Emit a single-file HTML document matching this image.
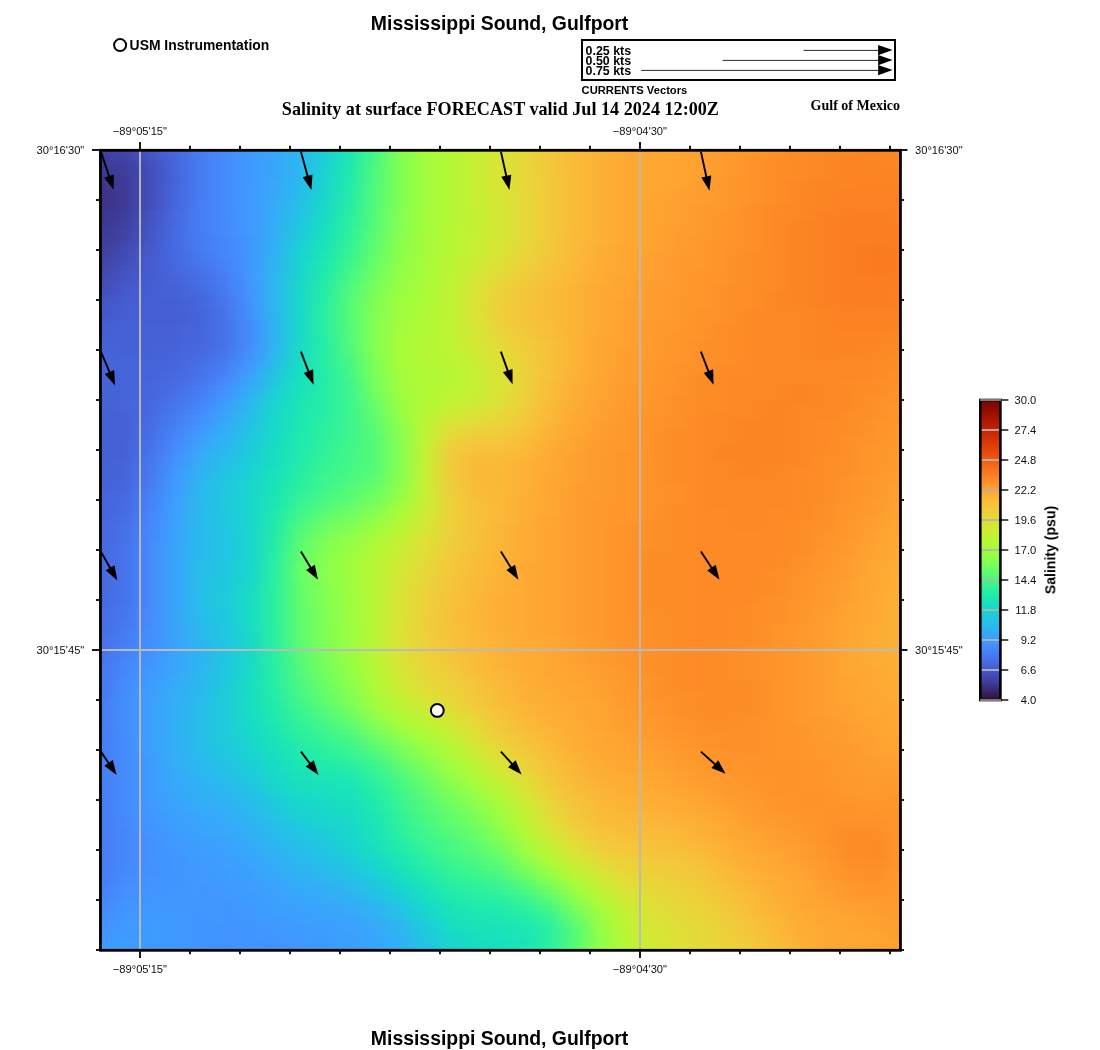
<!DOCTYPE html>
<html><head><meta charset="utf-8"><title>Mississippi Sound, Gulfport</title>
<style>
html,body{margin:0;padding:0;background:#fff;}
body{width:1100px;height:1050px;overflow:hidden;font-family:"Liberation Sans",sans-serif;}
svg{display:block;}
text{will-change:opacity;}
.sans{font-family:"Liberation Sans",sans-serif;}
.serif{font-family:"Liberation Serif",serif;}
</style></head><body>
<svg width="1100" height="1050" viewBox="0 0 1100 1050">
<defs>
<clipPath id="mapclip"><rect x="100" y="150" width="800" height="800"/></clipPath>
<linearGradient id="cb" x1="0" y1="0" x2="0" y2="1"><stop offset="0" stop-color="#7a0403"/><stop offset="0.0192308" stop-color="#880802"/><stop offset="0.0384615" stop-color="#980e01"/><stop offset="0.0576923" stop-color="#a71401"/><stop offset="0.0769231" stop-color="#b41b01"/><stop offset="0.0961538" stop-color="#c12302"/><stop offset="0.115385" stop-color="#cc2b04"/><stop offset="0.134615" stop-color="#d63506"/><stop offset="0.153846" stop-color="#df3f08"/><stop offset="0.173077" stop-color="#e7490c"/><stop offset="0.192308" stop-color="#ed5510"/><stop offset="0.211538" stop-color="#f36315"/><stop offset="0.230769" stop-color="#f8721c"/><stop offset="0.25" stop-color="#fb7e21"/><stop offset="0.269231" stop-color="#fd8d27"/><stop offset="0.288462" stop-color="#fe9b2d"/><stop offset="0.307692" stop-color="#fea933"/><stop offset="0.326923" stop-color="#fbb637"/><stop offset="0.346154" stop-color="#f7c13a"/><stop offset="0.365385" stop-color="#f1cb3a"/><stop offset="0.384615" stop-color="#e9d539"/><stop offset="0.403846" stop-color="#dfdf37"/><stop offset="0.423077" stop-color="#d4e735"/><stop offset="0.442308" stop-color="#c8ef34"/><stop offset="0.461538" stop-color="#bcf534"/><stop offset="0.480769" stop-color="#affa37"/><stop offset="0.5" stop-color="#a4fc3c"/><stop offset="0.519231" stop-color="#96fe44"/><stop offset="0.538462" stop-color="#84ff51"/><stop offset="0.557692" stop-color="#71fe5f"/><stop offset="0.576923" stop-color="#5dfc6f"/><stop offset="0.596154" stop-color="#4af880"/><stop offset="0.615385" stop-color="#38f491"/><stop offset="0.634615" stop-color="#2aefa1"/><stop offset="0.653846" stop-color="#1fe9af"/><stop offset="0.673077" stop-color="#19e2bb"/><stop offset="0.692308" stop-color="#18d9c8"/><stop offset="0.711538" stop-color="#1bd0d5"/><stop offset="0.730769" stop-color="#22c5e2"/><stop offset="0.75" stop-color="#28bceb"/><stop offset="0.769231" stop-color="#31aff5"/><stop offset="0.788462" stop-color="#3aa3fc"/><stop offset="0.807692" stop-color="#4196ff"/><stop offset="0.826923" stop-color="#458afc"/><stop offset="0.846154" stop-color="#467df4"/><stop offset="0.865385" stop-color="#4771e9"/><stop offset="0.884615" stop-color="#4664da"/><stop offset="0.903846" stop-color="#4456c7"/><stop offset="0.923077" stop-color="#4249b1"/><stop offset="0.942308" stop-color="#3f3b97"/><stop offset="0.961538" stop-color="#3a2d79"/><stop offset="0.980769" stop-color="#351e58"/><stop offset="1" stop-color="#30123b"/></linearGradient>
<linearGradient id="g0"><stop offset="0" stop-color="#4040a2"/><stop offset="0.03125" stop-color="#4249b1"/><stop offset="0.0625" stop-color="#4456c7"/><stop offset="0.09375" stop-color="#4669e0"/><stop offset="0.125" stop-color="#467df4"/><stop offset="0.15625" stop-color="#458cfd"/><stop offset="0.1875" stop-color="#3e9bfe"/><stop offset="0.21875" stop-color="#37a8fa"/><stop offset="0.25" stop-color="#2cb7f0"/><stop offset="0.28125" stop-color="#1bd0d5"/><stop offset="0.3125" stop-color="#1de7b2"/><stop offset="0.34375" stop-color="#4af880"/><stop offset="0.375" stop-color="#80ff53"/><stop offset="0.40625" stop-color="#a1fd3d"/><stop offset="0.4375" stop-color="#b4f836"/><stop offset="0.46875" stop-color="#c6f034"/><stop offset="0.5" stop-color="#d7e535"/><stop offset="0.53125" stop-color="#e7d739"/><stop offset="0.5625" stop-color="#f4c73a"/><stop offset="0.59375" stop-color="#faba39"/><stop offset="0.625" stop-color="#fcb136"/><stop offset="0.65625" stop-color="#fea933"/><stop offset="0.6875" stop-color="#fea732"/><stop offset="0.71875" stop-color="#fea431"/><stop offset="0.75" stop-color="#fea130"/><stop offset="0.78125" stop-color="#fe9b2d"/><stop offset="0.8125" stop-color="#fe962b"/><stop offset="0.84375" stop-color="#fe9029"/><stop offset="0.875" stop-color="#fd8a26"/><stop offset="0.90625" stop-color="#fc8725"/><stop offset="0.9375" stop-color="#fc8725"/><stop offset="0.96875" stop-color="#fc8423"/><stop offset="1" stop-color="#fc8725"/></linearGradient>
<linearGradient id="g1"><stop offset="0" stop-color="#4040a2"/><stop offset="0.03125" stop-color="#4146ac"/><stop offset="0.0625" stop-color="#4456c7"/><stop offset="0.09375" stop-color="#4669e0"/><stop offset="0.125" stop-color="#467df4"/><stop offset="0.15625" stop-color="#458cfd"/><stop offset="0.1875" stop-color="#3e9bfe"/><stop offset="0.21875" stop-color="#37a8fa"/><stop offset="0.25" stop-color="#2cb7f0"/><stop offset="0.28125" stop-color="#1bd0d5"/><stop offset="0.3125" stop-color="#1de7b2"/><stop offset="0.34375" stop-color="#4af880"/><stop offset="0.375" stop-color="#80ff53"/><stop offset="0.40625" stop-color="#a1fd3d"/><stop offset="0.4375" stop-color="#b4f836"/><stop offset="0.46875" stop-color="#c6f034"/><stop offset="0.5" stop-color="#d7e535"/><stop offset="0.53125" stop-color="#e7d739"/><stop offset="0.5625" stop-color="#f4c73a"/><stop offset="0.59375" stop-color="#faba39"/><stop offset="0.625" stop-color="#fcb136"/><stop offset="0.65625" stop-color="#fea933"/><stop offset="0.6875" stop-color="#fea732"/><stop offset="0.71875" stop-color="#fea431"/><stop offset="0.75" stop-color="#fea130"/><stop offset="0.78125" stop-color="#fe9b2d"/><stop offset="0.8125" stop-color="#fe962b"/><stop offset="0.84375" stop-color="#fe9029"/><stop offset="0.875" stop-color="#fd8a26"/><stop offset="0.90625" stop-color="#fc8725"/><stop offset="0.9375" stop-color="#fc8725"/><stop offset="0.96875" stop-color="#fc8423"/><stop offset="1" stop-color="#fc8725"/></linearGradient>
<linearGradient id="g2"><stop offset="0" stop-color="#3f3e9c"/><stop offset="0.03125" stop-color="#4143a7"/><stop offset="0.0625" stop-color="#4454c3"/><stop offset="0.09375" stop-color="#4666dd"/><stop offset="0.125" stop-color="#477bf2"/><stop offset="0.15625" stop-color="#458cfd"/><stop offset="0.1875" stop-color="#3e9bfe"/><stop offset="0.21875" stop-color="#38a5fb"/><stop offset="0.25" stop-color="#2cb7f0"/><stop offset="0.28125" stop-color="#1bd0d5"/><stop offset="0.3125" stop-color="#1de7b2"/><stop offset="0.34375" stop-color="#4af880"/><stop offset="0.375" stop-color="#80ff53"/><stop offset="0.40625" stop-color="#a1fd3d"/><stop offset="0.4375" stop-color="#b4f836"/><stop offset="0.46875" stop-color="#c6f034"/><stop offset="0.5" stop-color="#d9e436"/><stop offset="0.53125" stop-color="#e7d739"/><stop offset="0.5625" stop-color="#f4c73a"/><stop offset="0.59375" stop-color="#faba39"/><stop offset="0.625" stop-color="#fcb136"/><stop offset="0.65625" stop-color="#fea933"/><stop offset="0.6875" stop-color="#fea732"/><stop offset="0.71875" stop-color="#fea431"/><stop offset="0.75" stop-color="#fea130"/><stop offset="0.78125" stop-color="#fe9b2d"/><stop offset="0.8125" stop-color="#fe932a"/><stop offset="0.84375" stop-color="#fe9029"/><stop offset="0.875" stop-color="#fd8a26"/><stop offset="0.90625" stop-color="#fc8725"/><stop offset="0.9375" stop-color="#fc8423"/><stop offset="0.96875" stop-color="#fc8423"/><stop offset="1" stop-color="#fc8725"/></linearGradient>
<linearGradient id="g3"><stop offset="0" stop-color="#3f3b97"/><stop offset="0.03125" stop-color="#4040a2"/><stop offset="0.0625" stop-color="#4451bf"/><stop offset="0.09375" stop-color="#4666dd"/><stop offset="0.125" stop-color="#477bf2"/><stop offset="0.15625" stop-color="#458cfd"/><stop offset="0.1875" stop-color="#4099ff"/><stop offset="0.21875" stop-color="#38a5fb"/><stop offset="0.25" stop-color="#2cb7f0"/><stop offset="0.28125" stop-color="#1bd0d5"/><stop offset="0.3125" stop-color="#1fe9af"/><stop offset="0.34375" stop-color="#4af880"/><stop offset="0.375" stop-color="#80ff53"/><stop offset="0.40625" stop-color="#a1fd3d"/><stop offset="0.4375" stop-color="#b4f836"/><stop offset="0.46875" stop-color="#c6f034"/><stop offset="0.5" stop-color="#d9e436"/><stop offset="0.53125" stop-color="#e7d739"/><stop offset="0.5625" stop-color="#f4c73a"/><stop offset="0.59375" stop-color="#faba39"/><stop offset="0.625" stop-color="#fcb136"/><stop offset="0.65625" stop-color="#fea933"/><stop offset="0.6875" stop-color="#fea732"/><stop offset="0.71875" stop-color="#fea431"/><stop offset="0.75" stop-color="#fea130"/><stop offset="0.78125" stop-color="#fe9b2d"/><stop offset="0.8125" stop-color="#fe932a"/><stop offset="0.84375" stop-color="#fd8d27"/><stop offset="0.875" stop-color="#fd8a26"/><stop offset="0.90625" stop-color="#fc8725"/><stop offset="0.9375" stop-color="#fc8423"/><stop offset="0.96875" stop-color="#fc8423"/><stop offset="1" stop-color="#fc8725"/></linearGradient>
<linearGradient id="g4"><stop offset="0" stop-color="#3e3891"/><stop offset="0.03125" stop-color="#3f3e9c"/><stop offset="0.0625" stop-color="#434eba"/><stop offset="0.09375" stop-color="#4666dd"/><stop offset="0.125" stop-color="#477bf2"/><stop offset="0.15625" stop-color="#458cfd"/><stop offset="0.1875" stop-color="#4099ff"/><stop offset="0.21875" stop-color="#38a5fb"/><stop offset="0.25" stop-color="#2cb7f0"/><stop offset="0.28125" stop-color="#1ad2d2"/><stop offset="0.3125" stop-color="#1fe9af"/><stop offset="0.34375" stop-color="#4ef97d"/><stop offset="0.375" stop-color="#80ff53"/><stop offset="0.40625" stop-color="#a1fd3d"/><stop offset="0.4375" stop-color="#b4f836"/><stop offset="0.46875" stop-color="#c6f034"/><stop offset="0.5" stop-color="#d9e436"/><stop offset="0.53125" stop-color="#e7d739"/><stop offset="0.5625" stop-color="#f4c73a"/><stop offset="0.59375" stop-color="#f9bc39"/><stop offset="0.625" stop-color="#fcb136"/><stop offset="0.65625" stop-color="#fea933"/><stop offset="0.6875" stop-color="#fea732"/><stop offset="0.71875" stop-color="#fea431"/><stop offset="0.75" stop-color="#fea130"/><stop offset="0.78125" stop-color="#fe9b2d"/><stop offset="0.8125" stop-color="#fe932a"/><stop offset="0.84375" stop-color="#fd8d27"/><stop offset="0.875" stop-color="#fd8a26"/><stop offset="0.90625" stop-color="#fc8725"/><stop offset="0.9375" stop-color="#fc8423"/><stop offset="0.96875" stop-color="#fc8423"/><stop offset="1" stop-color="#fc8725"/></linearGradient>
<linearGradient id="g5"><stop offset="0" stop-color="#3e3891"/><stop offset="0.03125" stop-color="#3f3e9c"/><stop offset="0.0625" stop-color="#434eba"/><stop offset="0.09375" stop-color="#4664da"/><stop offset="0.125" stop-color="#477bf2"/><stop offset="0.15625" stop-color="#458cfd"/><stop offset="0.1875" stop-color="#4099ff"/><stop offset="0.21875" stop-color="#38a5fb"/><stop offset="0.25" stop-color="#2cb7f0"/><stop offset="0.28125" stop-color="#1ad2d2"/><stop offset="0.3125" stop-color="#20eaac"/><stop offset="0.34375" stop-color="#4ef97d"/><stop offset="0.375" stop-color="#80ff53"/><stop offset="0.40625" stop-color="#a1fd3d"/><stop offset="0.4375" stop-color="#b4f836"/><stop offset="0.46875" stop-color="#c6f034"/><stop offset="0.5" stop-color="#d9e436"/><stop offset="0.53125" stop-color="#e7d739"/><stop offset="0.5625" stop-color="#f2c93a"/><stop offset="0.59375" stop-color="#f9bc39"/><stop offset="0.625" stop-color="#fcb136"/><stop offset="0.65625" stop-color="#fea933"/><stop offset="0.6875" stop-color="#fea732"/><stop offset="0.71875" stop-color="#fea431"/><stop offset="0.75" stop-color="#fea130"/><stop offset="0.78125" stop-color="#fe9b2d"/><stop offset="0.8125" stop-color="#fe932a"/><stop offset="0.84375" stop-color="#fd8d27"/><stop offset="0.875" stop-color="#fd8a26"/><stop offset="0.90625" stop-color="#fc8725"/><stop offset="0.9375" stop-color="#fc8423"/><stop offset="0.96875" stop-color="#fc8423"/><stop offset="1" stop-color="#fc8423"/></linearGradient>
<linearGradient id="g6"><stop offset="0" stop-color="#3d358b"/><stop offset="0.03125" stop-color="#3f3b97"/><stop offset="0.0625" stop-color="#434eba"/><stop offset="0.09375" stop-color="#4664da"/><stop offset="0.125" stop-color="#477bf2"/><stop offset="0.15625" stop-color="#458cfd"/><stop offset="0.1875" stop-color="#4099ff"/><stop offset="0.21875" stop-color="#38a5fb"/><stop offset="0.25" stop-color="#2ab9ee"/><stop offset="0.28125" stop-color="#1ad4d0"/><stop offset="0.3125" stop-color="#20eaac"/><stop offset="0.34375" stop-color="#4ef97d"/><stop offset="0.375" stop-color="#80ff53"/><stop offset="0.40625" stop-color="#a1fd3d"/><stop offset="0.4375" stop-color="#b4f836"/><stop offset="0.46875" stop-color="#c6f034"/><stop offset="0.5" stop-color="#d9e436"/><stop offset="0.53125" stop-color="#e7d739"/><stop offset="0.5625" stop-color="#f2c93a"/><stop offset="0.59375" stop-color="#f9bc39"/><stop offset="0.625" stop-color="#fcb136"/><stop offset="0.65625" stop-color="#fea933"/><stop offset="0.6875" stop-color="#fea732"/><stop offset="0.71875" stop-color="#fea431"/><stop offset="0.75" stop-color="#fea130"/><stop offset="0.78125" stop-color="#fe992c"/><stop offset="0.8125" stop-color="#fe932a"/><stop offset="0.84375" stop-color="#fd8d27"/><stop offset="0.875" stop-color="#fd8a26"/><stop offset="0.90625" stop-color="#fc8725"/><stop offset="0.9375" stop-color="#fc8423"/><stop offset="0.96875" stop-color="#fc8423"/><stop offset="1" stop-color="#fc8423"/></linearGradient>
<linearGradient id="g7"><stop offset="0" stop-color="#3d358b"/><stop offset="0.03125" stop-color="#3f3b97"/><stop offset="0.0625" stop-color="#434eba"/><stop offset="0.09375" stop-color="#4664da"/><stop offset="0.125" stop-color="#477bf2"/><stop offset="0.15625" stop-color="#458cfd"/><stop offset="0.1875" stop-color="#4099ff"/><stop offset="0.21875" stop-color="#37a8fa"/><stop offset="0.25" stop-color="#2ab9ee"/><stop offset="0.28125" stop-color="#1ad4d0"/><stop offset="0.3125" stop-color="#22ebaa"/><stop offset="0.34375" stop-color="#4ef97d"/><stop offset="0.375" stop-color="#80ff53"/><stop offset="0.40625" stop-color="#a1fd3d"/><stop offset="0.4375" stop-color="#b4f836"/><stop offset="0.46875" stop-color="#c6f034"/><stop offset="0.5" stop-color="#d7e535"/><stop offset="0.53125" stop-color="#e7d739"/><stop offset="0.5625" stop-color="#f2c93a"/><stop offset="0.59375" stop-color="#f9bc39"/><stop offset="0.625" stop-color="#fcb136"/><stop offset="0.65625" stop-color="#fea933"/><stop offset="0.6875" stop-color="#fea732"/><stop offset="0.71875" stop-color="#fea431"/><stop offset="0.75" stop-color="#fe9e2f"/><stop offset="0.78125" stop-color="#fe992c"/><stop offset="0.8125" stop-color="#fe932a"/><stop offset="0.84375" stop-color="#fd8d27"/><stop offset="0.875" stop-color="#fc8725"/><stop offset="0.90625" stop-color="#fc8423"/><stop offset="0.9375" stop-color="#fc8423"/><stop offset="0.96875" stop-color="#fc8423"/><stop offset="1" stop-color="#fc8423"/></linearGradient>
<linearGradient id="g8"><stop offset="0" stop-color="#3d358b"/><stop offset="0.03125" stop-color="#3f3b97"/><stop offset="0.0625" stop-color="#434eba"/><stop offset="0.09375" stop-color="#4666dd"/><stop offset="0.125" stop-color="#477bf2"/><stop offset="0.15625" stop-color="#458cfd"/><stop offset="0.1875" stop-color="#4099ff"/><stop offset="0.21875" stop-color="#37a8fa"/><stop offset="0.25" stop-color="#28bceb"/><stop offset="0.28125" stop-color="#19d5cd"/><stop offset="0.3125" stop-color="#22ebaa"/><stop offset="0.34375" stop-color="#52fa7a"/><stop offset="0.375" stop-color="#80ff53"/><stop offset="0.40625" stop-color="#a1fd3d"/><stop offset="0.4375" stop-color="#b4f836"/><stop offset="0.46875" stop-color="#c6f034"/><stop offset="0.5" stop-color="#d7e535"/><stop offset="0.53125" stop-color="#e7d739"/><stop offset="0.5625" stop-color="#f2c93a"/><stop offset="0.59375" stop-color="#f9bc39"/><stop offset="0.625" stop-color="#fcb136"/><stop offset="0.65625" stop-color="#fea933"/><stop offset="0.6875" stop-color="#fea732"/><stop offset="0.71875" stop-color="#fea431"/><stop offset="0.75" stop-color="#fe9e2f"/><stop offset="0.78125" stop-color="#fe992c"/><stop offset="0.8125" stop-color="#fe932a"/><stop offset="0.84375" stop-color="#fd8d27"/><stop offset="0.875" stop-color="#fc8725"/><stop offset="0.90625" stop-color="#fc8423"/><stop offset="0.9375" stop-color="#fc8423"/><stop offset="0.96875" stop-color="#fb8122"/><stop offset="1" stop-color="#fc8423"/></linearGradient>
<linearGradient id="g9"><stop offset="0" stop-color="#3c3286"/><stop offset="0.03125" stop-color="#3f3b97"/><stop offset="0.0625" stop-color="#434eba"/><stop offset="0.09375" stop-color="#4666dd"/><stop offset="0.125" stop-color="#477bf2"/><stop offset="0.15625" stop-color="#458cfd"/><stop offset="0.1875" stop-color="#4099ff"/><stop offset="0.21875" stop-color="#37a8fa"/><stop offset="0.25" stop-color="#28bceb"/><stop offset="0.28125" stop-color="#19d5cd"/><stop offset="0.3125" stop-color="#25eca7"/><stop offset="0.34375" stop-color="#52fa7a"/><stop offset="0.375" stop-color="#80ff53"/><stop offset="0.40625" stop-color="#a1fd3d"/><stop offset="0.4375" stop-color="#b4f836"/><stop offset="0.46875" stop-color="#c6f034"/><stop offset="0.5" stop-color="#d7e535"/><stop offset="0.53125" stop-color="#e7d739"/><stop offset="0.5625" stop-color="#f2c93a"/><stop offset="0.59375" stop-color="#f9bc39"/><stop offset="0.625" stop-color="#fcb136"/><stop offset="0.65625" stop-color="#fea933"/><stop offset="0.6875" stop-color="#fea732"/><stop offset="0.71875" stop-color="#fea130"/><stop offset="0.75" stop-color="#fe9e2f"/><stop offset="0.78125" stop-color="#fe992c"/><stop offset="0.8125" stop-color="#fe932a"/><stop offset="0.84375" stop-color="#fd8d27"/><stop offset="0.875" stop-color="#fc8725"/><stop offset="0.90625" stop-color="#fc8423"/><stop offset="0.9375" stop-color="#fb8122"/><stop offset="0.96875" stop-color="#fb8122"/><stop offset="1" stop-color="#fc8423"/></linearGradient>
<linearGradient id="g10"><stop offset="0" stop-color="#3c3286"/><stop offset="0.03125" stop-color="#3f3b97"/><stop offset="0.0625" stop-color="#434eba"/><stop offset="0.09375" stop-color="#4666dd"/><stop offset="0.125" stop-color="#477bf2"/><stop offset="0.15625" stop-color="#458cfd"/><stop offset="0.1875" stop-color="#4099ff"/><stop offset="0.21875" stop-color="#37a8fa"/><stop offset="0.25" stop-color="#27bee9"/><stop offset="0.28125" stop-color="#18d7ca"/><stop offset="0.3125" stop-color="#25eca7"/><stop offset="0.34375" stop-color="#52fa7a"/><stop offset="0.375" stop-color="#80ff53"/><stop offset="0.40625" stop-color="#a1fd3d"/><stop offset="0.4375" stop-color="#b4f836"/><stop offset="0.46875" stop-color="#c6f034"/><stop offset="0.5" stop-color="#d7e535"/><stop offset="0.53125" stop-color="#e5d938"/><stop offset="0.5625" stop-color="#f2c93a"/><stop offset="0.59375" stop-color="#f9bc39"/><stop offset="0.625" stop-color="#fcb136"/><stop offset="0.65625" stop-color="#fea933"/><stop offset="0.6875" stop-color="#fea732"/><stop offset="0.71875" stop-color="#fea130"/><stop offset="0.75" stop-color="#fe9e2f"/><stop offset="0.78125" stop-color="#fe992c"/><stop offset="0.8125" stop-color="#fe932a"/><stop offset="0.84375" stop-color="#fd8d27"/><stop offset="0.875" stop-color="#fc8725"/><stop offset="0.90625" stop-color="#fc8423"/><stop offset="0.9375" stop-color="#fb8122"/><stop offset="0.96875" stop-color="#fb8122"/><stop offset="1" stop-color="#fb8122"/></linearGradient>
<linearGradient id="g11"><stop offset="0" stop-color="#3c3286"/><stop offset="0.03125" stop-color="#3f3b97"/><stop offset="0.0625" stop-color="#434eba"/><stop offset="0.09375" stop-color="#4666dd"/><stop offset="0.125" stop-color="#467df4"/><stop offset="0.15625" stop-color="#458cfd"/><stop offset="0.1875" stop-color="#4099ff"/><stop offset="0.21875" stop-color="#35abf8"/><stop offset="0.25" stop-color="#25c0e7"/><stop offset="0.28125" stop-color="#18d9c8"/><stop offset="0.3125" stop-color="#25eca7"/><stop offset="0.34375" stop-color="#52fa7a"/><stop offset="0.375" stop-color="#80ff53"/><stop offset="0.40625" stop-color="#a1fd3d"/><stop offset="0.4375" stop-color="#b4f836"/><stop offset="0.46875" stop-color="#c6f034"/><stop offset="0.5" stop-color="#d4e735"/><stop offset="0.53125" stop-color="#e5d938"/><stop offset="0.5625" stop-color="#f2c93a"/><stop offset="0.59375" stop-color="#f9bc39"/><stop offset="0.625" stop-color="#fcb136"/><stop offset="0.65625" stop-color="#fea933"/><stop offset="0.6875" stop-color="#fea431"/><stop offset="0.71875" stop-color="#fea130"/><stop offset="0.75" stop-color="#fe9e2f"/><stop offset="0.78125" stop-color="#fe992c"/><stop offset="0.8125" stop-color="#fe932a"/><stop offset="0.84375" stop-color="#fd8d27"/><stop offset="0.875" stop-color="#fc8725"/><stop offset="0.90625" stop-color="#fc8423"/><stop offset="0.9375" stop-color="#fb8122"/><stop offset="0.96875" stop-color="#fb8122"/><stop offset="1" stop-color="#fb8122"/></linearGradient>
<linearGradient id="g12"><stop offset="0" stop-color="#3c3286"/><stop offset="0.03125" stop-color="#3f3b97"/><stop offset="0.0625" stop-color="#434eba"/><stop offset="0.09375" stop-color="#4666dd"/><stop offset="0.125" stop-color="#467df4"/><stop offset="0.15625" stop-color="#458cfd"/><stop offset="0.1875" stop-color="#4099ff"/><stop offset="0.21875" stop-color="#35abf8"/><stop offset="0.25" stop-color="#25c0e7"/><stop offset="0.28125" stop-color="#18d9c8"/><stop offset="0.3125" stop-color="#27eea4"/><stop offset="0.34375" stop-color="#52fa7a"/><stop offset="0.375" stop-color="#80ff53"/><stop offset="0.40625" stop-color="#a1fd3d"/><stop offset="0.4375" stop-color="#b4f836"/><stop offset="0.46875" stop-color="#c6f034"/><stop offset="0.5" stop-color="#d4e735"/><stop offset="0.53125" stop-color="#e5d938"/><stop offset="0.5625" stop-color="#f2c93a"/><stop offset="0.59375" stop-color="#f9bc39"/><stop offset="0.625" stop-color="#fcb136"/><stop offset="0.65625" stop-color="#fea933"/><stop offset="0.6875" stop-color="#fea431"/><stop offset="0.71875" stop-color="#fea130"/><stop offset="0.75" stop-color="#fe9b2d"/><stop offset="0.78125" stop-color="#fe992c"/><stop offset="0.8125" stop-color="#fe9029"/><stop offset="0.84375" stop-color="#fd8a26"/><stop offset="0.875" stop-color="#fc8725"/><stop offset="0.90625" stop-color="#fc8423"/><stop offset="0.9375" stop-color="#fb8122"/><stop offset="0.96875" stop-color="#fb8122"/><stop offset="1" stop-color="#fb8122"/></linearGradient>
<linearGradient id="g13"><stop offset="0" stop-color="#3d358b"/><stop offset="0.03125" stop-color="#3f3e9c"/><stop offset="0.0625" stop-color="#4451bf"/><stop offset="0.09375" stop-color="#4669e0"/><stop offset="0.125" stop-color="#467df4"/><stop offset="0.15625" stop-color="#458afc"/><stop offset="0.1875" stop-color="#4099ff"/><stop offset="0.21875" stop-color="#35abf8"/><stop offset="0.25" stop-color="#23c3e4"/><stop offset="0.28125" stop-color="#18dbc5"/><stop offset="0.3125" stop-color="#27eea4"/><stop offset="0.34375" stop-color="#55fa76"/><stop offset="0.375" stop-color="#84ff51"/><stop offset="0.40625" stop-color="#a1fd3d"/><stop offset="0.4375" stop-color="#b4f836"/><stop offset="0.46875" stop-color="#c3f134"/><stop offset="0.5" stop-color="#d4e735"/><stop offset="0.53125" stop-color="#e5d938"/><stop offset="0.5625" stop-color="#f2c93a"/><stop offset="0.59375" stop-color="#f9bc39"/><stop offset="0.625" stop-color="#fcb136"/><stop offset="0.65625" stop-color="#fea933"/><stop offset="0.6875" stop-color="#fea431"/><stop offset="0.71875" stop-color="#fea130"/><stop offset="0.75" stop-color="#fe9b2d"/><stop offset="0.78125" stop-color="#fe962b"/><stop offset="0.8125" stop-color="#fe9029"/><stop offset="0.84375" stop-color="#fd8a26"/><stop offset="0.875" stop-color="#fc8725"/><stop offset="0.90625" stop-color="#fb8122"/><stop offset="0.9375" stop-color="#fb8122"/><stop offset="0.96875" stop-color="#fb7e21"/><stop offset="1" stop-color="#fb8122"/></linearGradient>
<linearGradient id="g14"><stop offset="0" stop-color="#3d358b"/><stop offset="0.03125" stop-color="#3f3e9c"/><stop offset="0.0625" stop-color="#4451bf"/><stop offset="0.09375" stop-color="#4669e0"/><stop offset="0.125" stop-color="#467df4"/><stop offset="0.15625" stop-color="#458afc"/><stop offset="0.1875" stop-color="#4099ff"/><stop offset="0.21875" stop-color="#33adf7"/><stop offset="0.25" stop-color="#22c5e2"/><stop offset="0.28125" stop-color="#18ddc2"/><stop offset="0.3125" stop-color="#2aefa1"/><stop offset="0.34375" stop-color="#55fa76"/><stop offset="0.375" stop-color="#84ff51"/><stop offset="0.40625" stop-color="#a1fd3d"/><stop offset="0.4375" stop-color="#b4f836"/><stop offset="0.46875" stop-color="#c3f134"/><stop offset="0.5" stop-color="#d4e735"/><stop offset="0.53125" stop-color="#e5d938"/><stop offset="0.5625" stop-color="#f2c93a"/><stop offset="0.59375" stop-color="#f9bc39"/><stop offset="0.625" stop-color="#fcb136"/><stop offset="0.65625" stop-color="#fea933"/><stop offset="0.6875" stop-color="#fea431"/><stop offset="0.71875" stop-color="#fea130"/><stop offset="0.75" stop-color="#fe9b2d"/><stop offset="0.78125" stop-color="#fe962b"/><stop offset="0.8125" stop-color="#fe9029"/><stop offset="0.84375" stop-color="#fd8a26"/><stop offset="0.875" stop-color="#fc8725"/><stop offset="0.90625" stop-color="#fb8122"/><stop offset="0.9375" stop-color="#fb7e21"/><stop offset="0.96875" stop-color="#fb7e21"/><stop offset="1" stop-color="#fb8122"/></linearGradient>
<linearGradient id="g15"><stop offset="0" stop-color="#3d358b"/><stop offset="0.03125" stop-color="#4040a2"/><stop offset="0.0625" stop-color="#4454c3"/><stop offset="0.09375" stop-color="#4669e0"/><stop offset="0.125" stop-color="#467df4"/><stop offset="0.15625" stop-color="#458afc"/><stop offset="0.1875" stop-color="#4099ff"/><stop offset="0.21875" stop-color="#33adf7"/><stop offset="0.25" stop-color="#20c7df"/><stop offset="0.28125" stop-color="#18dec0"/><stop offset="0.3125" stop-color="#2aefa1"/><stop offset="0.34375" stop-color="#55fa76"/><stop offset="0.375" stop-color="#84ff51"/><stop offset="0.40625" stop-color="#a1fd3d"/><stop offset="0.4375" stop-color="#b7f735"/><stop offset="0.46875" stop-color="#c3f134"/><stop offset="0.5" stop-color="#d4e735"/><stop offset="0.53125" stop-color="#e5d938"/><stop offset="0.5625" stop-color="#f2c93a"/><stop offset="0.59375" stop-color="#f9bc39"/><stop offset="0.625" stop-color="#fcb136"/><stop offset="0.65625" stop-color="#fea933"/><stop offset="0.6875" stop-color="#fea431"/><stop offset="0.71875" stop-color="#fea130"/><stop offset="0.75" stop-color="#fe9b2d"/><stop offset="0.78125" stop-color="#fe962b"/><stop offset="0.8125" stop-color="#fe9029"/><stop offset="0.84375" stop-color="#fd8a26"/><stop offset="0.875" stop-color="#fc8423"/><stop offset="0.90625" stop-color="#fb8122"/><stop offset="0.9375" stop-color="#fb7e21"/><stop offset="0.96875" stop-color="#fb7e21"/><stop offset="1" stop-color="#fb8122"/></linearGradient>
<linearGradient id="g16"><stop offset="0" stop-color="#3e3891"/><stop offset="0.03125" stop-color="#4040a2"/><stop offset="0.0625" stop-color="#4454c3"/><stop offset="0.09375" stop-color="#4669e0"/><stop offset="0.125" stop-color="#467df4"/><stop offset="0.15625" stop-color="#458afc"/><stop offset="0.1875" stop-color="#4099ff"/><stop offset="0.21875" stop-color="#33adf7"/><stop offset="0.25" stop-color="#1fc9dd"/><stop offset="0.28125" stop-color="#18e0bd"/><stop offset="0.3125" stop-color="#2cf09e"/><stop offset="0.34375" stop-color="#55fa76"/><stop offset="0.375" stop-color="#84ff51"/><stop offset="0.40625" stop-color="#a1fd3d"/><stop offset="0.4375" stop-color="#b7f735"/><stop offset="0.46875" stop-color="#c3f134"/><stop offset="0.5" stop-color="#d4e735"/><stop offset="0.53125" stop-color="#e5d938"/><stop offset="0.5625" stop-color="#f2c93a"/><stop offset="0.59375" stop-color="#f9bc39"/><stop offset="0.625" stop-color="#fcb136"/><stop offset="0.65625" stop-color="#fea933"/><stop offset="0.6875" stop-color="#fea431"/><stop offset="0.71875" stop-color="#fe9e2f"/><stop offset="0.75" stop-color="#fe9b2d"/><stop offset="0.78125" stop-color="#fe962b"/><stop offset="0.8125" stop-color="#fe9029"/><stop offset="0.84375" stop-color="#fd8a26"/><stop offset="0.875" stop-color="#fc8423"/><stop offset="0.90625" stop-color="#fb8122"/><stop offset="0.9375" stop-color="#fb7e21"/><stop offset="0.96875" stop-color="#fb7e21"/><stop offset="1" stop-color="#fb7e21"/></linearGradient>
<linearGradient id="g17"><stop offset="0" stop-color="#3e3891"/><stop offset="0.03125" stop-color="#4143a7"/><stop offset="0.0625" stop-color="#4456c7"/><stop offset="0.09375" stop-color="#466be3"/><stop offset="0.125" stop-color="#467df4"/><stop offset="0.15625" stop-color="#458afc"/><stop offset="0.1875" stop-color="#4099ff"/><stop offset="0.21875" stop-color="#31aff5"/><stop offset="0.25" stop-color="#1fc9dd"/><stop offset="0.28125" stop-color="#18e0bd"/><stop offset="0.3125" stop-color="#2ff19b"/><stop offset="0.34375" stop-color="#59fb73"/><stop offset="0.375" stop-color="#84ff51"/><stop offset="0.40625" stop-color="#a4fc3c"/><stop offset="0.4375" stop-color="#b7f735"/><stop offset="0.46875" stop-color="#c6f034"/><stop offset="0.5" stop-color="#d4e735"/><stop offset="0.53125" stop-color="#e5d938"/><stop offset="0.5625" stop-color="#f2c93a"/><stop offset="0.59375" stop-color="#faba39"/><stop offset="0.625" stop-color="#fcb136"/><stop offset="0.65625" stop-color="#fea933"/><stop offset="0.6875" stop-color="#fea431"/><stop offset="0.71875" stop-color="#fe9e2f"/><stop offset="0.75" stop-color="#fe9b2d"/><stop offset="0.78125" stop-color="#fe962b"/><stop offset="0.8125" stop-color="#fe9029"/><stop offset="0.84375" stop-color="#fd8a26"/><stop offset="0.875" stop-color="#fc8423"/><stop offset="0.90625" stop-color="#fb8122"/><stop offset="0.9375" stop-color="#fb7e21"/><stop offset="0.96875" stop-color="#fb7e21"/><stop offset="1" stop-color="#fb7e21"/></linearGradient>
<linearGradient id="g18"><stop offset="0" stop-color="#3f3b97"/><stop offset="0.03125" stop-color="#4143a7"/><stop offset="0.0625" stop-color="#4456c7"/><stop offset="0.09375" stop-color="#466be3"/><stop offset="0.125" stop-color="#477bf2"/><stop offset="0.15625" stop-color="#4687fb"/><stop offset="0.1875" stop-color="#4196ff"/><stop offset="0.21875" stop-color="#31aff5"/><stop offset="0.25" stop-color="#1ecbda"/><stop offset="0.28125" stop-color="#19e2bb"/><stop offset="0.3125" stop-color="#2ff19b"/><stop offset="0.34375" stop-color="#59fb73"/><stop offset="0.375" stop-color="#88ff4e"/><stop offset="0.40625" stop-color="#a4fc3c"/><stop offset="0.4375" stop-color="#b7f735"/><stop offset="0.46875" stop-color="#c6f034"/><stop offset="0.5" stop-color="#d4e735"/><stop offset="0.53125" stop-color="#e5d938"/><stop offset="0.5625" stop-color="#f2c93a"/><stop offset="0.59375" stop-color="#faba39"/><stop offset="0.625" stop-color="#fcb136"/><stop offset="0.65625" stop-color="#fea933"/><stop offset="0.6875" stop-color="#fea431"/><stop offset="0.71875" stop-color="#fe9e2f"/><stop offset="0.75" stop-color="#fe992c"/><stop offset="0.78125" stop-color="#fe962b"/><stop offset="0.8125" stop-color="#fe9029"/><stop offset="0.84375" stop-color="#fd8a26"/><stop offset="0.875" stop-color="#fc8423"/><stop offset="0.90625" stop-color="#fb8122"/><stop offset="0.9375" stop-color="#fb7e21"/><stop offset="0.96875" stop-color="#fb7e21"/><stop offset="1" stop-color="#fb7e21"/></linearGradient>
<linearGradient id="g19"><stop offset="0" stop-color="#3f3b97"/><stop offset="0.03125" stop-color="#4146ac"/><stop offset="0.0625" stop-color="#4456c7"/><stop offset="0.09375" stop-color="#466be3"/><stop offset="0.125" stop-color="#477bf2"/><stop offset="0.15625" stop-color="#4687fb"/><stop offset="0.1875" stop-color="#4196ff"/><stop offset="0.21875" stop-color="#2fb2f4"/><stop offset="0.25" stop-color="#1ccdd8"/><stop offset="0.28125" stop-color="#19e3b9"/><stop offset="0.3125" stop-color="#32f298"/><stop offset="0.34375" stop-color="#5dfc6f"/><stop offset="0.375" stop-color="#88ff4e"/><stop offset="0.40625" stop-color="#a4fc3c"/><stop offset="0.4375" stop-color="#b7f735"/><stop offset="0.46875" stop-color="#c6f034"/><stop offset="0.5" stop-color="#d7e535"/><stop offset="0.53125" stop-color="#e7d739"/><stop offset="0.5625" stop-color="#f2c93a"/><stop offset="0.59375" stop-color="#faba39"/><stop offset="0.625" stop-color="#fcb136"/><stop offset="0.65625" stop-color="#fea933"/><stop offset="0.6875" stop-color="#fea431"/><stop offset="0.71875" stop-color="#fe9e2f"/><stop offset="0.75" stop-color="#fe992c"/><stop offset="0.78125" stop-color="#fe932a"/><stop offset="0.8125" stop-color="#fe9029"/><stop offset="0.84375" stop-color="#fd8a26"/><stop offset="0.875" stop-color="#fc8423"/><stop offset="0.90625" stop-color="#fb8122"/><stop offset="0.9375" stop-color="#fb7e21"/><stop offset="0.96875" stop-color="#fb7e21"/><stop offset="1" stop-color="#fb7e21"/></linearGradient>
<linearGradient id="g20"><stop offset="0" stop-color="#3f3e9c"/><stop offset="0.03125" stop-color="#4249b1"/><stop offset="0.0625" stop-color="#4559cb"/><stop offset="0.09375" stop-color="#466be3"/><stop offset="0.125" stop-color="#477bf2"/><stop offset="0.15625" stop-color="#4687fb"/><stop offset="0.1875" stop-color="#4196ff"/><stop offset="0.21875" stop-color="#2fb2f4"/><stop offset="0.25" stop-color="#1bd0d5"/><stop offset="0.28125" stop-color="#1ae4b6"/><stop offset="0.3125" stop-color="#35f394"/><stop offset="0.34375" stop-color="#5dfc6f"/><stop offset="0.375" stop-color="#88ff4e"/><stop offset="0.40625" stop-color="#a4fc3c"/><stop offset="0.4375" stop-color="#b7f735"/><stop offset="0.46875" stop-color="#c8ef34"/><stop offset="0.5" stop-color="#d7e535"/><stop offset="0.53125" stop-color="#e7d739"/><stop offset="0.5625" stop-color="#f4c73a"/><stop offset="0.59375" stop-color="#faba39"/><stop offset="0.625" stop-color="#fdae35"/><stop offset="0.65625" stop-color="#fea732"/><stop offset="0.6875" stop-color="#fea431"/><stop offset="0.71875" stop-color="#fe9e2f"/><stop offset="0.75" stop-color="#fe992c"/><stop offset="0.78125" stop-color="#fe932a"/><stop offset="0.8125" stop-color="#fe9029"/><stop offset="0.84375" stop-color="#fd8a26"/><stop offset="0.875" stop-color="#fc8423"/><stop offset="0.90625" stop-color="#fb8122"/><stop offset="0.9375" stop-color="#fb7e21"/><stop offset="0.96875" stop-color="#fa7b1f"/><stop offset="1" stop-color="#fb7e21"/></linearGradient>
<linearGradient id="g21"><stop offset="0" stop-color="#3f3e9c"/><stop offset="0.03125" stop-color="#424bb5"/><stop offset="0.0625" stop-color="#4559cb"/><stop offset="0.09375" stop-color="#4669e0"/><stop offset="0.125" stop-color="#4778f0"/><stop offset="0.15625" stop-color="#4685fa"/><stop offset="0.1875" stop-color="#4196ff"/><stop offset="0.21875" stop-color="#2fb2f4"/><stop offset="0.25" stop-color="#1ad2d2"/><stop offset="0.28125" stop-color="#1ce6b4"/><stop offset="0.3125" stop-color="#35f394"/><stop offset="0.34375" stop-color="#61fc6c"/><stop offset="0.375" stop-color="#8bff4b"/><stop offset="0.40625" stop-color="#a4fc3c"/><stop offset="0.4375" stop-color="#b7f735"/><stop offset="0.46875" stop-color="#c8ef34"/><stop offset="0.5" stop-color="#d9e436"/><stop offset="0.53125" stop-color="#e9d539"/><stop offset="0.5625" stop-color="#f4c73a"/><stop offset="0.59375" stop-color="#faba39"/><stop offset="0.625" stop-color="#fdae35"/><stop offset="0.65625" stop-color="#fea732"/><stop offset="0.6875" stop-color="#fea130"/><stop offset="0.71875" stop-color="#fe9e2f"/><stop offset="0.75" stop-color="#fe992c"/><stop offset="0.78125" stop-color="#fe932a"/><stop offset="0.8125" stop-color="#fd8d27"/><stop offset="0.84375" stop-color="#fd8a26"/><stop offset="0.875" stop-color="#fc8423"/><stop offset="0.90625" stop-color="#fb8122"/><stop offset="0.9375" stop-color="#fb7e21"/><stop offset="0.96875" stop-color="#fa7b1f"/><stop offset="1" stop-color="#fb7e21"/></linearGradient>
<linearGradient id="g22"><stop offset="0" stop-color="#4040a2"/><stop offset="0.03125" stop-color="#424bb5"/><stop offset="0.0625" stop-color="#455ccf"/><stop offset="0.09375" stop-color="#4669e0"/><stop offset="0.125" stop-color="#4778f0"/><stop offset="0.15625" stop-color="#4685fa"/><stop offset="0.1875" stop-color="#4196ff"/><stop offset="0.21875" stop-color="#2eb4f2"/><stop offset="0.25" stop-color="#1ad2d2"/><stop offset="0.28125" stop-color="#1de7b2"/><stop offset="0.3125" stop-color="#38f491"/><stop offset="0.34375" stop-color="#65fd69"/><stop offset="0.375" stop-color="#8bff4b"/><stop offset="0.40625" stop-color="#a4fc3c"/><stop offset="0.4375" stop-color="#b9f635"/><stop offset="0.46875" stop-color="#cbed34"/><stop offset="0.5" stop-color="#dbe236"/><stop offset="0.53125" stop-color="#ebd339"/><stop offset="0.5625" stop-color="#f5c53a"/><stop offset="0.59375" stop-color="#fbb838"/><stop offset="0.625" stop-color="#fdae35"/><stop offset="0.65625" stop-color="#fea732"/><stop offset="0.6875" stop-color="#fea130"/><stop offset="0.71875" stop-color="#fe9b2d"/><stop offset="0.75" stop-color="#fe992c"/><stop offset="0.78125" stop-color="#fe932a"/><stop offset="0.8125" stop-color="#fd8d27"/><stop offset="0.84375" stop-color="#fd8a26"/><stop offset="0.875" stop-color="#fc8423"/><stop offset="0.90625" stop-color="#fb8122"/><stop offset="0.9375" stop-color="#fb7e21"/><stop offset="0.96875" stop-color="#fa7b1f"/><stop offset="1" stop-color="#fb7e21"/></linearGradient>
<linearGradient id="g23"><stop offset="0" stop-color="#4143a7"/><stop offset="0.03125" stop-color="#434eba"/><stop offset="0.0625" stop-color="#455ccf"/><stop offset="0.09375" stop-color="#4669e0"/><stop offset="0.125" stop-color="#4776ee"/><stop offset="0.15625" stop-color="#4682f8"/><stop offset="0.1875" stop-color="#4196ff"/><stop offset="0.21875" stop-color="#2eb4f2"/><stop offset="0.25" stop-color="#1ad4d0"/><stop offset="0.28125" stop-color="#1fe9af"/><stop offset="0.3125" stop-color="#3cf58e"/><stop offset="0.34375" stop-color="#69fd66"/><stop offset="0.375" stop-color="#8fff49"/><stop offset="0.40625" stop-color="#a7fc3a"/><stop offset="0.4375" stop-color="#b9f635"/><stop offset="0.46875" stop-color="#cdec34"/><stop offset="0.5" stop-color="#dde037"/><stop offset="0.53125" stop-color="#ecd13a"/><stop offset="0.5625" stop-color="#f5c53a"/><stop offset="0.59375" stop-color="#fbb838"/><stop offset="0.625" stop-color="#fdae35"/><stop offset="0.65625" stop-color="#fea732"/><stop offset="0.6875" stop-color="#fea130"/><stop offset="0.71875" stop-color="#fe9b2d"/><stop offset="0.75" stop-color="#fe992c"/><stop offset="0.78125" stop-color="#fe932a"/><stop offset="0.8125" stop-color="#fd8d27"/><stop offset="0.84375" stop-color="#fd8a26"/><stop offset="0.875" stop-color="#fc8423"/><stop offset="0.90625" stop-color="#fb8122"/><stop offset="0.9375" stop-color="#fb7e21"/><stop offset="0.96875" stop-color="#fa7b1f"/><stop offset="1" stop-color="#fb7e21"/></linearGradient>
<linearGradient id="g24"><stop offset="0" stop-color="#4143a7"/><stop offset="0.03125" stop-color="#4451bf"/><stop offset="0.0625" stop-color="#455ccf"/><stop offset="0.09375" stop-color="#4666dd"/><stop offset="0.125" stop-color="#4773eb"/><stop offset="0.15625" stop-color="#4682f8"/><stop offset="0.1875" stop-color="#4196ff"/><stop offset="0.21875" stop-color="#2eb4f2"/><stop offset="0.25" stop-color="#1ad4d0"/><stop offset="0.28125" stop-color="#1fe9af"/><stop offset="0.3125" stop-color="#3ff68a"/><stop offset="0.34375" stop-color="#69fd66"/><stop offset="0.375" stop-color="#8fff49"/><stop offset="0.40625" stop-color="#a7fc3a"/><stop offset="0.4375" stop-color="#b9f635"/><stop offset="0.46875" stop-color="#cdec34"/><stop offset="0.5" stop-color="#e1dd37"/><stop offset="0.53125" stop-color="#eecf3a"/><stop offset="0.5625" stop-color="#f6c33a"/><stop offset="0.59375" stop-color="#fbb838"/><stop offset="0.625" stop-color="#fdac34"/><stop offset="0.65625" stop-color="#fea732"/><stop offset="0.6875" stop-color="#fea130"/><stop offset="0.71875" stop-color="#fe9b2d"/><stop offset="0.75" stop-color="#fe992c"/><stop offset="0.78125" stop-color="#fe932a"/><stop offset="0.8125" stop-color="#fd8d27"/><stop offset="0.84375" stop-color="#fd8a26"/><stop offset="0.875" stop-color="#fc8423"/><stop offset="0.90625" stop-color="#fb8122"/><stop offset="0.9375" stop-color="#fb7e21"/><stop offset="0.96875" stop-color="#fa7b1f"/><stop offset="1" stop-color="#fb7e21"/></linearGradient>
<linearGradient id="g25"><stop offset="0" stop-color="#4146ac"/><stop offset="0.03125" stop-color="#4454c3"/><stop offset="0.0625" stop-color="#455ccf"/><stop offset="0.09375" stop-color="#4666dd"/><stop offset="0.125" stop-color="#4771e9"/><stop offset="0.15625" stop-color="#4680f6"/><stop offset="0.1875" stop-color="#4196ff"/><stop offset="0.21875" stop-color="#2cb7f0"/><stop offset="0.25" stop-color="#19d5cd"/><stop offset="0.28125" stop-color="#20eaac"/><stop offset="0.3125" stop-color="#43f787"/><stop offset="0.34375" stop-color="#6dfe62"/><stop offset="0.375" stop-color="#92ff47"/><stop offset="0.40625" stop-color="#a7fc3a"/><stop offset="0.4375" stop-color="#b9f635"/><stop offset="0.46875" stop-color="#d0ea34"/><stop offset="0.5" stop-color="#e3db38"/><stop offset="0.53125" stop-color="#efcd3a"/><stop offset="0.5625" stop-color="#f7c13a"/><stop offset="0.59375" stop-color="#fbb637"/><stop offset="0.625" stop-color="#fdac34"/><stop offset="0.65625" stop-color="#fea732"/><stop offset="0.6875" stop-color="#fea130"/><stop offset="0.71875" stop-color="#fe9b2d"/><stop offset="0.75" stop-color="#fe962b"/><stop offset="0.78125" stop-color="#fe932a"/><stop offset="0.8125" stop-color="#fd8d27"/><stop offset="0.84375" stop-color="#fd8a26"/><stop offset="0.875" stop-color="#fc8423"/><stop offset="0.90625" stop-color="#fb8122"/><stop offset="0.9375" stop-color="#fb7e21"/><stop offset="0.96875" stop-color="#fa7b1f"/><stop offset="1" stop-color="#fb7e21"/></linearGradient>
<linearGradient id="g26"><stop offset="0" stop-color="#4249b1"/><stop offset="0.03125" stop-color="#4454c3"/><stop offset="0.0625" stop-color="#455ccf"/><stop offset="0.09375" stop-color="#4664da"/><stop offset="0.125" stop-color="#476ee6"/><stop offset="0.15625" stop-color="#467df4"/><stop offset="0.1875" stop-color="#4196ff"/><stop offset="0.21875" stop-color="#2cb7f0"/><stop offset="0.25" stop-color="#19d5cd"/><stop offset="0.28125" stop-color="#22ebaa"/><stop offset="0.3125" stop-color="#46f884"/><stop offset="0.34375" stop-color="#71fe5f"/><stop offset="0.375" stop-color="#92ff47"/><stop offset="0.40625" stop-color="#a7fc3a"/><stop offset="0.4375" stop-color="#bcf534"/><stop offset="0.46875" stop-color="#d2e935"/><stop offset="0.5" stop-color="#e5d938"/><stop offset="0.53125" stop-color="#f1cb3a"/><stop offset="0.5625" stop-color="#f7c13a"/><stop offset="0.59375" stop-color="#fbb637"/><stop offset="0.625" stop-color="#fdac34"/><stop offset="0.65625" stop-color="#fea431"/><stop offset="0.6875" stop-color="#fea130"/><stop offset="0.71875" stop-color="#fe9b2d"/><stop offset="0.75" stop-color="#fe962b"/><stop offset="0.78125" stop-color="#fe932a"/><stop offset="0.8125" stop-color="#fd8d27"/><stop offset="0.84375" stop-color="#fd8a26"/><stop offset="0.875" stop-color="#fc8423"/><stop offset="0.90625" stop-color="#fb8122"/><stop offset="0.9375" stop-color="#fb7e21"/><stop offset="0.96875" stop-color="#fb7e21"/><stop offset="1" stop-color="#fb7e21"/></linearGradient>
<linearGradient id="g27"><stop offset="0" stop-color="#424bb5"/><stop offset="0.03125" stop-color="#4456c7"/><stop offset="0.0625" stop-color="#455ed3"/><stop offset="0.09375" stop-color="#4664da"/><stop offset="0.125" stop-color="#476ee6"/><stop offset="0.15625" stop-color="#467df4"/><stop offset="0.1875" stop-color="#4196ff"/><stop offset="0.21875" stop-color="#2cb7f0"/><stop offset="0.25" stop-color="#18d7ca"/><stop offset="0.28125" stop-color="#25eca7"/><stop offset="0.3125" stop-color="#4af880"/><stop offset="0.34375" stop-color="#75fe5c"/><stop offset="0.375" stop-color="#96fe44"/><stop offset="0.40625" stop-color="#a9fb39"/><stop offset="0.4375" stop-color="#bcf534"/><stop offset="0.46875" stop-color="#d4e735"/><stop offset="0.5" stop-color="#e9d539"/><stop offset="0.53125" stop-color="#f2c93a"/><stop offset="0.5625" stop-color="#f8be39"/><stop offset="0.59375" stop-color="#fbb637"/><stop offset="0.625" stop-color="#fdac34"/><stop offset="0.65625" stop-color="#fea431"/><stop offset="0.6875" stop-color="#fe9e2f"/><stop offset="0.71875" stop-color="#fe9b2d"/><stop offset="0.75" stop-color="#fe962b"/><stop offset="0.78125" stop-color="#fe932a"/><stop offset="0.8125" stop-color="#fd8d27"/><stop offset="0.84375" stop-color="#fd8a26"/><stop offset="0.875" stop-color="#fc8423"/><stop offset="0.90625" stop-color="#fb8122"/><stop offset="0.9375" stop-color="#fb7e21"/><stop offset="0.96875" stop-color="#fb7e21"/><stop offset="1" stop-color="#fb7e21"/></linearGradient>
<linearGradient id="g28"><stop offset="0" stop-color="#424bb5"/><stop offset="0.03125" stop-color="#4559cb"/><stop offset="0.0625" stop-color="#455ed3"/><stop offset="0.09375" stop-color="#4661d6"/><stop offset="0.125" stop-color="#466be3"/><stop offset="0.15625" stop-color="#477bf2"/><stop offset="0.1875" stop-color="#4294ff"/><stop offset="0.21875" stop-color="#2cb7f0"/><stop offset="0.25" stop-color="#18d7ca"/><stop offset="0.28125" stop-color="#25eca7"/><stop offset="0.3125" stop-color="#4ef97d"/><stop offset="0.34375" stop-color="#79fe59"/><stop offset="0.375" stop-color="#96fe44"/><stop offset="0.40625" stop-color="#a9fb39"/><stop offset="0.4375" stop-color="#bcf534"/><stop offset="0.46875" stop-color="#d7e535"/><stop offset="0.5" stop-color="#ebd339"/><stop offset="0.53125" stop-color="#f4c73a"/><stop offset="0.5625" stop-color="#f8be39"/><stop offset="0.59375" stop-color="#fcb336"/><stop offset="0.625" stop-color="#fea933"/><stop offset="0.65625" stop-color="#fea431"/><stop offset="0.6875" stop-color="#fe9e2f"/><stop offset="0.71875" stop-color="#fe9b2d"/><stop offset="0.75" stop-color="#fe962b"/><stop offset="0.78125" stop-color="#fe9029"/><stop offset="0.8125" stop-color="#fd8d27"/><stop offset="0.84375" stop-color="#fd8a26"/><stop offset="0.875" stop-color="#fc8423"/><stop offset="0.90625" stop-color="#fb8122"/><stop offset="0.9375" stop-color="#fb7e21"/><stop offset="0.96875" stop-color="#fb7e21"/><stop offset="1" stop-color="#fb7e21"/></linearGradient>
<linearGradient id="g29"><stop offset="0" stop-color="#434eba"/><stop offset="0.03125" stop-color="#4559cb"/><stop offset="0.0625" stop-color="#455ed3"/><stop offset="0.09375" stop-color="#4661d6"/><stop offset="0.125" stop-color="#4669e0"/><stop offset="0.15625" stop-color="#477bf2"/><stop offset="0.1875" stop-color="#4294ff"/><stop offset="0.21875" stop-color="#2cb7f0"/><stop offset="0.25" stop-color="#18d9c8"/><stop offset="0.28125" stop-color="#27eea4"/><stop offset="0.3125" stop-color="#4ef97d"/><stop offset="0.34375" stop-color="#79fe59"/><stop offset="0.375" stop-color="#99fe42"/><stop offset="0.40625" stop-color="#a9fb39"/><stop offset="0.4375" stop-color="#bcf534"/><stop offset="0.46875" stop-color="#d7e535"/><stop offset="0.5" stop-color="#ecd13a"/><stop offset="0.53125" stop-color="#f5c53a"/><stop offset="0.5625" stop-color="#f9bc39"/><stop offset="0.59375" stop-color="#fcb336"/><stop offset="0.625" stop-color="#fea933"/><stop offset="0.65625" stop-color="#fea431"/><stop offset="0.6875" stop-color="#fe9e2f"/><stop offset="0.71875" stop-color="#fe9b2d"/><stop offset="0.75" stop-color="#fe962b"/><stop offset="0.78125" stop-color="#fe9029"/><stop offset="0.8125" stop-color="#fd8d27"/><stop offset="0.84375" stop-color="#fc8725"/><stop offset="0.875" stop-color="#fc8423"/><stop offset="0.90625" stop-color="#fb8122"/><stop offset="0.9375" stop-color="#fb7e21"/><stop offset="0.96875" stop-color="#fb7e21"/><stop offset="1" stop-color="#fb8122"/></linearGradient>
<linearGradient id="g30"><stop offset="0" stop-color="#4451bf"/><stop offset="0.03125" stop-color="#455ccf"/><stop offset="0.0625" stop-color="#455ed3"/><stop offset="0.09375" stop-color="#4661d6"/><stop offset="0.125" stop-color="#4666dd"/><stop offset="0.15625" stop-color="#4778f0"/><stop offset="0.1875" stop-color="#4294ff"/><stop offset="0.21875" stop-color="#2cb7f0"/><stop offset="0.25" stop-color="#18d9c8"/><stop offset="0.28125" stop-color="#27eea4"/><stop offset="0.3125" stop-color="#52fa7a"/><stop offset="0.34375" stop-color="#7dff56"/><stop offset="0.375" stop-color="#9cfe40"/><stop offset="0.40625" stop-color="#acfb38"/><stop offset="0.4375" stop-color="#bef434"/><stop offset="0.46875" stop-color="#d9e436"/><stop offset="0.5" stop-color="#ecd13a"/><stop offset="0.53125" stop-color="#f5c53a"/><stop offset="0.5625" stop-color="#f9bc39"/><stop offset="0.59375" stop-color="#fcb336"/><stop offset="0.625" stop-color="#fea933"/><stop offset="0.65625" stop-color="#fea431"/><stop offset="0.6875" stop-color="#fe9e2f"/><stop offset="0.71875" stop-color="#fe992c"/><stop offset="0.75" stop-color="#fe962b"/><stop offset="0.78125" stop-color="#fe9029"/><stop offset="0.8125" stop-color="#fd8d27"/><stop offset="0.84375" stop-color="#fc8725"/><stop offset="0.875" stop-color="#fc8423"/><stop offset="0.90625" stop-color="#fb8122"/><stop offset="0.9375" stop-color="#fb7e21"/><stop offset="0.96875" stop-color="#fb7e21"/><stop offset="1" stop-color="#fb8122"/></linearGradient>
<linearGradient id="g31"><stop offset="0" stop-color="#4454c3"/><stop offset="0.03125" stop-color="#455ccf"/><stop offset="0.0625" stop-color="#455ed3"/><stop offset="0.09375" stop-color="#455ed3"/><stop offset="0.125" stop-color="#4666dd"/><stop offset="0.15625" stop-color="#4776ee"/><stop offset="0.1875" stop-color="#4391fe"/><stop offset="0.21875" stop-color="#2cb7f0"/><stop offset="0.25" stop-color="#18d9c8"/><stop offset="0.28125" stop-color="#27eea4"/><stop offset="0.3125" stop-color="#52fa7a"/><stop offset="0.34375" stop-color="#80ff53"/><stop offset="0.375" stop-color="#9cfe40"/><stop offset="0.40625" stop-color="#acfb38"/><stop offset="0.4375" stop-color="#bef434"/><stop offset="0.46875" stop-color="#d9e436"/><stop offset="0.5" stop-color="#eecf3a"/><stop offset="0.53125" stop-color="#f6c33a"/><stop offset="0.5625" stop-color="#f9bc39"/><stop offset="0.59375" stop-color="#fcb336"/><stop offset="0.625" stop-color="#fea933"/><stop offset="0.65625" stop-color="#fea130"/><stop offset="0.6875" stop-color="#fe9e2f"/><stop offset="0.71875" stop-color="#fe992c"/><stop offset="0.75" stop-color="#fe962b"/><stop offset="0.78125" stop-color="#fe9029"/><stop offset="0.8125" stop-color="#fd8d27"/><stop offset="0.84375" stop-color="#fc8725"/><stop offset="0.875" stop-color="#fc8423"/><stop offset="0.90625" stop-color="#fb8122"/><stop offset="0.9375" stop-color="#fb7e21"/><stop offset="0.96875" stop-color="#fb7e21"/><stop offset="1" stop-color="#fb8122"/></linearGradient>
<linearGradient id="g32"><stop offset="0" stop-color="#4456c7"/><stop offset="0.03125" stop-color="#455ed3"/><stop offset="0.0625" stop-color="#455ed3"/><stop offset="0.09375" stop-color="#455ed3"/><stop offset="0.125" stop-color="#4666dd"/><stop offset="0.15625" stop-color="#4776ee"/><stop offset="0.1875" stop-color="#4391fe"/><stop offset="0.21875" stop-color="#2cb7f0"/><stop offset="0.25" stop-color="#18d9c8"/><stop offset="0.28125" stop-color="#2aefa1"/><stop offset="0.3125" stop-color="#55fa76"/><stop offset="0.34375" stop-color="#80ff53"/><stop offset="0.375" stop-color="#9ffd3f"/><stop offset="0.40625" stop-color="#acfb38"/><stop offset="0.4375" stop-color="#bef434"/><stop offset="0.46875" stop-color="#d9e436"/><stop offset="0.5" stop-color="#eecf3a"/><stop offset="0.53125" stop-color="#f6c33a"/><stop offset="0.5625" stop-color="#f9bc39"/><stop offset="0.59375" stop-color="#fcb336"/><stop offset="0.625" stop-color="#fea933"/><stop offset="0.65625" stop-color="#fea130"/><stop offset="0.6875" stop-color="#fe9e2f"/><stop offset="0.71875" stop-color="#fe992c"/><stop offset="0.75" stop-color="#fe962b"/><stop offset="0.78125" stop-color="#fe9029"/><stop offset="0.8125" stop-color="#fd8d27"/><stop offset="0.84375" stop-color="#fc8725"/><stop offset="0.875" stop-color="#fc8725"/><stop offset="0.90625" stop-color="#fb8122"/><stop offset="0.9375" stop-color="#fb8122"/><stop offset="0.96875" stop-color="#fb7e21"/><stop offset="1" stop-color="#fb8122"/></linearGradient>
<linearGradient id="g33"><stop offset="0" stop-color="#4456c7"/><stop offset="0.03125" stop-color="#455ed3"/><stop offset="0.0625" stop-color="#455ed3"/><stop offset="0.09375" stop-color="#455ed3"/><stop offset="0.125" stop-color="#4664da"/><stop offset="0.15625" stop-color="#4773eb"/><stop offset="0.1875" stop-color="#448ffe"/><stop offset="0.21875" stop-color="#2cb7f0"/><stop offset="0.25" stop-color="#18d9c8"/><stop offset="0.28125" stop-color="#2aefa1"/><stop offset="0.3125" stop-color="#55fa76"/><stop offset="0.34375" stop-color="#80ff53"/><stop offset="0.375" stop-color="#9ffd3f"/><stop offset="0.40625" stop-color="#affa37"/><stop offset="0.4375" stop-color="#bef434"/><stop offset="0.46875" stop-color="#d9e436"/><stop offset="0.5" stop-color="#eecf3a"/><stop offset="0.53125" stop-color="#f6c33a"/><stop offset="0.5625" stop-color="#f9bc39"/><stop offset="0.59375" stop-color="#fcb336"/><stop offset="0.625" stop-color="#fea933"/><stop offset="0.65625" stop-color="#fea130"/><stop offset="0.6875" stop-color="#fe9e2f"/><stop offset="0.71875" stop-color="#fe992c"/><stop offset="0.75" stop-color="#fe932a"/><stop offset="0.78125" stop-color="#fe9029"/><stop offset="0.8125" stop-color="#fd8a26"/><stop offset="0.84375" stop-color="#fc8725"/><stop offset="0.875" stop-color="#fc8725"/><stop offset="0.90625" stop-color="#fc8423"/><stop offset="0.9375" stop-color="#fb8122"/><stop offset="0.96875" stop-color="#fb8122"/><stop offset="1" stop-color="#fc8423"/></linearGradient>
<linearGradient id="g34"><stop offset="0" stop-color="#4559cb"/><stop offset="0.03125" stop-color="#455ed3"/><stop offset="0.0625" stop-color="#455ed3"/><stop offset="0.09375" stop-color="#455ed3"/><stop offset="0.125" stop-color="#4664da"/><stop offset="0.15625" stop-color="#4773eb"/><stop offset="0.1875" stop-color="#448ffe"/><stop offset="0.21875" stop-color="#2eb4f2"/><stop offset="0.25" stop-color="#18d9c8"/><stop offset="0.28125" stop-color="#2aefa1"/><stop offset="0.3125" stop-color="#55fa76"/><stop offset="0.34375" stop-color="#84ff51"/><stop offset="0.375" stop-color="#a1fd3d"/><stop offset="0.40625" stop-color="#affa37"/><stop offset="0.4375" stop-color="#bef434"/><stop offset="0.46875" stop-color="#d9e436"/><stop offset="0.5" stop-color="#ecd13a"/><stop offset="0.53125" stop-color="#f5c53a"/><stop offset="0.5625" stop-color="#f9bc39"/><stop offset="0.59375" stop-color="#fcb336"/><stop offset="0.625" stop-color="#fea933"/><stop offset="0.65625" stop-color="#fea130"/><stop offset="0.6875" stop-color="#fe9e2f"/><stop offset="0.71875" stop-color="#fe992c"/><stop offset="0.75" stop-color="#fe932a"/><stop offset="0.78125" stop-color="#fe9029"/><stop offset="0.8125" stop-color="#fd8a26"/><stop offset="0.84375" stop-color="#fc8725"/><stop offset="0.875" stop-color="#fc8725"/><stop offset="0.90625" stop-color="#fc8423"/><stop offset="0.9375" stop-color="#fb8122"/><stop offset="0.96875" stop-color="#fb8122"/><stop offset="1" stop-color="#fc8423"/></linearGradient>
<linearGradient id="g35"><stop offset="0" stop-color="#455ccf"/><stop offset="0.03125" stop-color="#4661d6"/><stop offset="0.0625" stop-color="#455ed3"/><stop offset="0.09375" stop-color="#455ed3"/><stop offset="0.125" stop-color="#4664da"/><stop offset="0.15625" stop-color="#4773eb"/><stop offset="0.1875" stop-color="#458cfd"/><stop offset="0.21875" stop-color="#2eb4f2"/><stop offset="0.25" stop-color="#18d9c8"/><stop offset="0.28125" stop-color="#2aefa1"/><stop offset="0.3125" stop-color="#55fa76"/><stop offset="0.34375" stop-color="#84ff51"/><stop offset="0.375" stop-color="#a4fc3c"/><stop offset="0.40625" stop-color="#b1f936"/><stop offset="0.4375" stop-color="#bef434"/><stop offset="0.46875" stop-color="#d7e535"/><stop offset="0.5" stop-color="#ecd13a"/><stop offset="0.53125" stop-color="#f5c53a"/><stop offset="0.5625" stop-color="#f9bc39"/><stop offset="0.59375" stop-color="#fcb336"/><stop offset="0.625" stop-color="#fea933"/><stop offset="0.65625" stop-color="#fea130"/><stop offset="0.6875" stop-color="#fe9b2d"/><stop offset="0.71875" stop-color="#fe992c"/><stop offset="0.75" stop-color="#fe932a"/><stop offset="0.78125" stop-color="#fe9029"/><stop offset="0.8125" stop-color="#fd8a26"/><stop offset="0.84375" stop-color="#fc8725"/><stop offset="0.875" stop-color="#fc8725"/><stop offset="0.90625" stop-color="#fc8423"/><stop offset="0.9375" stop-color="#fb8122"/><stop offset="0.96875" stop-color="#fb8122"/><stop offset="1" stop-color="#fc8423"/></linearGradient>
<linearGradient id="g36"><stop offset="0" stop-color="#455ed3"/><stop offset="0.03125" stop-color="#4661d6"/><stop offset="0.0625" stop-color="#4661d6"/><stop offset="0.09375" stop-color="#4661d6"/><stop offset="0.125" stop-color="#4664da"/><stop offset="0.15625" stop-color="#4773eb"/><stop offset="0.1875" stop-color="#458cfd"/><stop offset="0.21875" stop-color="#2eb4f2"/><stop offset="0.25" stop-color="#18d9c8"/><stop offset="0.28125" stop-color="#2aefa1"/><stop offset="0.3125" stop-color="#52fa7a"/><stop offset="0.34375" stop-color="#84ff51"/><stop offset="0.375" stop-color="#a4fc3c"/><stop offset="0.40625" stop-color="#b1f936"/><stop offset="0.4375" stop-color="#bef434"/><stop offset="0.46875" stop-color="#d7e535"/><stop offset="0.5" stop-color="#ebd339"/><stop offset="0.53125" stop-color="#f4c73a"/><stop offset="0.5625" stop-color="#f8be39"/><stop offset="0.59375" stop-color="#fcb336"/><stop offset="0.625" stop-color="#fea933"/><stop offset="0.65625" stop-color="#fea130"/><stop offset="0.6875" stop-color="#fe9b2d"/><stop offset="0.71875" stop-color="#fe992c"/><stop offset="0.75" stop-color="#fe932a"/><stop offset="0.78125" stop-color="#fd8d27"/><stop offset="0.8125" stop-color="#fd8a26"/><stop offset="0.84375" stop-color="#fc8725"/><stop offset="0.875" stop-color="#fc8725"/><stop offset="0.90625" stop-color="#fc8423"/><stop offset="0.9375" stop-color="#fb8122"/><stop offset="0.96875" stop-color="#fb8122"/><stop offset="1" stop-color="#fc8423"/></linearGradient>
<linearGradient id="g37"><stop offset="0" stop-color="#455ed3"/><stop offset="0.03125" stop-color="#4661d6"/><stop offset="0.0625" stop-color="#4661d6"/><stop offset="0.09375" stop-color="#4661d6"/><stop offset="0.125" stop-color="#4666dd"/><stop offset="0.15625" stop-color="#4773eb"/><stop offset="0.1875" stop-color="#458cfd"/><stop offset="0.21875" stop-color="#2eb4f2"/><stop offset="0.25" stop-color="#18d9c8"/><stop offset="0.28125" stop-color="#2aefa1"/><stop offset="0.3125" stop-color="#52fa7a"/><stop offset="0.34375" stop-color="#84ff51"/><stop offset="0.375" stop-color="#a4fc3c"/><stop offset="0.40625" stop-color="#b1f936"/><stop offset="0.4375" stop-color="#bef434"/><stop offset="0.46875" stop-color="#d4e735"/><stop offset="0.5" stop-color="#e9d539"/><stop offset="0.53125" stop-color="#f4c73a"/><stop offset="0.5625" stop-color="#f8be39"/><stop offset="0.59375" stop-color="#fcb336"/><stop offset="0.625" stop-color="#fea933"/><stop offset="0.65625" stop-color="#fea130"/><stop offset="0.6875" stop-color="#fe9b2d"/><stop offset="0.71875" stop-color="#fe962b"/><stop offset="0.75" stop-color="#fe932a"/><stop offset="0.78125" stop-color="#fd8d27"/><stop offset="0.8125" stop-color="#fd8a26"/><stop offset="0.84375" stop-color="#fc8725"/><stop offset="0.875" stop-color="#fc8725"/><stop offset="0.90625" stop-color="#fc8423"/><stop offset="0.9375" stop-color="#fc8423"/><stop offset="0.96875" stop-color="#fc8423"/><stop offset="1" stop-color="#fc8725"/></linearGradient>
<linearGradient id="g38"><stop offset="0" stop-color="#4661d6"/><stop offset="0.03125" stop-color="#4661d6"/><stop offset="0.0625" stop-color="#4661d6"/><stop offset="0.09375" stop-color="#4661d6"/><stop offset="0.125" stop-color="#4666dd"/><stop offset="0.15625" stop-color="#4773eb"/><stop offset="0.1875" stop-color="#458cfd"/><stop offset="0.21875" stop-color="#2eb4f2"/><stop offset="0.25" stop-color="#18d9c8"/><stop offset="0.28125" stop-color="#27eea4"/><stop offset="0.3125" stop-color="#52fa7a"/><stop offset="0.34375" stop-color="#84ff51"/><stop offset="0.375" stop-color="#a7fc3a"/><stop offset="0.40625" stop-color="#b1f936"/><stop offset="0.4375" stop-color="#bef434"/><stop offset="0.46875" stop-color="#d4e735"/><stop offset="0.5" stop-color="#e7d739"/><stop offset="0.53125" stop-color="#f2c93a"/><stop offset="0.5625" stop-color="#f8be39"/><stop offset="0.59375" stop-color="#fcb336"/><stop offset="0.625" stop-color="#fea732"/><stop offset="0.65625" stop-color="#fea130"/><stop offset="0.6875" stop-color="#fe9b2d"/><stop offset="0.71875" stop-color="#fe962b"/><stop offset="0.75" stop-color="#fe932a"/><stop offset="0.78125" stop-color="#fd8d27"/><stop offset="0.8125" stop-color="#fd8a26"/><stop offset="0.84375" stop-color="#fc8725"/><stop offset="0.875" stop-color="#fc8725"/><stop offset="0.90625" stop-color="#fc8423"/><stop offset="0.9375" stop-color="#fc8423"/><stop offset="0.96875" stop-color="#fc8423"/><stop offset="1" stop-color="#fc8725"/></linearGradient>
<linearGradient id="g39"><stop offset="0" stop-color="#4661d6"/><stop offset="0.03125" stop-color="#4661d6"/><stop offset="0.0625" stop-color="#4661d6"/><stop offset="0.09375" stop-color="#4661d6"/><stop offset="0.125" stop-color="#4666dd"/><stop offset="0.15625" stop-color="#4773eb"/><stop offset="0.1875" stop-color="#458cfd"/><stop offset="0.21875" stop-color="#2eb4f2"/><stop offset="0.25" stop-color="#18dbc5"/><stop offset="0.28125" stop-color="#27eea4"/><stop offset="0.3125" stop-color="#52fa7a"/><stop offset="0.34375" stop-color="#84ff51"/><stop offset="0.375" stop-color="#a7fc3a"/><stop offset="0.40625" stop-color="#b4f836"/><stop offset="0.4375" stop-color="#bcf534"/><stop offset="0.46875" stop-color="#d2e935"/><stop offset="0.5" stop-color="#e5d938"/><stop offset="0.53125" stop-color="#f1cb3a"/><stop offset="0.5625" stop-color="#f7c13a"/><stop offset="0.59375" stop-color="#fcb336"/><stop offset="0.625" stop-color="#fea732"/><stop offset="0.65625" stop-color="#fea130"/><stop offset="0.6875" stop-color="#fe9b2d"/><stop offset="0.71875" stop-color="#fe962b"/><stop offset="0.75" stop-color="#fe9029"/><stop offset="0.78125" stop-color="#fd8d27"/><stop offset="0.8125" stop-color="#fd8a26"/><stop offset="0.84375" stop-color="#fc8725"/><stop offset="0.875" stop-color="#fc8725"/><stop offset="0.90625" stop-color="#fc8423"/><stop offset="0.9375" stop-color="#fc8423"/><stop offset="0.96875" stop-color="#fc8423"/><stop offset="1" stop-color="#fc8725"/></linearGradient>
<linearGradient id="g40"><stop offset="0" stop-color="#4664da"/><stop offset="0.03125" stop-color="#4661d6"/><stop offset="0.0625" stop-color="#4661d6"/><stop offset="0.09375" stop-color="#4664da"/><stop offset="0.125" stop-color="#4669e0"/><stop offset="0.15625" stop-color="#4773eb"/><stop offset="0.1875" stop-color="#458cfd"/><stop offset="0.21875" stop-color="#2cb7f0"/><stop offset="0.25" stop-color="#18dbc5"/><stop offset="0.28125" stop-color="#27eea4"/><stop offset="0.3125" stop-color="#4ef97d"/><stop offset="0.34375" stop-color="#84ff51"/><stop offset="0.375" stop-color="#a7fc3a"/><stop offset="0.40625" stop-color="#b4f836"/><stop offset="0.4375" stop-color="#bcf534"/><stop offset="0.46875" stop-color="#d0ea34"/><stop offset="0.5" stop-color="#e3db38"/><stop offset="0.53125" stop-color="#f1cb3a"/><stop offset="0.5625" stop-color="#f7c13a"/><stop offset="0.59375" stop-color="#fcb336"/><stop offset="0.625" stop-color="#fea732"/><stop offset="0.65625" stop-color="#fea130"/><stop offset="0.6875" stop-color="#fe9b2d"/><stop offset="0.71875" stop-color="#fe962b"/><stop offset="0.75" stop-color="#fe9029"/><stop offset="0.78125" stop-color="#fd8d27"/><stop offset="0.8125" stop-color="#fd8a26"/><stop offset="0.84375" stop-color="#fc8725"/><stop offset="0.875" stop-color="#fc8725"/><stop offset="0.90625" stop-color="#fc8423"/><stop offset="0.9375" stop-color="#fc8423"/><stop offset="0.96875" stop-color="#fc8725"/><stop offset="1" stop-color="#fd8a26"/></linearGradient>
<linearGradient id="g41"><stop offset="0" stop-color="#4664da"/><stop offset="0.03125" stop-color="#4661d6"/><stop offset="0.0625" stop-color="#4661d6"/><stop offset="0.09375" stop-color="#4664da"/><stop offset="0.125" stop-color="#4669e0"/><stop offset="0.15625" stop-color="#4776ee"/><stop offset="0.1875" stop-color="#448ffe"/><stop offset="0.21875" stop-color="#2cb7f0"/><stop offset="0.25" stop-color="#18dbc5"/><stop offset="0.28125" stop-color="#27eea4"/><stop offset="0.3125" stop-color="#4ef97d"/><stop offset="0.34375" stop-color="#84ff51"/><stop offset="0.375" stop-color="#a7fc3a"/><stop offset="0.40625" stop-color="#b4f836"/><stop offset="0.4375" stop-color="#bcf534"/><stop offset="0.46875" stop-color="#cdec34"/><stop offset="0.5" stop-color="#e1dd37"/><stop offset="0.53125" stop-color="#efcd3a"/><stop offset="0.5625" stop-color="#f7c13a"/><stop offset="0.59375" stop-color="#fcb336"/><stop offset="0.625" stop-color="#fea732"/><stop offset="0.65625" stop-color="#fe9e2f"/><stop offset="0.6875" stop-color="#fe9b2d"/><stop offset="0.71875" stop-color="#fe962b"/><stop offset="0.75" stop-color="#fe9029"/><stop offset="0.78125" stop-color="#fd8d27"/><stop offset="0.8125" stop-color="#fd8a26"/><stop offset="0.84375" stop-color="#fc8725"/><stop offset="0.875" stop-color="#fc8725"/><stop offset="0.90625" stop-color="#fc8423"/><stop offset="0.9375" stop-color="#fc8423"/><stop offset="0.96875" stop-color="#fc8725"/><stop offset="1" stop-color="#fd8a26"/></linearGradient>
<linearGradient id="g42"><stop offset="0" stop-color="#4664da"/><stop offset="0.03125" stop-color="#4664da"/><stop offset="0.0625" stop-color="#4661d6"/><stop offset="0.09375" stop-color="#4664da"/><stop offset="0.125" stop-color="#466be3"/><stop offset="0.15625" stop-color="#4778f0"/><stop offset="0.1875" stop-color="#4391fe"/><stop offset="0.21875" stop-color="#2ab9ee"/><stop offset="0.25" stop-color="#18ddc2"/><stop offset="0.28125" stop-color="#27eea4"/><stop offset="0.3125" stop-color="#4af880"/><stop offset="0.34375" stop-color="#80ff53"/><stop offset="0.375" stop-color="#a7fc3a"/><stop offset="0.40625" stop-color="#b4f836"/><stop offset="0.4375" stop-color="#b9f635"/><stop offset="0.46875" stop-color="#cbed34"/><stop offset="0.5" stop-color="#e1dd37"/><stop offset="0.53125" stop-color="#eecf3a"/><stop offset="0.5625" stop-color="#f7c13a"/><stop offset="0.59375" stop-color="#fcb336"/><stop offset="0.625" stop-color="#fea732"/><stop offset="0.65625" stop-color="#fe9e2f"/><stop offset="0.6875" stop-color="#fe9b2d"/><stop offset="0.71875" stop-color="#fe962b"/><stop offset="0.75" stop-color="#fe9029"/><stop offset="0.78125" stop-color="#fd8d27"/><stop offset="0.8125" stop-color="#fd8a26"/><stop offset="0.84375" stop-color="#fc8725"/><stop offset="0.875" stop-color="#fc8725"/><stop offset="0.90625" stop-color="#fc8423"/><stop offset="0.9375" stop-color="#fc8725"/><stop offset="0.96875" stop-color="#fc8725"/><stop offset="1" stop-color="#fd8d27"/></linearGradient>
<linearGradient id="g43"><stop offset="0" stop-color="#4664da"/><stop offset="0.03125" stop-color="#4664da"/><stop offset="0.0625" stop-color="#4664da"/><stop offset="0.09375" stop-color="#4666dd"/><stop offset="0.125" stop-color="#476ee6"/><stop offset="0.15625" stop-color="#477bf2"/><stop offset="0.1875" stop-color="#4196ff"/><stop offset="0.21875" stop-color="#28bceb"/><stop offset="0.25" stop-color="#18ddc2"/><stop offset="0.28125" stop-color="#27eea4"/><stop offset="0.3125" stop-color="#46f884"/><stop offset="0.34375" stop-color="#80ff53"/><stop offset="0.375" stop-color="#a7fc3a"/><stop offset="0.40625" stop-color="#b1f936"/><stop offset="0.4375" stop-color="#b9f635"/><stop offset="0.46875" stop-color="#cbed34"/><stop offset="0.5" stop-color="#dfdf37"/><stop offset="0.53125" stop-color="#eecf3a"/><stop offset="0.5625" stop-color="#f7c13a"/><stop offset="0.59375" stop-color="#fcb336"/><stop offset="0.625" stop-color="#fea732"/><stop offset="0.65625" stop-color="#fe9e2f"/><stop offset="0.6875" stop-color="#fe992c"/><stop offset="0.71875" stop-color="#fe962b"/><stop offset="0.75" stop-color="#fe9029"/><stop offset="0.78125" stop-color="#fd8d27"/><stop offset="0.8125" stop-color="#fd8a26"/><stop offset="0.84375" stop-color="#fc8725"/><stop offset="0.875" stop-color="#fc8725"/><stop offset="0.90625" stop-color="#fc8725"/><stop offset="0.9375" stop-color="#fc8725"/><stop offset="0.96875" stop-color="#fd8a26"/><stop offset="1" stop-color="#fd8d27"/></linearGradient>
<linearGradient id="g44"><stop offset="0" stop-color="#4664da"/><stop offset="0.03125" stop-color="#4664da"/><stop offset="0.0625" stop-color="#4664da"/><stop offset="0.09375" stop-color="#4666dd"/><stop offset="0.125" stop-color="#4771e9"/><stop offset="0.15625" stop-color="#4680f6"/><stop offset="0.1875" stop-color="#4099ff"/><stop offset="0.21875" stop-color="#25c0e7"/><stop offset="0.25" stop-color="#18dec0"/><stop offset="0.28125" stop-color="#27eea4"/><stop offset="0.3125" stop-color="#46f884"/><stop offset="0.34375" stop-color="#7dff56"/><stop offset="0.375" stop-color="#a7fc3a"/><stop offset="0.40625" stop-color="#b1f936"/><stop offset="0.4375" stop-color="#b9f635"/><stop offset="0.46875" stop-color="#c8ef34"/><stop offset="0.5" stop-color="#dde037"/><stop offset="0.53125" stop-color="#ecd13a"/><stop offset="0.5625" stop-color="#f7c13a"/><stop offset="0.59375" stop-color="#fcb336"/><stop offset="0.625" stop-color="#fea732"/><stop offset="0.65625" stop-color="#fe9e2f"/><stop offset="0.6875" stop-color="#fe992c"/><stop offset="0.71875" stop-color="#fe932a"/><stop offset="0.75" stop-color="#fe9029"/><stop offset="0.78125" stop-color="#fd8a26"/><stop offset="0.8125" stop-color="#fd8a26"/><stop offset="0.84375" stop-color="#fc8725"/><stop offset="0.875" stop-color="#fc8725"/><stop offset="0.90625" stop-color="#fc8725"/><stop offset="0.9375" stop-color="#fc8725"/><stop offset="0.96875" stop-color="#fd8a26"/><stop offset="1" stop-color="#fd8d27"/></linearGradient>
<linearGradient id="g45"><stop offset="0" stop-color="#4664da"/><stop offset="0.03125" stop-color="#4664da"/><stop offset="0.0625" stop-color="#4664da"/><stop offset="0.09375" stop-color="#4669e0"/><stop offset="0.125" stop-color="#4771e9"/><stop offset="0.15625" stop-color="#4682f8"/><stop offset="0.1875" stop-color="#3d9efe"/><stop offset="0.21875" stop-color="#23c3e4"/><stop offset="0.25" stop-color="#18e0bd"/><stop offset="0.28125" stop-color="#25eca7"/><stop offset="0.3125" stop-color="#43f787"/><stop offset="0.34375" stop-color="#7dff56"/><stop offset="0.375" stop-color="#a4fc3c"/><stop offset="0.40625" stop-color="#b1f936"/><stop offset="0.4375" stop-color="#b7f735"/><stop offset="0.46875" stop-color="#c6f034"/><stop offset="0.5" stop-color="#dbe236"/><stop offset="0.53125" stop-color="#ecd13a"/><stop offset="0.5625" stop-color="#f7c13a"/><stop offset="0.59375" stop-color="#fcb136"/><stop offset="0.625" stop-color="#fea732"/><stop offset="0.65625" stop-color="#fe9e2f"/><stop offset="0.6875" stop-color="#fe992c"/><stop offset="0.71875" stop-color="#fe932a"/><stop offset="0.75" stop-color="#fe9029"/><stop offset="0.78125" stop-color="#fd8a26"/><stop offset="0.8125" stop-color="#fd8a26"/><stop offset="0.84375" stop-color="#fc8725"/><stop offset="0.875" stop-color="#fc8725"/><stop offset="0.90625" stop-color="#fc8725"/><stop offset="0.9375" stop-color="#fc8725"/><stop offset="0.96875" stop-color="#fd8a26"/><stop offset="1" stop-color="#fe9029"/></linearGradient>
<linearGradient id="g46"><stop offset="0" stop-color="#4664da"/><stop offset="0.03125" stop-color="#4664da"/><stop offset="0.0625" stop-color="#4664da"/><stop offset="0.09375" stop-color="#4669e0"/><stop offset="0.125" stop-color="#4773eb"/><stop offset="0.15625" stop-color="#4685fa"/><stop offset="0.1875" stop-color="#3aa3fc"/><stop offset="0.21875" stop-color="#20c7df"/><stop offset="0.25" stop-color="#18e0bd"/><stop offset="0.28125" stop-color="#25eca7"/><stop offset="0.3125" stop-color="#43f787"/><stop offset="0.34375" stop-color="#79fe59"/><stop offset="0.375" stop-color="#a4fc3c"/><stop offset="0.40625" stop-color="#b1f936"/><stop offset="0.4375" stop-color="#b7f735"/><stop offset="0.46875" stop-color="#c6f034"/><stop offset="0.5" stop-color="#dbe236"/><stop offset="0.53125" stop-color="#ecd13a"/><stop offset="0.5625" stop-color="#f7c13a"/><stop offset="0.59375" stop-color="#fcb136"/><stop offset="0.625" stop-color="#fea431"/><stop offset="0.65625" stop-color="#fe9e2f"/><stop offset="0.6875" stop-color="#fe992c"/><stop offset="0.71875" stop-color="#fe932a"/><stop offset="0.75" stop-color="#fd8d27"/><stop offset="0.78125" stop-color="#fd8a26"/><stop offset="0.8125" stop-color="#fc8725"/><stop offset="0.84375" stop-color="#fc8725"/><stop offset="0.875" stop-color="#fc8725"/><stop offset="0.90625" stop-color="#fc8725"/><stop offset="0.9375" stop-color="#fc8725"/><stop offset="0.96875" stop-color="#fd8a26"/><stop offset="1" stop-color="#fe9029"/></linearGradient>
<linearGradient id="g47"><stop offset="0" stop-color="#4664da"/><stop offset="0.03125" stop-color="#4664da"/><stop offset="0.0625" stop-color="#4666dd"/><stop offset="0.09375" stop-color="#466be3"/><stop offset="0.125" stop-color="#4776ee"/><stop offset="0.15625" stop-color="#458afc"/><stop offset="0.1875" stop-color="#38a5fb"/><stop offset="0.21875" stop-color="#1fc9dd"/><stop offset="0.25" stop-color="#19e2bb"/><stop offset="0.28125" stop-color="#25eca7"/><stop offset="0.3125" stop-color="#3ff68a"/><stop offset="0.34375" stop-color="#75fe5c"/><stop offset="0.375" stop-color="#a1fd3d"/><stop offset="0.40625" stop-color="#b1f936"/><stop offset="0.4375" stop-color="#b7f735"/><stop offset="0.46875" stop-color="#c6f034"/><stop offset="0.5" stop-color="#d9e436"/><stop offset="0.53125" stop-color="#ecd13a"/><stop offset="0.5625" stop-color="#f8be39"/><stop offset="0.59375" stop-color="#fcb136"/><stop offset="0.625" stop-color="#fea431"/><stop offset="0.65625" stop-color="#fe9e2f"/><stop offset="0.6875" stop-color="#fe992c"/><stop offset="0.71875" stop-color="#fe932a"/><stop offset="0.75" stop-color="#fd8d27"/><stop offset="0.78125" stop-color="#fd8a26"/><stop offset="0.8125" stop-color="#fc8725"/><stop offset="0.84375" stop-color="#fc8725"/><stop offset="0.875" stop-color="#fc8725"/><stop offset="0.90625" stop-color="#fc8725"/><stop offset="0.9375" stop-color="#fd8a26"/><stop offset="0.96875" stop-color="#fd8d27"/><stop offset="1" stop-color="#fe9029"/></linearGradient>
<linearGradient id="g48"><stop offset="0" stop-color="#4664da"/><stop offset="0.03125" stop-color="#4664da"/><stop offset="0.0625" stop-color="#4666dd"/><stop offset="0.09375" stop-color="#466be3"/><stop offset="0.125" stop-color="#477bf2"/><stop offset="0.15625" stop-color="#448ffe"/><stop offset="0.1875" stop-color="#35abf8"/><stop offset="0.21875" stop-color="#1ecbda"/><stop offset="0.25" stop-color="#19e3b9"/><stop offset="0.28125" stop-color="#25eca7"/><stop offset="0.3125" stop-color="#3ff68a"/><stop offset="0.34375" stop-color="#75fe5c"/><stop offset="0.375" stop-color="#a1fd3d"/><stop offset="0.40625" stop-color="#b1f936"/><stop offset="0.4375" stop-color="#b9f635"/><stop offset="0.46875" stop-color="#c6f034"/><stop offset="0.5" stop-color="#d9e436"/><stop offset="0.53125" stop-color="#ecd13a"/><stop offset="0.5625" stop-color="#f8be39"/><stop offset="0.59375" stop-color="#fdae35"/><stop offset="0.625" stop-color="#fea431"/><stop offset="0.65625" stop-color="#fe9b2d"/><stop offset="0.6875" stop-color="#fe962b"/><stop offset="0.71875" stop-color="#fe932a"/><stop offset="0.75" stop-color="#fd8d27"/><stop offset="0.78125" stop-color="#fd8a26"/><stop offset="0.8125" stop-color="#fc8725"/><stop offset="0.84375" stop-color="#fc8725"/><stop offset="0.875" stop-color="#fc8423"/><stop offset="0.90625" stop-color="#fc8725"/><stop offset="0.9375" stop-color="#fd8a26"/><stop offset="0.96875" stop-color="#fd8d27"/><stop offset="1" stop-color="#fe932a"/></linearGradient>
<linearGradient id="g49"><stop offset="0" stop-color="#4661d6"/><stop offset="0.03125" stop-color="#4664da"/><stop offset="0.0625" stop-color="#4666dd"/><stop offset="0.09375" stop-color="#476ee6"/><stop offset="0.125" stop-color="#467df4"/><stop offset="0.15625" stop-color="#4391fe"/><stop offset="0.1875" stop-color="#31aff5"/><stop offset="0.21875" stop-color="#1bd0d5"/><stop offset="0.25" stop-color="#19e3b9"/><stop offset="0.28125" stop-color="#27eea4"/><stop offset="0.3125" stop-color="#3cf58e"/><stop offset="0.34375" stop-color="#71fe5f"/><stop offset="0.375" stop-color="#9ffd3f"/><stop offset="0.40625" stop-color="#b1f936"/><stop offset="0.4375" stop-color="#bcf534"/><stop offset="0.46875" stop-color="#c8ef34"/><stop offset="0.5" stop-color="#dbe236"/><stop offset="0.53125" stop-color="#ecd13a"/><stop offset="0.5625" stop-color="#f8be39"/><stop offset="0.59375" stop-color="#fdae35"/><stop offset="0.625" stop-color="#fea431"/><stop offset="0.65625" stop-color="#fe9b2d"/><stop offset="0.6875" stop-color="#fe962b"/><stop offset="0.71875" stop-color="#fe932a"/><stop offset="0.75" stop-color="#fd8d27"/><stop offset="0.78125" stop-color="#fd8a26"/><stop offset="0.8125" stop-color="#fc8725"/><stop offset="0.84375" stop-color="#fc8725"/><stop offset="0.875" stop-color="#fc8423"/><stop offset="0.90625" stop-color="#fc8725"/><stop offset="0.9375" stop-color="#fd8a26"/><stop offset="0.96875" stop-color="#fd8d27"/><stop offset="1" stop-color="#fe932a"/></linearGradient>
<linearGradient id="g50"><stop offset="0" stop-color="#4661d6"/><stop offset="0.03125" stop-color="#4664da"/><stop offset="0.0625" stop-color="#4666dd"/><stop offset="0.09375" stop-color="#4771e9"/><stop offset="0.125" stop-color="#4680f6"/><stop offset="0.15625" stop-color="#4196ff"/><stop offset="0.1875" stop-color="#2eb4f2"/><stop offset="0.21875" stop-color="#1ad2d2"/><stop offset="0.25" stop-color="#1ae4b6"/><stop offset="0.28125" stop-color="#27eea4"/><stop offset="0.3125" stop-color="#3cf58e"/><stop offset="0.34375" stop-color="#6dfe62"/><stop offset="0.375" stop-color="#9cfe40"/><stop offset="0.40625" stop-color="#b1f936"/><stop offset="0.4375" stop-color="#bef434"/><stop offset="0.46875" stop-color="#cbed34"/><stop offset="0.5" stop-color="#dbe236"/><stop offset="0.53125" stop-color="#eecf3a"/><stop offset="0.5625" stop-color="#f9bc39"/><stop offset="0.59375" stop-color="#fdae35"/><stop offset="0.625" stop-color="#fea431"/><stop offset="0.65625" stop-color="#fe9b2d"/><stop offset="0.6875" stop-color="#fe962b"/><stop offset="0.71875" stop-color="#fe9029"/><stop offset="0.75" stop-color="#fd8d27"/><stop offset="0.78125" stop-color="#fd8a26"/><stop offset="0.8125" stop-color="#fc8725"/><stop offset="0.84375" stop-color="#fc8725"/><stop offset="0.875" stop-color="#fc8423"/><stop offset="0.90625" stop-color="#fc8725"/><stop offset="0.9375" stop-color="#fd8a26"/><stop offset="0.96875" stop-color="#fe9029"/><stop offset="1" stop-color="#fe932a"/></linearGradient>
<linearGradient id="g51"><stop offset="0" stop-color="#4661d6"/><stop offset="0.03125" stop-color="#4664da"/><stop offset="0.0625" stop-color="#4669e0"/><stop offset="0.09375" stop-color="#4773eb"/><stop offset="0.125" stop-color="#4682f8"/><stop offset="0.15625" stop-color="#3e9bfe"/><stop offset="0.1875" stop-color="#2cb7f0"/><stop offset="0.21875" stop-color="#1ad4d0"/><stop offset="0.25" stop-color="#1ce6b4"/><stop offset="0.28125" stop-color="#27eea4"/><stop offset="0.3125" stop-color="#3cf58e"/><stop offset="0.34375" stop-color="#69fd66"/><stop offset="0.375" stop-color="#99fe42"/><stop offset="0.40625" stop-color="#b1f936"/><stop offset="0.4375" stop-color="#c1f334"/><stop offset="0.46875" stop-color="#cdec34"/><stop offset="0.5" stop-color="#dde037"/><stop offset="0.53125" stop-color="#eecf3a"/><stop offset="0.5625" stop-color="#f9bc39"/><stop offset="0.59375" stop-color="#fdac34"/><stop offset="0.625" stop-color="#fea130"/><stop offset="0.65625" stop-color="#fe9b2d"/><stop offset="0.6875" stop-color="#fe962b"/><stop offset="0.71875" stop-color="#fe9029"/><stop offset="0.75" stop-color="#fd8d27"/><stop offset="0.78125" stop-color="#fd8a26"/><stop offset="0.8125" stop-color="#fc8725"/><stop offset="0.84375" stop-color="#fc8423"/><stop offset="0.875" stop-color="#fc8423"/><stop offset="0.90625" stop-color="#fc8725"/><stop offset="0.9375" stop-color="#fd8a26"/><stop offset="0.96875" stop-color="#fe9029"/><stop offset="1" stop-color="#fe932a"/></linearGradient>
<linearGradient id="g52"><stop offset="0" stop-color="#4661d6"/><stop offset="0.03125" stop-color="#4664da"/><stop offset="0.0625" stop-color="#4669e0"/><stop offset="0.09375" stop-color="#4776ee"/><stop offset="0.125" stop-color="#4687fb"/><stop offset="0.15625" stop-color="#3d9efe"/><stop offset="0.1875" stop-color="#2ab9ee"/><stop offset="0.21875" stop-color="#19d5cd"/><stop offset="0.25" stop-color="#1ce6b4"/><stop offset="0.28125" stop-color="#27eea4"/><stop offset="0.3125" stop-color="#3cf58e"/><stop offset="0.34375" stop-color="#65fd69"/><stop offset="0.375" stop-color="#99fe42"/><stop offset="0.40625" stop-color="#b4f836"/><stop offset="0.4375" stop-color="#c6f034"/><stop offset="0.46875" stop-color="#d2e935"/><stop offset="0.5" stop-color="#dfdf37"/><stop offset="0.53125" stop-color="#efcd3a"/><stop offset="0.5625" stop-color="#faba39"/><stop offset="0.59375" stop-color="#fdac34"/><stop offset="0.625" stop-color="#fea130"/><stop offset="0.65625" stop-color="#fe9b2d"/><stop offset="0.6875" stop-color="#fe962b"/><stop offset="0.71875" stop-color="#fe9029"/><stop offset="0.75" stop-color="#fd8d27"/><stop offset="0.78125" stop-color="#fd8a26"/><stop offset="0.8125" stop-color="#fc8725"/><stop offset="0.84375" stop-color="#fc8423"/><stop offset="0.875" stop-color="#fc8725"/><stop offset="0.90625" stop-color="#fc8725"/><stop offset="0.9375" stop-color="#fd8a26"/><stop offset="0.96875" stop-color="#fe9029"/><stop offset="1" stop-color="#fe962b"/></linearGradient>
<linearGradient id="g53"><stop offset="0" stop-color="#4661d6"/><stop offset="0.03125" stop-color="#4661d6"/><stop offset="0.0625" stop-color="#4669e0"/><stop offset="0.09375" stop-color="#4778f0"/><stop offset="0.125" stop-color="#458afc"/><stop offset="0.15625" stop-color="#3aa3fc"/><stop offset="0.1875" stop-color="#27bee9"/><stop offset="0.21875" stop-color="#18d7ca"/><stop offset="0.25" stop-color="#1ce6b4"/><stop offset="0.28125" stop-color="#27eea4"/><stop offset="0.3125" stop-color="#3cf58e"/><stop offset="0.34375" stop-color="#65fd69"/><stop offset="0.375" stop-color="#96fe44"/><stop offset="0.40625" stop-color="#b4f836"/><stop offset="0.4375" stop-color="#cbed34"/><stop offset="0.46875" stop-color="#d9e436"/><stop offset="0.5" stop-color="#e3db38"/><stop offset="0.53125" stop-color="#f1cb3a"/><stop offset="0.5625" stop-color="#fbb838"/><stop offset="0.59375" stop-color="#fea933"/><stop offset="0.625" stop-color="#fea130"/><stop offset="0.65625" stop-color="#fe992c"/><stop offset="0.6875" stop-color="#fe962b"/><stop offset="0.71875" stop-color="#fe9029"/><stop offset="0.75" stop-color="#fd8d27"/><stop offset="0.78125" stop-color="#fc8725"/><stop offset="0.8125" stop-color="#fc8725"/><stop offset="0.84375" stop-color="#fc8423"/><stop offset="0.875" stop-color="#fc8725"/><stop offset="0.90625" stop-color="#fc8725"/><stop offset="0.9375" stop-color="#fd8d27"/><stop offset="0.96875" stop-color="#fe9029"/><stop offset="1" stop-color="#fe962b"/></linearGradient>
<linearGradient id="g54"><stop offset="0" stop-color="#4661d6"/><stop offset="0.03125" stop-color="#4661d6"/><stop offset="0.0625" stop-color="#466be3"/><stop offset="0.09375" stop-color="#477bf2"/><stop offset="0.125" stop-color="#448ffe"/><stop offset="0.15625" stop-color="#38a5fb"/><stop offset="0.1875" stop-color="#25c0e7"/><stop offset="0.21875" stop-color="#18d7ca"/><stop offset="0.25" stop-color="#1de7b2"/><stop offset="0.28125" stop-color="#2aefa1"/><stop offset="0.3125" stop-color="#3cf58e"/><stop offset="0.34375" stop-color="#61fc6c"/><stop offset="0.375" stop-color="#92ff47"/><stop offset="0.40625" stop-color="#b7f735"/><stop offset="0.4375" stop-color="#d2e935"/><stop offset="0.46875" stop-color="#dde037"/><stop offset="0.5" stop-color="#e7d739"/><stop offset="0.53125" stop-color="#f2c93a"/><stop offset="0.5625" stop-color="#fbb838"/><stop offset="0.59375" stop-color="#fea933"/><stop offset="0.625" stop-color="#fea130"/><stop offset="0.65625" stop-color="#fe992c"/><stop offset="0.6875" stop-color="#fe932a"/><stop offset="0.71875" stop-color="#fe9029"/><stop offset="0.75" stop-color="#fd8a26"/><stop offset="0.78125" stop-color="#fc8725"/><stop offset="0.8125" stop-color="#fc8725"/><stop offset="0.84375" stop-color="#fc8423"/><stop offset="0.875" stop-color="#fc8725"/><stop offset="0.90625" stop-color="#fc8725"/><stop offset="0.9375" stop-color="#fd8d27"/><stop offset="0.96875" stop-color="#fe9029"/><stop offset="1" stop-color="#fe962b"/></linearGradient>
<linearGradient id="g55"><stop offset="0" stop-color="#4661d6"/><stop offset="0.03125" stop-color="#4661d6"/><stop offset="0.0625" stop-color="#466be3"/><stop offset="0.09375" stop-color="#467df4"/><stop offset="0.125" stop-color="#4391fe"/><stop offset="0.15625" stop-color="#37a8fa"/><stop offset="0.1875" stop-color="#25c0e7"/><stop offset="0.21875" stop-color="#18d9c8"/><stop offset="0.25" stop-color="#1de7b2"/><stop offset="0.28125" stop-color="#2aefa1"/><stop offset="0.3125" stop-color="#3cf58e"/><stop offset="0.34375" stop-color="#5dfc6f"/><stop offset="0.375" stop-color="#8fff49"/><stop offset="0.40625" stop-color="#b9f635"/><stop offset="0.4375" stop-color="#d7e535"/><stop offset="0.46875" stop-color="#e3db38"/><stop offset="0.5" stop-color="#ebd339"/><stop offset="0.53125" stop-color="#f4c73a"/><stop offset="0.5625" stop-color="#fbb637"/><stop offset="0.59375" stop-color="#fea933"/><stop offset="0.625" stop-color="#fe9e2f"/><stop offset="0.65625" stop-color="#fe992c"/><stop offset="0.6875" stop-color="#fe932a"/><stop offset="0.71875" stop-color="#fe9029"/><stop offset="0.75" stop-color="#fd8a26"/><stop offset="0.78125" stop-color="#fc8725"/><stop offset="0.8125" stop-color="#fc8423"/><stop offset="0.84375" stop-color="#fc8423"/><stop offset="0.875" stop-color="#fc8725"/><stop offset="0.90625" stop-color="#fd8a26"/><stop offset="0.9375" stop-color="#fd8d27"/><stop offset="0.96875" stop-color="#fe932a"/><stop offset="1" stop-color="#fe962b"/></linearGradient>
<linearGradient id="g56"><stop offset="0" stop-color="#4661d6"/><stop offset="0.03125" stop-color="#4661d6"/><stop offset="0.0625" stop-color="#476ee6"/><stop offset="0.09375" stop-color="#4680f6"/><stop offset="0.125" stop-color="#4196ff"/><stop offset="0.15625" stop-color="#33adf7"/><stop offset="0.1875" stop-color="#23c3e4"/><stop offset="0.21875" stop-color="#18d9c8"/><stop offset="0.25" stop-color="#1de7b2"/><stop offset="0.28125" stop-color="#2cf09e"/><stop offset="0.3125" stop-color="#3cf58e"/><stop offset="0.34375" stop-color="#59fb73"/><stop offset="0.375" stop-color="#8bff4b"/><stop offset="0.40625" stop-color="#bcf534"/><stop offset="0.4375" stop-color="#dde037"/><stop offset="0.46875" stop-color="#e7d739"/><stop offset="0.5" stop-color="#ecd13a"/><stop offset="0.53125" stop-color="#f6c33a"/><stop offset="0.5625" stop-color="#fcb336"/><stop offset="0.59375" stop-color="#fea732"/><stop offset="0.625" stop-color="#fe9e2f"/><stop offset="0.65625" stop-color="#fe992c"/><stop offset="0.6875" stop-color="#fe932a"/><stop offset="0.71875" stop-color="#fe9029"/><stop offset="0.75" stop-color="#fd8a26"/><stop offset="0.78125" stop-color="#fc8725"/><stop offset="0.8125" stop-color="#fc8423"/><stop offset="0.84375" stop-color="#fc8423"/><stop offset="0.875" stop-color="#fc8725"/><stop offset="0.90625" stop-color="#fd8a26"/><stop offset="0.9375" stop-color="#fd8d27"/><stop offset="0.96875" stop-color="#fe932a"/><stop offset="1" stop-color="#fe992c"/></linearGradient>
<linearGradient id="g57"><stop offset="0" stop-color="#4661d6"/><stop offset="0.03125" stop-color="#4661d6"/><stop offset="0.0625" stop-color="#476ee6"/><stop offset="0.09375" stop-color="#4682f8"/><stop offset="0.125" stop-color="#4099ff"/><stop offset="0.15625" stop-color="#31aff5"/><stop offset="0.1875" stop-color="#22c5e2"/><stop offset="0.21875" stop-color="#18d9c8"/><stop offset="0.25" stop-color="#1fe9af"/><stop offset="0.28125" stop-color="#2cf09e"/><stop offset="0.3125" stop-color="#3cf58e"/><stop offset="0.34375" stop-color="#59fb73"/><stop offset="0.375" stop-color="#88ff4e"/><stop offset="0.40625" stop-color="#bef434"/><stop offset="0.4375" stop-color="#e1dd37"/><stop offset="0.46875" stop-color="#ecd13a"/><stop offset="0.5" stop-color="#efcd3a"/><stop offset="0.53125" stop-color="#f7c13a"/><stop offset="0.5625" stop-color="#fcb136"/><stop offset="0.59375" stop-color="#fea732"/><stop offset="0.625" stop-color="#fe9e2f"/><stop offset="0.65625" stop-color="#fe992c"/><stop offset="0.6875" stop-color="#fe932a"/><stop offset="0.71875" stop-color="#fd8d27"/><stop offset="0.75" stop-color="#fd8a26"/><stop offset="0.78125" stop-color="#fc8725"/><stop offset="0.8125" stop-color="#fc8423"/><stop offset="0.84375" stop-color="#fc8423"/><stop offset="0.875" stop-color="#fc8725"/><stop offset="0.90625" stop-color="#fd8a26"/><stop offset="0.9375" stop-color="#fd8d27"/><stop offset="0.96875" stop-color="#fe932a"/><stop offset="1" stop-color="#fe992c"/></linearGradient>
<linearGradient id="g58"><stop offset="0" stop-color="#4661d6"/><stop offset="0.03125" stop-color="#4661d6"/><stop offset="0.0625" stop-color="#476ee6"/><stop offset="0.09375" stop-color="#4685fa"/><stop offset="0.125" stop-color="#3d9efe"/><stop offset="0.15625" stop-color="#2fb2f4"/><stop offset="0.1875" stop-color="#20c7df"/><stop offset="0.21875" stop-color="#18dbc5"/><stop offset="0.25" stop-color="#1fe9af"/><stop offset="0.28125" stop-color="#2cf09e"/><stop offset="0.3125" stop-color="#3ff68a"/><stop offset="0.34375" stop-color="#55fa76"/><stop offset="0.375" stop-color="#88ff4e"/><stop offset="0.40625" stop-color="#bef434"/><stop offset="0.4375" stop-color="#e5d938"/><stop offset="0.46875" stop-color="#f1cb3a"/><stop offset="0.5" stop-color="#f2c93a"/><stop offset="0.53125" stop-color="#f8be39"/><stop offset="0.5625" stop-color="#fcb136"/><stop offset="0.59375" stop-color="#fea431"/><stop offset="0.625" stop-color="#fe9e2f"/><stop offset="0.65625" stop-color="#fe992c"/><stop offset="0.6875" stop-color="#fe932a"/><stop offset="0.71875" stop-color="#fd8d27"/><stop offset="0.75" stop-color="#fd8a26"/><stop offset="0.78125" stop-color="#fc8725"/><stop offset="0.8125" stop-color="#fc8423"/><stop offset="0.84375" stop-color="#fc8423"/><stop offset="0.875" stop-color="#fc8725"/><stop offset="0.90625" stop-color="#fd8a26"/><stop offset="0.9375" stop-color="#fe9029"/><stop offset="0.96875" stop-color="#fe932a"/><stop offset="1" stop-color="#fe992c"/></linearGradient>
<linearGradient id="g59"><stop offset="0" stop-color="#4661d6"/><stop offset="0.03125" stop-color="#4661d6"/><stop offset="0.0625" stop-color="#4771e9"/><stop offset="0.09375" stop-color="#4687fb"/><stop offset="0.125" stop-color="#3ba0fd"/><stop offset="0.15625" stop-color="#2eb4f2"/><stop offset="0.1875" stop-color="#20c7df"/><stop offset="0.21875" stop-color="#18dbc5"/><stop offset="0.25" stop-color="#1fe9af"/><stop offset="0.28125" stop-color="#2ff19b"/><stop offset="0.3125" stop-color="#3ff68a"/><stop offset="0.34375" stop-color="#55fa76"/><stop offset="0.375" stop-color="#84ff51"/><stop offset="0.40625" stop-color="#c1f334"/><stop offset="0.4375" stop-color="#ebd339"/><stop offset="0.46875" stop-color="#f4c73a"/><stop offset="0.5" stop-color="#f5c53a"/><stop offset="0.53125" stop-color="#f9bc39"/><stop offset="0.5625" stop-color="#fdae35"/><stop offset="0.59375" stop-color="#fea431"/><stop offset="0.625" stop-color="#fe9b2d"/><stop offset="0.65625" stop-color="#fe992c"/><stop offset="0.6875" stop-color="#fe932a"/><stop offset="0.71875" stop-color="#fd8d27"/><stop offset="0.75" stop-color="#fd8a26"/><stop offset="0.78125" stop-color="#fc8725"/><stop offset="0.8125" stop-color="#fc8423"/><stop offset="0.84375" stop-color="#fc8423"/><stop offset="0.875" stop-color="#fc8725"/><stop offset="0.90625" stop-color="#fd8a26"/><stop offset="0.9375" stop-color="#fe9029"/><stop offset="0.96875" stop-color="#fe932a"/><stop offset="1" stop-color="#fe992c"/></linearGradient>
<linearGradient id="g60"><stop offset="0" stop-color="#4661d6"/><stop offset="0.03125" stop-color="#4661d6"/><stop offset="0.0625" stop-color="#4771e9"/><stop offset="0.09375" stop-color="#458afc"/><stop offset="0.125" stop-color="#3aa3fc"/><stop offset="0.15625" stop-color="#2cb7f0"/><stop offset="0.1875" stop-color="#1fc9dd"/><stop offset="0.21875" stop-color="#18ddc2"/><stop offset="0.25" stop-color="#20eaac"/><stop offset="0.28125" stop-color="#2ff19b"/><stop offset="0.3125" stop-color="#3ff68a"/><stop offset="0.34375" stop-color="#55fa76"/><stop offset="0.375" stop-color="#84ff51"/><stop offset="0.40625" stop-color="#c3f134"/><stop offset="0.4375" stop-color="#ecd13a"/><stop offset="0.46875" stop-color="#f6c33a"/><stop offset="0.5" stop-color="#f7c13a"/><stop offset="0.53125" stop-color="#faba39"/><stop offset="0.5625" stop-color="#fdac34"/><stop offset="0.59375" stop-color="#fea431"/><stop offset="0.625" stop-color="#fe9b2d"/><stop offset="0.65625" stop-color="#fe992c"/><stop offset="0.6875" stop-color="#fe932a"/><stop offset="0.71875" stop-color="#fd8d27"/><stop offset="0.75" stop-color="#fd8a26"/><stop offset="0.78125" stop-color="#fc8423"/><stop offset="0.8125" stop-color="#fc8423"/><stop offset="0.84375" stop-color="#fc8423"/><stop offset="0.875" stop-color="#fc8725"/><stop offset="0.90625" stop-color="#fd8a26"/><stop offset="0.9375" stop-color="#fe9029"/><stop offset="0.96875" stop-color="#fe962b"/><stop offset="1" stop-color="#fe992c"/></linearGradient>
<linearGradient id="g61"><stop offset="0" stop-color="#4661d6"/><stop offset="0.03125" stop-color="#4661d6"/><stop offset="0.0625" stop-color="#4773eb"/><stop offset="0.09375" stop-color="#458cfd"/><stop offset="0.125" stop-color="#37a8fa"/><stop offset="0.15625" stop-color="#2ab9ee"/><stop offset="0.1875" stop-color="#1ecbda"/><stop offset="0.21875" stop-color="#18ddc2"/><stop offset="0.25" stop-color="#20eaac"/><stop offset="0.28125" stop-color="#32f298"/><stop offset="0.3125" stop-color="#43f787"/><stop offset="0.34375" stop-color="#55fa76"/><stop offset="0.375" stop-color="#84ff51"/><stop offset="0.40625" stop-color="#c3f134"/><stop offset="0.4375" stop-color="#efcd3a"/><stop offset="0.46875" stop-color="#f7c13a"/><stop offset="0.5" stop-color="#f8be39"/><stop offset="0.53125" stop-color="#fbb838"/><stop offset="0.5625" stop-color="#fdac34"/><stop offset="0.59375" stop-color="#fea130"/><stop offset="0.625" stop-color="#fe9b2d"/><stop offset="0.65625" stop-color="#fe962b"/><stop offset="0.6875" stop-color="#fe932a"/><stop offset="0.71875" stop-color="#fd8d27"/><stop offset="0.75" stop-color="#fd8a26"/><stop offset="0.78125" stop-color="#fc8423"/><stop offset="0.8125" stop-color="#fc8423"/><stop offset="0.84375" stop-color="#fc8423"/><stop offset="0.875" stop-color="#fc8725"/><stop offset="0.90625" stop-color="#fd8a26"/><stop offset="0.9375" stop-color="#fe9029"/><stop offset="0.96875" stop-color="#fe962b"/><stop offset="1" stop-color="#fe9b2d"/></linearGradient>
<linearGradient id="g62"><stop offset="0" stop-color="#4661d6"/><stop offset="0.03125" stop-color="#4661d6"/><stop offset="0.0625" stop-color="#4776ee"/><stop offset="0.09375" stop-color="#448ffe"/><stop offset="0.125" stop-color="#35abf8"/><stop offset="0.15625" stop-color="#28bceb"/><stop offset="0.1875" stop-color="#1ccdd8"/><stop offset="0.21875" stop-color="#18dec0"/><stop offset="0.25" stop-color="#22ebaa"/><stop offset="0.28125" stop-color="#32f298"/><stop offset="0.3125" stop-color="#43f787"/><stop offset="0.34375" stop-color="#55fa76"/><stop offset="0.375" stop-color="#84ff51"/><stop offset="0.40625" stop-color="#c3f134"/><stop offset="0.4375" stop-color="#efcd3a"/><stop offset="0.46875" stop-color="#f9bc39"/><stop offset="0.5" stop-color="#f9bc39"/><stop offset="0.53125" stop-color="#fbb637"/><stop offset="0.5625" stop-color="#fea933"/><stop offset="0.59375" stop-color="#fea130"/><stop offset="0.625" stop-color="#fe9b2d"/><stop offset="0.65625" stop-color="#fe962b"/><stop offset="0.6875" stop-color="#fe932a"/><stop offset="0.71875" stop-color="#fd8d27"/><stop offset="0.75" stop-color="#fd8a26"/><stop offset="0.78125" stop-color="#fc8423"/><stop offset="0.8125" stop-color="#fc8423"/><stop offset="0.84375" stop-color="#fc8423"/><stop offset="0.875" stop-color="#fc8725"/><stop offset="0.90625" stop-color="#fd8d27"/><stop offset="0.9375" stop-color="#fe9029"/><stop offset="0.96875" stop-color="#fe962b"/><stop offset="1" stop-color="#fe9b2d"/></linearGradient>
<linearGradient id="g63"><stop offset="0" stop-color="#4661d6"/><stop offset="0.03125" stop-color="#4664da"/><stop offset="0.0625" stop-color="#4776ee"/><stop offset="0.09375" stop-color="#4391fe"/><stop offset="0.125" stop-color="#33adf7"/><stop offset="0.15625" stop-color="#27bee9"/><stop offset="0.1875" stop-color="#1ccdd8"/><stop offset="0.21875" stop-color="#18dec0"/><stop offset="0.25" stop-color="#22ebaa"/><stop offset="0.28125" stop-color="#35f394"/><stop offset="0.3125" stop-color="#43f787"/><stop offset="0.34375" stop-color="#55fa76"/><stop offset="0.375" stop-color="#84ff51"/><stop offset="0.40625" stop-color="#c3f134"/><stop offset="0.4375" stop-color="#f1cb3a"/><stop offset="0.46875" stop-color="#f9bc39"/><stop offset="0.5" stop-color="#faba39"/><stop offset="0.53125" stop-color="#fcb336"/><stop offset="0.5625" stop-color="#fea933"/><stop offset="0.59375" stop-color="#fea130"/><stop offset="0.625" stop-color="#fe9b2d"/><stop offset="0.65625" stop-color="#fe962b"/><stop offset="0.6875" stop-color="#fe932a"/><stop offset="0.71875" stop-color="#fd8d27"/><stop offset="0.75" stop-color="#fd8a26"/><stop offset="0.78125" stop-color="#fc8725"/><stop offset="0.8125" stop-color="#fc8423"/><stop offset="0.84375" stop-color="#fc8423"/><stop offset="0.875" stop-color="#fc8725"/><stop offset="0.90625" stop-color="#fd8d27"/><stop offset="0.9375" stop-color="#fe9029"/><stop offset="0.96875" stop-color="#fe962b"/><stop offset="1" stop-color="#fe9b2d"/></linearGradient>
<linearGradient id="g64"><stop offset="0" stop-color="#4661d6"/><stop offset="0.03125" stop-color="#4664da"/><stop offset="0.0625" stop-color="#4778f0"/><stop offset="0.09375" stop-color="#4294ff"/><stop offset="0.125" stop-color="#31aff5"/><stop offset="0.15625" stop-color="#25c0e7"/><stop offset="0.1875" stop-color="#1bd0d5"/><stop offset="0.21875" stop-color="#18e0bd"/><stop offset="0.25" stop-color="#25eca7"/><stop offset="0.28125" stop-color="#35f394"/><stop offset="0.3125" stop-color="#46f884"/><stop offset="0.34375" stop-color="#55fa76"/><stop offset="0.375" stop-color="#84ff51"/><stop offset="0.40625" stop-color="#c6f034"/><stop offset="0.4375" stop-color="#f1cb3a"/><stop offset="0.46875" stop-color="#faba39"/><stop offset="0.5" stop-color="#faba39"/><stop offset="0.53125" stop-color="#fcb336"/><stop offset="0.5625" stop-color="#fea933"/><stop offset="0.59375" stop-color="#fea130"/><stop offset="0.625" stop-color="#fe9b2d"/><stop offset="0.65625" stop-color="#fe962b"/><stop offset="0.6875" stop-color="#fe932a"/><stop offset="0.71875" stop-color="#fd8d27"/><stop offset="0.75" stop-color="#fd8a26"/><stop offset="0.78125" stop-color="#fc8725"/><stop offset="0.8125" stop-color="#fc8423"/><stop offset="0.84375" stop-color="#fc8725"/><stop offset="0.875" stop-color="#fc8725"/><stop offset="0.90625" stop-color="#fd8d27"/><stop offset="0.9375" stop-color="#fe9029"/><stop offset="0.96875" stop-color="#fe962b"/><stop offset="1" stop-color="#fe9b2d"/></linearGradient>
<linearGradient id="g65"><stop offset="0" stop-color="#4661d6"/><stop offset="0.03125" stop-color="#4664da"/><stop offset="0.0625" stop-color="#4778f0"/><stop offset="0.09375" stop-color="#4196ff"/><stop offset="0.125" stop-color="#2fb2f4"/><stop offset="0.15625" stop-color="#23c3e4"/><stop offset="0.1875" stop-color="#1ad2d2"/><stop offset="0.21875" stop-color="#19e2bb"/><stop offset="0.25" stop-color="#25eca7"/><stop offset="0.28125" stop-color="#38f491"/><stop offset="0.3125" stop-color="#46f884"/><stop offset="0.34375" stop-color="#59fb73"/><stop offset="0.375" stop-color="#84ff51"/><stop offset="0.40625" stop-color="#c6f034"/><stop offset="0.4375" stop-color="#f1cb3a"/><stop offset="0.46875" stop-color="#faba39"/><stop offset="0.5" stop-color="#fbb838"/><stop offset="0.53125" stop-color="#fcb136"/><stop offset="0.5625" stop-color="#fea933"/><stop offset="0.59375" stop-color="#fea130"/><stop offset="0.625" stop-color="#fe9b2d"/><stop offset="0.65625" stop-color="#fe962b"/><stop offset="0.6875" stop-color="#fe932a"/><stop offset="0.71875" stop-color="#fd8d27"/><stop offset="0.75" stop-color="#fd8a26"/><stop offset="0.78125" stop-color="#fc8725"/><stop offset="0.8125" stop-color="#fc8423"/><stop offset="0.84375" stop-color="#fc8725"/><stop offset="0.875" stop-color="#fd8a26"/><stop offset="0.90625" stop-color="#fd8d27"/><stop offset="0.9375" stop-color="#fe9029"/><stop offset="0.96875" stop-color="#fe962b"/><stop offset="1" stop-color="#fe9e2f"/></linearGradient>
<linearGradient id="g66"><stop offset="0" stop-color="#4661d6"/><stop offset="0.03125" stop-color="#4664da"/><stop offset="0.0625" stop-color="#477bf2"/><stop offset="0.09375" stop-color="#4099ff"/><stop offset="0.125" stop-color="#2fb2f4"/><stop offset="0.15625" stop-color="#22c5e2"/><stop offset="0.1875" stop-color="#1ad2d2"/><stop offset="0.21875" stop-color="#19e2bb"/><stop offset="0.25" stop-color="#27eea4"/><stop offset="0.28125" stop-color="#3cf58e"/><stop offset="0.3125" stop-color="#4af880"/><stop offset="0.34375" stop-color="#5dfc6f"/><stop offset="0.375" stop-color="#88ff4e"/><stop offset="0.40625" stop-color="#c6f034"/><stop offset="0.4375" stop-color="#efcd3a"/><stop offset="0.46875" stop-color="#faba39"/><stop offset="0.5" stop-color="#fbb838"/><stop offset="0.53125" stop-color="#fcb136"/><stop offset="0.5625" stop-color="#fea732"/><stop offset="0.59375" stop-color="#fea130"/><stop offset="0.625" stop-color="#fe9b2d"/><stop offset="0.65625" stop-color="#fe962b"/><stop offset="0.6875" stop-color="#fe932a"/><stop offset="0.71875" stop-color="#fd8d27"/><stop offset="0.75" stop-color="#fd8a26"/><stop offset="0.78125" stop-color="#fc8725"/><stop offset="0.8125" stop-color="#fc8725"/><stop offset="0.84375" stop-color="#fc8725"/><stop offset="0.875" stop-color="#fd8a26"/><stop offset="0.90625" stop-color="#fd8d27"/><stop offset="0.9375" stop-color="#fe932a"/><stop offset="0.96875" stop-color="#fe992c"/><stop offset="1" stop-color="#fe9e2f"/></linearGradient>
<linearGradient id="g67"><stop offset="0" stop-color="#4661d6"/><stop offset="0.03125" stop-color="#4666dd"/><stop offset="0.0625" stop-color="#477bf2"/><stop offset="0.09375" stop-color="#4099ff"/><stop offset="0.125" stop-color="#2eb4f2"/><stop offset="0.15625" stop-color="#22c5e2"/><stop offset="0.1875" stop-color="#1ad4d0"/><stop offset="0.21875" stop-color="#19e3b9"/><stop offset="0.25" stop-color="#2aefa1"/><stop offset="0.28125" stop-color="#3cf58e"/><stop offset="0.3125" stop-color="#4ef97d"/><stop offset="0.34375" stop-color="#61fc6c"/><stop offset="0.375" stop-color="#8bff4b"/><stop offset="0.40625" stop-color="#c6f034"/><stop offset="0.4375" stop-color="#efcd3a"/><stop offset="0.46875" stop-color="#f9bc39"/><stop offset="0.5" stop-color="#fbb838"/><stop offset="0.53125" stop-color="#fcb136"/><stop offset="0.5625" stop-color="#fea732"/><stop offset="0.59375" stop-color="#fea130"/><stop offset="0.625" stop-color="#fe9b2d"/><stop offset="0.65625" stop-color="#fe962b"/><stop offset="0.6875" stop-color="#fe932a"/><stop offset="0.71875" stop-color="#fd8d27"/><stop offset="0.75" stop-color="#fd8a26"/><stop offset="0.78125" stop-color="#fc8725"/><stop offset="0.8125" stop-color="#fc8725"/><stop offset="0.84375" stop-color="#fc8725"/><stop offset="0.875" stop-color="#fd8a26"/><stop offset="0.90625" stop-color="#fd8d27"/><stop offset="0.9375" stop-color="#fe932a"/><stop offset="0.96875" stop-color="#fe992c"/><stop offset="1" stop-color="#fe9e2f"/></linearGradient>
<linearGradient id="g68"><stop offset="0" stop-color="#4661d6"/><stop offset="0.03125" stop-color="#4666dd"/><stop offset="0.0625" stop-color="#467df4"/><stop offset="0.09375" stop-color="#3e9bfe"/><stop offset="0.125" stop-color="#2cb7f0"/><stop offset="0.15625" stop-color="#20c7df"/><stop offset="0.1875" stop-color="#19d5cd"/><stop offset="0.21875" stop-color="#1ae4b6"/><stop offset="0.25" stop-color="#2cf09e"/><stop offset="0.28125" stop-color="#3ff68a"/><stop offset="0.3125" stop-color="#52fa7a"/><stop offset="0.34375" stop-color="#65fd69"/><stop offset="0.375" stop-color="#8fff49"/><stop offset="0.40625" stop-color="#c6f034"/><stop offset="0.4375" stop-color="#eecf3a"/><stop offset="0.46875" stop-color="#f9bc39"/><stop offset="0.5" stop-color="#fbb838"/><stop offset="0.53125" stop-color="#fcb136"/><stop offset="0.5625" stop-color="#fea732"/><stop offset="0.59375" stop-color="#fe9e2f"/><stop offset="0.625" stop-color="#fe9b2d"/><stop offset="0.65625" stop-color="#fe962b"/><stop offset="0.6875" stop-color="#fe932a"/><stop offset="0.71875" stop-color="#fe9029"/><stop offset="0.75" stop-color="#fd8a26"/><stop offset="0.78125" stop-color="#fc8725"/><stop offset="0.8125" stop-color="#fc8725"/><stop offset="0.84375" stop-color="#fc8725"/><stop offset="0.875" stop-color="#fd8a26"/><stop offset="0.90625" stop-color="#fd8d27"/><stop offset="0.9375" stop-color="#fe932a"/><stop offset="0.96875" stop-color="#fe992c"/><stop offset="1" stop-color="#fea130"/></linearGradient>
<linearGradient id="g69"><stop offset="0" stop-color="#4664da"/><stop offset="0.03125" stop-color="#4669e0"/><stop offset="0.0625" stop-color="#4680f6"/><stop offset="0.09375" stop-color="#3e9bfe"/><stop offset="0.125" stop-color="#2cb7f0"/><stop offset="0.15625" stop-color="#20c7df"/><stop offset="0.1875" stop-color="#19d5cd"/><stop offset="0.21875" stop-color="#1ae4b6"/><stop offset="0.25" stop-color="#2ff19b"/><stop offset="0.28125" stop-color="#43f787"/><stop offset="0.3125" stop-color="#55fa76"/><stop offset="0.34375" stop-color="#69fd66"/><stop offset="0.375" stop-color="#92ff47"/><stop offset="0.40625" stop-color="#c6f034"/><stop offset="0.4375" stop-color="#eecf3a"/><stop offset="0.46875" stop-color="#f8be39"/><stop offset="0.5" stop-color="#fbb838"/><stop offset="0.53125" stop-color="#fcb136"/><stop offset="0.5625" stop-color="#fea732"/><stop offset="0.59375" stop-color="#fe9e2f"/><stop offset="0.625" stop-color="#fe9b2d"/><stop offset="0.65625" stop-color="#fe962b"/><stop offset="0.6875" stop-color="#fe932a"/><stop offset="0.71875" stop-color="#fe9029"/><stop offset="0.75" stop-color="#fd8a26"/><stop offset="0.78125" stop-color="#fc8725"/><stop offset="0.8125" stop-color="#fc8725"/><stop offset="0.84375" stop-color="#fc8725"/><stop offset="0.875" stop-color="#fd8a26"/><stop offset="0.90625" stop-color="#fd8d27"/><stop offset="0.9375" stop-color="#fe932a"/><stop offset="0.96875" stop-color="#fe992c"/><stop offset="1" stop-color="#fea130"/></linearGradient>
<linearGradient id="g70"><stop offset="0" stop-color="#4664da"/><stop offset="0.03125" stop-color="#4669e0"/><stop offset="0.0625" stop-color="#4680f6"/><stop offset="0.09375" stop-color="#3d9efe"/><stop offset="0.125" stop-color="#2cb7f0"/><stop offset="0.15625" stop-color="#20c7df"/><stop offset="0.1875" stop-color="#19d5cd"/><stop offset="0.21875" stop-color="#1ce6b4"/><stop offset="0.25" stop-color="#32f298"/><stop offset="0.28125" stop-color="#46f884"/><stop offset="0.3125" stop-color="#59fb73"/><stop offset="0.34375" stop-color="#71fe5f"/><stop offset="0.375" stop-color="#96fe44"/><stop offset="0.40625" stop-color="#c8ef34"/><stop offset="0.4375" stop-color="#ecd13a"/><stop offset="0.46875" stop-color="#f8be39"/><stop offset="0.5" stop-color="#fbb838"/><stop offset="0.53125" stop-color="#fdae35"/><stop offset="0.5625" stop-color="#fea732"/><stop offset="0.59375" stop-color="#fe9e2f"/><stop offset="0.625" stop-color="#fe9b2d"/><stop offset="0.65625" stop-color="#fe962b"/><stop offset="0.6875" stop-color="#fe932a"/><stop offset="0.71875" stop-color="#fe9029"/><stop offset="0.75" stop-color="#fd8a26"/><stop offset="0.78125" stop-color="#fc8725"/><stop offset="0.8125" stop-color="#fc8725"/><stop offset="0.84375" stop-color="#fc8725"/><stop offset="0.875" stop-color="#fd8a26"/><stop offset="0.90625" stop-color="#fd8d27"/><stop offset="0.9375" stop-color="#fe932a"/><stop offset="0.96875" stop-color="#fe992c"/><stop offset="1" stop-color="#fea130"/></linearGradient>
<linearGradient id="g71"><stop offset="0" stop-color="#4664da"/><stop offset="0.03125" stop-color="#4669e0"/><stop offset="0.0625" stop-color="#4682f8"/><stop offset="0.09375" stop-color="#3d9efe"/><stop offset="0.125" stop-color="#2ab9ee"/><stop offset="0.15625" stop-color="#1fc9dd"/><stop offset="0.1875" stop-color="#19d5cd"/><stop offset="0.21875" stop-color="#1de7b2"/><stop offset="0.25" stop-color="#35f394"/><stop offset="0.28125" stop-color="#4ef97d"/><stop offset="0.3125" stop-color="#5dfc6f"/><stop offset="0.34375" stop-color="#75fe5c"/><stop offset="0.375" stop-color="#9cfe40"/><stop offset="0.40625" stop-color="#c8ef34"/><stop offset="0.4375" stop-color="#ecd13a"/><stop offset="0.46875" stop-color="#f7c13a"/><stop offset="0.5" stop-color="#fbb838"/><stop offset="0.53125" stop-color="#fdae35"/><stop offset="0.5625" stop-color="#fea732"/><stop offset="0.59375" stop-color="#fe9e2f"/><stop offset="0.625" stop-color="#fe992c"/><stop offset="0.65625" stop-color="#fe962b"/><stop offset="0.6875" stop-color="#fe932a"/><stop offset="0.71875" stop-color="#fe9029"/><stop offset="0.75" stop-color="#fd8a26"/><stop offset="0.78125" stop-color="#fc8725"/><stop offset="0.8125" stop-color="#fc8725"/><stop offset="0.84375" stop-color="#fc8725"/><stop offset="0.875" stop-color="#fd8a26"/><stop offset="0.90625" stop-color="#fd8d27"/><stop offset="0.9375" stop-color="#fe932a"/><stop offset="0.96875" stop-color="#fe9b2d"/><stop offset="1" stop-color="#fea130"/></linearGradient>
<linearGradient id="g72"><stop offset="0" stop-color="#4664da"/><stop offset="0.03125" stop-color="#466be3"/><stop offset="0.0625" stop-color="#4682f8"/><stop offset="0.09375" stop-color="#3ba0fd"/><stop offset="0.125" stop-color="#2ab9ee"/><stop offset="0.15625" stop-color="#1fc9dd"/><stop offset="0.1875" stop-color="#18d7ca"/><stop offset="0.21875" stop-color="#1de7b2"/><stop offset="0.25" stop-color="#38f491"/><stop offset="0.28125" stop-color="#52fa7a"/><stop offset="0.3125" stop-color="#65fd69"/><stop offset="0.34375" stop-color="#7dff56"/><stop offset="0.375" stop-color="#a1fd3d"/><stop offset="0.40625" stop-color="#cbed34"/><stop offset="0.4375" stop-color="#ecd13a"/><stop offset="0.46875" stop-color="#f7c13a"/><stop offset="0.5" stop-color="#fbb838"/><stop offset="0.53125" stop-color="#fdae35"/><stop offset="0.5625" stop-color="#fea732"/><stop offset="0.59375" stop-color="#fe9e2f"/><stop offset="0.625" stop-color="#fe992c"/><stop offset="0.65625" stop-color="#fe962b"/><stop offset="0.6875" stop-color="#fe932a"/><stop offset="0.71875" stop-color="#fd8d27"/><stop offset="0.75" stop-color="#fd8a26"/><stop offset="0.78125" stop-color="#fc8725"/><stop offset="0.8125" stop-color="#fc8725"/><stop offset="0.84375" stop-color="#fc8725"/><stop offset="0.875" stop-color="#fd8a26"/><stop offset="0.90625" stop-color="#fe9029"/><stop offset="0.9375" stop-color="#fe962b"/><stop offset="0.96875" stop-color="#fe9b2d"/><stop offset="1" stop-color="#fea431"/></linearGradient>
<linearGradient id="g73"><stop offset="0" stop-color="#4664da"/><stop offset="0.03125" stop-color="#466be3"/><stop offset="0.0625" stop-color="#4685fa"/><stop offset="0.09375" stop-color="#3ba0fd"/><stop offset="0.125" stop-color="#2ab9ee"/><stop offset="0.15625" stop-color="#20c7df"/><stop offset="0.1875" stop-color="#19d5cd"/><stop offset="0.21875" stop-color="#1fe9af"/><stop offset="0.25" stop-color="#3ff68a"/><stop offset="0.28125" stop-color="#59fb73"/><stop offset="0.3125" stop-color="#6dfe62"/><stop offset="0.34375" stop-color="#84ff51"/><stop offset="0.375" stop-color="#a7fc3a"/><stop offset="0.40625" stop-color="#cdec34"/><stop offset="0.4375" stop-color="#ebd339"/><stop offset="0.46875" stop-color="#f7c13a"/><stop offset="0.5" stop-color="#fbb838"/><stop offset="0.53125" stop-color="#fdae35"/><stop offset="0.5625" stop-color="#fea732"/><stop offset="0.59375" stop-color="#fe9e2f"/><stop offset="0.625" stop-color="#fe992c"/><stop offset="0.65625" stop-color="#fe962b"/><stop offset="0.6875" stop-color="#fe932a"/><stop offset="0.71875" stop-color="#fd8d27"/><stop offset="0.75" stop-color="#fd8a26"/><stop offset="0.78125" stop-color="#fd8a26"/><stop offset="0.8125" stop-color="#fc8725"/><stop offset="0.84375" stop-color="#fd8a26"/><stop offset="0.875" stop-color="#fd8a26"/><stop offset="0.90625" stop-color="#fe9029"/><stop offset="0.9375" stop-color="#fe962b"/><stop offset="0.96875" stop-color="#fe9b2d"/><stop offset="1" stop-color="#fea431"/></linearGradient>
<linearGradient id="g74"><stop offset="0" stop-color="#4664da"/><stop offset="0.03125" stop-color="#476ee6"/><stop offset="0.0625" stop-color="#4685fa"/><stop offset="0.09375" stop-color="#3ba0fd"/><stop offset="0.125" stop-color="#2ab9ee"/><stop offset="0.15625" stop-color="#20c7df"/><stop offset="0.1875" stop-color="#19d5cd"/><stop offset="0.21875" stop-color="#20eaac"/><stop offset="0.25" stop-color="#43f787"/><stop offset="0.28125" stop-color="#61fc6c"/><stop offset="0.3125" stop-color="#75fe5c"/><stop offset="0.34375" stop-color="#8bff4b"/><stop offset="0.375" stop-color="#acfb38"/><stop offset="0.40625" stop-color="#d0ea34"/><stop offset="0.4375" stop-color="#ecd13a"/><stop offset="0.46875" stop-color="#f7c13a"/><stop offset="0.5" stop-color="#fbb838"/><stop offset="0.53125" stop-color="#fdae35"/><stop offset="0.5625" stop-color="#fea431"/><stop offset="0.59375" stop-color="#fe9e2f"/><stop offset="0.625" stop-color="#fe992c"/><stop offset="0.65625" stop-color="#fe962b"/><stop offset="0.6875" stop-color="#fe932a"/><stop offset="0.71875" stop-color="#fd8d27"/><stop offset="0.75" stop-color="#fd8a26"/><stop offset="0.78125" stop-color="#fd8a26"/><stop offset="0.8125" stop-color="#fc8725"/><stop offset="0.84375" stop-color="#fd8a26"/><stop offset="0.875" stop-color="#fd8a26"/><stop offset="0.90625" stop-color="#fe9029"/><stop offset="0.9375" stop-color="#fe962b"/><stop offset="0.96875" stop-color="#fe9e2f"/><stop offset="1" stop-color="#fea431"/></linearGradient>
<linearGradient id="g75"><stop offset="0" stop-color="#4666dd"/><stop offset="0.03125" stop-color="#476ee6"/><stop offset="0.0625" stop-color="#4685fa"/><stop offset="0.09375" stop-color="#3aa3fc"/><stop offset="0.125" stop-color="#2ab9ee"/><stop offset="0.15625" stop-color="#20c7df"/><stop offset="0.1875" stop-color="#19d5cd"/><stop offset="0.21875" stop-color="#20eaac"/><stop offset="0.25" stop-color="#46f884"/><stop offset="0.28125" stop-color="#65fd69"/><stop offset="0.3125" stop-color="#79fe59"/><stop offset="0.34375" stop-color="#92ff47"/><stop offset="0.375" stop-color="#b1f936"/><stop offset="0.40625" stop-color="#d2e935"/><stop offset="0.4375" stop-color="#ecd13a"/><stop offset="0.46875" stop-color="#f7c13a"/><stop offset="0.5" stop-color="#fbb838"/><stop offset="0.53125" stop-color="#fdae35"/><stop offset="0.5625" stop-color="#fea431"/><stop offset="0.59375" stop-color="#fe9e2f"/><stop offset="0.625" stop-color="#fe992c"/><stop offset="0.65625" stop-color="#fe962b"/><stop offset="0.6875" stop-color="#fe9029"/><stop offset="0.71875" stop-color="#fd8d27"/><stop offset="0.75" stop-color="#fd8a26"/><stop offset="0.78125" stop-color="#fd8a26"/><stop offset="0.8125" stop-color="#fc8725"/><stop offset="0.84375" stop-color="#fd8a26"/><stop offset="0.875" stop-color="#fd8d27"/><stop offset="0.90625" stop-color="#fe9029"/><stop offset="0.9375" stop-color="#fe992c"/><stop offset="0.96875" stop-color="#fe9e2f"/><stop offset="1" stop-color="#fea732"/></linearGradient>
<linearGradient id="g76"><stop offset="0" stop-color="#4666dd"/><stop offset="0.03125" stop-color="#4771e9"/><stop offset="0.0625" stop-color="#4687fb"/><stop offset="0.09375" stop-color="#3aa3fc"/><stop offset="0.125" stop-color="#2ab9ee"/><stop offset="0.15625" stop-color="#20c7df"/><stop offset="0.1875" stop-color="#19d5cd"/><stop offset="0.21875" stop-color="#22ebaa"/><stop offset="0.25" stop-color="#4ef97d"/><stop offset="0.28125" stop-color="#6dfe62"/><stop offset="0.3125" stop-color="#80ff53"/><stop offset="0.34375" stop-color="#99fe42"/><stop offset="0.375" stop-color="#b7f735"/><stop offset="0.40625" stop-color="#d4e735"/><stop offset="0.4375" stop-color="#ecd13a"/><stop offset="0.46875" stop-color="#f7c13a"/><stop offset="0.5" stop-color="#fbb637"/><stop offset="0.53125" stop-color="#fdac34"/><stop offset="0.5625" stop-color="#fea431"/><stop offset="0.59375" stop-color="#fe9e2f"/><stop offset="0.625" stop-color="#fe992c"/><stop offset="0.65625" stop-color="#fe932a"/><stop offset="0.6875" stop-color="#fe9029"/><stop offset="0.71875" stop-color="#fd8d27"/><stop offset="0.75" stop-color="#fd8a26"/><stop offset="0.78125" stop-color="#fd8a26"/><stop offset="0.8125" stop-color="#fc8725"/><stop offset="0.84375" stop-color="#fd8a26"/><stop offset="0.875" stop-color="#fd8d27"/><stop offset="0.90625" stop-color="#fe9029"/><stop offset="0.9375" stop-color="#fe992c"/><stop offset="0.96875" stop-color="#fe9e2f"/><stop offset="1" stop-color="#fea732"/></linearGradient>
<linearGradient id="g77"><stop offset="0" stop-color="#4666dd"/><stop offset="0.03125" stop-color="#4771e9"/><stop offset="0.0625" stop-color="#4687fb"/><stop offset="0.09375" stop-color="#3aa3fc"/><stop offset="0.125" stop-color="#2ab9ee"/><stop offset="0.15625" stop-color="#22c5e2"/><stop offset="0.1875" stop-color="#19d5cd"/><stop offset="0.21875" stop-color="#22ebaa"/><stop offset="0.25" stop-color="#52fa7a"/><stop offset="0.28125" stop-color="#71fe5f"/><stop offset="0.3125" stop-color="#88ff4e"/><stop offset="0.34375" stop-color="#a1fd3d"/><stop offset="0.375" stop-color="#bcf534"/><stop offset="0.40625" stop-color="#d7e535"/><stop offset="0.4375" stop-color="#ecd13a"/><stop offset="0.46875" stop-color="#f7c13a"/><stop offset="0.5" stop-color="#fbb637"/><stop offset="0.53125" stop-color="#fdac34"/><stop offset="0.5625" stop-color="#fea431"/><stop offset="0.59375" stop-color="#fe9e2f"/><stop offset="0.625" stop-color="#fe992c"/><stop offset="0.65625" stop-color="#fe932a"/><stop offset="0.6875" stop-color="#fe9029"/><stop offset="0.71875" stop-color="#fd8d27"/><stop offset="0.75" stop-color="#fd8a26"/><stop offset="0.78125" stop-color="#fd8a26"/><stop offset="0.8125" stop-color="#fd8a26"/><stop offset="0.84375" stop-color="#fd8a26"/><stop offset="0.875" stop-color="#fd8d27"/><stop offset="0.90625" stop-color="#fe932a"/><stop offset="0.9375" stop-color="#fe992c"/><stop offset="0.96875" stop-color="#fea130"/><stop offset="1" stop-color="#fea732"/></linearGradient>
<linearGradient id="g78"><stop offset="0" stop-color="#4666dd"/><stop offset="0.03125" stop-color="#4771e9"/><stop offset="0.0625" stop-color="#4687fb"/><stop offset="0.09375" stop-color="#3aa3fc"/><stop offset="0.125" stop-color="#2ab9ee"/><stop offset="0.15625" stop-color="#22c5e2"/><stop offset="0.1875" stop-color="#19d5cd"/><stop offset="0.21875" stop-color="#25eca7"/><stop offset="0.25" stop-color="#55fa76"/><stop offset="0.28125" stop-color="#79fe59"/><stop offset="0.3125" stop-color="#8fff49"/><stop offset="0.34375" stop-color="#a4fc3c"/><stop offset="0.375" stop-color="#c1f334"/><stop offset="0.40625" stop-color="#dbe236"/><stop offset="0.4375" stop-color="#eecf3a"/><stop offset="0.46875" stop-color="#f7c13a"/><stop offset="0.5" stop-color="#fbb637"/><stop offset="0.53125" stop-color="#fdac34"/><stop offset="0.5625" stop-color="#fea431"/><stop offset="0.59375" stop-color="#fe9e2f"/><stop offset="0.625" stop-color="#fe992c"/><stop offset="0.65625" stop-color="#fe932a"/><stop offset="0.6875" stop-color="#fe9029"/><stop offset="0.71875" stop-color="#fd8d27"/><stop offset="0.75" stop-color="#fd8a26"/><stop offset="0.78125" stop-color="#fd8a26"/><stop offset="0.8125" stop-color="#fd8a26"/><stop offset="0.84375" stop-color="#fd8a26"/><stop offset="0.875" stop-color="#fd8d27"/><stop offset="0.90625" stop-color="#fe932a"/><stop offset="0.9375" stop-color="#fe992c"/><stop offset="0.96875" stop-color="#fea130"/><stop offset="1" stop-color="#fea732"/></linearGradient>
<linearGradient id="g79"><stop offset="0" stop-color="#4666dd"/><stop offset="0.03125" stop-color="#4771e9"/><stop offset="0.0625" stop-color="#458afc"/><stop offset="0.09375" stop-color="#3aa3fc"/><stop offset="0.125" stop-color="#2ab9ee"/><stop offset="0.15625" stop-color="#22c5e2"/><stop offset="0.1875" stop-color="#19d5cd"/><stop offset="0.21875" stop-color="#25eca7"/><stop offset="0.25" stop-color="#59fb73"/><stop offset="0.28125" stop-color="#7dff56"/><stop offset="0.3125" stop-color="#92ff47"/><stop offset="0.34375" stop-color="#a9fb39"/><stop offset="0.375" stop-color="#c3f134"/><stop offset="0.40625" stop-color="#dde037"/><stop offset="0.4375" stop-color="#eecf3a"/><stop offset="0.46875" stop-color="#f7c13a"/><stop offset="0.5" stop-color="#fbb637"/><stop offset="0.53125" stop-color="#fdac34"/><stop offset="0.5625" stop-color="#fea431"/><stop offset="0.59375" stop-color="#fe9e2f"/><stop offset="0.625" stop-color="#fe992c"/><stop offset="0.65625" stop-color="#fe932a"/><stop offset="0.6875" stop-color="#fe9029"/><stop offset="0.71875" stop-color="#fd8d27"/><stop offset="0.75" stop-color="#fd8a26"/><stop offset="0.78125" stop-color="#fd8a26"/><stop offset="0.8125" stop-color="#fd8a26"/><stop offset="0.84375" stop-color="#fd8a26"/><stop offset="0.875" stop-color="#fd8d27"/><stop offset="0.90625" stop-color="#fe932a"/><stop offset="0.9375" stop-color="#fe9b2d"/><stop offset="0.96875" stop-color="#fea130"/><stop offset="1" stop-color="#fea933"/></linearGradient>
<linearGradient id="g80"><stop offset="0" stop-color="#4669e0"/><stop offset="0.03125" stop-color="#4773eb"/><stop offset="0.0625" stop-color="#458afc"/><stop offset="0.09375" stop-color="#38a5fb"/><stop offset="0.125" stop-color="#2ab9ee"/><stop offset="0.15625" stop-color="#22c5e2"/><stop offset="0.1875" stop-color="#19d5cd"/><stop offset="0.21875" stop-color="#25eca7"/><stop offset="0.25" stop-color="#5dfc6f"/><stop offset="0.28125" stop-color="#80ff53"/><stop offset="0.3125" stop-color="#96fe44"/><stop offset="0.34375" stop-color="#affa37"/><stop offset="0.375" stop-color="#c8ef34"/><stop offset="0.40625" stop-color="#dfdf37"/><stop offset="0.4375" stop-color="#efcd3a"/><stop offset="0.46875" stop-color="#f7c13a"/><stop offset="0.5" stop-color="#fbb637"/><stop offset="0.53125" stop-color="#fdac34"/><stop offset="0.5625" stop-color="#fea431"/><stop offset="0.59375" stop-color="#fe9e2f"/><stop offset="0.625" stop-color="#fe992c"/><stop offset="0.65625" stop-color="#fe932a"/><stop offset="0.6875" stop-color="#fe9029"/><stop offset="0.71875" stop-color="#fd8d27"/><stop offset="0.75" stop-color="#fd8a26"/><stop offset="0.78125" stop-color="#fd8a26"/><stop offset="0.8125" stop-color="#fd8a26"/><stop offset="0.84375" stop-color="#fd8a26"/><stop offset="0.875" stop-color="#fd8d27"/><stop offset="0.90625" stop-color="#fe932a"/><stop offset="0.9375" stop-color="#fe9b2d"/><stop offset="0.96875" stop-color="#fea431"/><stop offset="1" stop-color="#fea933"/></linearGradient>
<linearGradient id="g81"><stop offset="0" stop-color="#4669e0"/><stop offset="0.03125" stop-color="#4773eb"/><stop offset="0.0625" stop-color="#458afc"/><stop offset="0.09375" stop-color="#38a5fb"/><stop offset="0.125" stop-color="#2ab9ee"/><stop offset="0.15625" stop-color="#22c5e2"/><stop offset="0.1875" stop-color="#19d5cd"/><stop offset="0.21875" stop-color="#27eea4"/><stop offset="0.25" stop-color="#61fc6c"/><stop offset="0.28125" stop-color="#84ff51"/><stop offset="0.3125" stop-color="#99fe42"/><stop offset="0.34375" stop-color="#b1f936"/><stop offset="0.375" stop-color="#cbed34"/><stop offset="0.40625" stop-color="#e1dd37"/><stop offset="0.4375" stop-color="#efcd3a"/><stop offset="0.46875" stop-color="#f8be39"/><stop offset="0.5" stop-color="#fbb637"/><stop offset="0.53125" stop-color="#fdac34"/><stop offset="0.5625" stop-color="#fea431"/><stop offset="0.59375" stop-color="#fe9e2f"/><stop offset="0.625" stop-color="#fe992c"/><stop offset="0.65625" stop-color="#fe932a"/><stop offset="0.6875" stop-color="#fd8d27"/><stop offset="0.71875" stop-color="#fd8d27"/><stop offset="0.75" stop-color="#fd8a26"/><stop offset="0.78125" stop-color="#fd8a26"/><stop offset="0.8125" stop-color="#fd8a26"/><stop offset="0.84375" stop-color="#fd8a26"/><stop offset="0.875" stop-color="#fd8d27"/><stop offset="0.90625" stop-color="#fe962b"/><stop offset="0.9375" stop-color="#fe9b2d"/><stop offset="0.96875" stop-color="#fea431"/><stop offset="1" stop-color="#fea933"/></linearGradient>
<linearGradient id="g82"><stop offset="0" stop-color="#4669e0"/><stop offset="0.03125" stop-color="#4773eb"/><stop offset="0.0625" stop-color="#458afc"/><stop offset="0.09375" stop-color="#38a5fb"/><stop offset="0.125" stop-color="#2ab9ee"/><stop offset="0.15625" stop-color="#22c5e2"/><stop offset="0.1875" stop-color="#19d5cd"/><stop offset="0.21875" stop-color="#27eea4"/><stop offset="0.25" stop-color="#61fc6c"/><stop offset="0.28125" stop-color="#88ff4e"/><stop offset="0.3125" stop-color="#9cfe40"/><stop offset="0.34375" stop-color="#b4f836"/><stop offset="0.375" stop-color="#cdec34"/><stop offset="0.40625" stop-color="#e3db38"/><stop offset="0.4375" stop-color="#f1cb3a"/><stop offset="0.46875" stop-color="#f8be39"/><stop offset="0.5" stop-color="#fcb336"/><stop offset="0.53125" stop-color="#fdac34"/><stop offset="0.5625" stop-color="#fea431"/><stop offset="0.59375" stop-color="#fe9e2f"/><stop offset="0.625" stop-color="#fe992c"/><stop offset="0.65625" stop-color="#fe932a"/><stop offset="0.6875" stop-color="#fd8d27"/><stop offset="0.71875" stop-color="#fd8d27"/><stop offset="0.75" stop-color="#fd8a26"/><stop offset="0.78125" stop-color="#fd8a26"/><stop offset="0.8125" stop-color="#fd8a26"/><stop offset="0.84375" stop-color="#fd8a26"/><stop offset="0.875" stop-color="#fe9029"/><stop offset="0.90625" stop-color="#fe962b"/><stop offset="0.9375" stop-color="#fe9e2f"/><stop offset="0.96875" stop-color="#fea431"/><stop offset="1" stop-color="#fdac34"/></linearGradient>
<linearGradient id="g83"><stop offset="0" stop-color="#4669e0"/><stop offset="0.03125" stop-color="#4773eb"/><stop offset="0.0625" stop-color="#458afc"/><stop offset="0.09375" stop-color="#38a5fb"/><stop offset="0.125" stop-color="#28bceb"/><stop offset="0.15625" stop-color="#20c7df"/><stop offset="0.1875" stop-color="#19d5cd"/><stop offset="0.21875" stop-color="#27eea4"/><stop offset="0.25" stop-color="#61fc6c"/><stop offset="0.28125" stop-color="#88ff4e"/><stop offset="0.3125" stop-color="#9ffd3f"/><stop offset="0.34375" stop-color="#b7f735"/><stop offset="0.375" stop-color="#d0ea34"/><stop offset="0.40625" stop-color="#e5d938"/><stop offset="0.4375" stop-color="#f1cb3a"/><stop offset="0.46875" stop-color="#f8be39"/><stop offset="0.5" stop-color="#fcb336"/><stop offset="0.53125" stop-color="#fdac34"/><stop offset="0.5625" stop-color="#fea431"/><stop offset="0.59375" stop-color="#fe9e2f"/><stop offset="0.625" stop-color="#fe992c"/><stop offset="0.65625" stop-color="#fe932a"/><stop offset="0.6875" stop-color="#fd8d27"/><stop offset="0.71875" stop-color="#fd8d27"/><stop offset="0.75" stop-color="#fd8a26"/><stop offset="0.78125" stop-color="#fd8a26"/><stop offset="0.8125" stop-color="#fd8a26"/><stop offset="0.84375" stop-color="#fd8a26"/><stop offset="0.875" stop-color="#fe9029"/><stop offset="0.90625" stop-color="#fe962b"/><stop offset="0.9375" stop-color="#fe9e2f"/><stop offset="0.96875" stop-color="#fea732"/><stop offset="1" stop-color="#fdac34"/></linearGradient>
<linearGradient id="g84"><stop offset="0" stop-color="#4669e0"/><stop offset="0.03125" stop-color="#4773eb"/><stop offset="0.0625" stop-color="#458afc"/><stop offset="0.09375" stop-color="#38a5fb"/><stop offset="0.125" stop-color="#28bceb"/><stop offset="0.15625" stop-color="#20c7df"/><stop offset="0.1875" stop-color="#18d7ca"/><stop offset="0.21875" stop-color="#2aefa1"/><stop offset="0.25" stop-color="#65fd69"/><stop offset="0.28125" stop-color="#88ff4e"/><stop offset="0.3125" stop-color="#9ffd3f"/><stop offset="0.34375" stop-color="#b7f735"/><stop offset="0.375" stop-color="#d2e935"/><stop offset="0.40625" stop-color="#e5d938"/><stop offset="0.4375" stop-color="#f2c93a"/><stop offset="0.46875" stop-color="#f9bc39"/><stop offset="0.5" stop-color="#fcb336"/><stop offset="0.53125" stop-color="#fea933"/><stop offset="0.5625" stop-color="#fea431"/><stop offset="0.59375" stop-color="#fe9e2f"/><stop offset="0.625" stop-color="#fe992c"/><stop offset="0.65625" stop-color="#fe932a"/><stop offset="0.6875" stop-color="#fd8d27"/><stop offset="0.71875" stop-color="#fd8d27"/><stop offset="0.75" stop-color="#fd8a26"/><stop offset="0.78125" stop-color="#fd8a26"/><stop offset="0.8125" stop-color="#fd8a26"/><stop offset="0.84375" stop-color="#fd8a26"/><stop offset="0.875" stop-color="#fe9029"/><stop offset="0.90625" stop-color="#fe962b"/><stop offset="0.9375" stop-color="#fe9e2f"/><stop offset="0.96875" stop-color="#fea732"/><stop offset="1" stop-color="#fdac34"/></linearGradient>
<linearGradient id="g85"><stop offset="0" stop-color="#4669e0"/><stop offset="0.03125" stop-color="#4773eb"/><stop offset="0.0625" stop-color="#458afc"/><stop offset="0.09375" stop-color="#38a5fb"/><stop offset="0.125" stop-color="#28bceb"/><stop offset="0.15625" stop-color="#20c7df"/><stop offset="0.1875" stop-color="#18d7ca"/><stop offset="0.21875" stop-color="#2aefa1"/><stop offset="0.25" stop-color="#65fd69"/><stop offset="0.28125" stop-color="#88ff4e"/><stop offset="0.3125" stop-color="#9ffd3f"/><stop offset="0.34375" stop-color="#b9f635"/><stop offset="0.375" stop-color="#d4e735"/><stop offset="0.40625" stop-color="#e7d739"/><stop offset="0.4375" stop-color="#f2c93a"/><stop offset="0.46875" stop-color="#f9bc39"/><stop offset="0.5" stop-color="#fcb336"/><stop offset="0.53125" stop-color="#fea933"/><stop offset="0.5625" stop-color="#fea431"/><stop offset="0.59375" stop-color="#fe9e2f"/><stop offset="0.625" stop-color="#fe992c"/><stop offset="0.65625" stop-color="#fe932a"/><stop offset="0.6875" stop-color="#fd8d27"/><stop offset="0.71875" stop-color="#fd8d27"/><stop offset="0.75" stop-color="#fd8a26"/><stop offset="0.78125" stop-color="#fd8a26"/><stop offset="0.8125" stop-color="#fd8a26"/><stop offset="0.84375" stop-color="#fd8d27"/><stop offset="0.875" stop-color="#fe9029"/><stop offset="0.90625" stop-color="#fe992c"/><stop offset="0.9375" stop-color="#fe9e2f"/><stop offset="0.96875" stop-color="#fea732"/><stop offset="1" stop-color="#fdae35"/></linearGradient>
<linearGradient id="g86"><stop offset="0" stop-color="#4669e0"/><stop offset="0.03125" stop-color="#4773eb"/><stop offset="0.0625" stop-color="#458afc"/><stop offset="0.09375" stop-color="#38a5fb"/><stop offset="0.125" stop-color="#28bceb"/><stop offset="0.15625" stop-color="#1fc9dd"/><stop offset="0.1875" stop-color="#18d7ca"/><stop offset="0.21875" stop-color="#2aefa1"/><stop offset="0.25" stop-color="#65fd69"/><stop offset="0.28125" stop-color="#88ff4e"/><stop offset="0.3125" stop-color="#9ffd3f"/><stop offset="0.34375" stop-color="#b9f635"/><stop offset="0.375" stop-color="#d4e735"/><stop offset="0.40625" stop-color="#e9d539"/><stop offset="0.4375" stop-color="#f4c73a"/><stop offset="0.46875" stop-color="#faba39"/><stop offset="0.5" stop-color="#fcb136"/><stop offset="0.53125" stop-color="#fea933"/><stop offset="0.5625" stop-color="#fea431"/><stop offset="0.59375" stop-color="#fe9e2f"/><stop offset="0.625" stop-color="#fe992c"/><stop offset="0.65625" stop-color="#fe932a"/><stop offset="0.6875" stop-color="#fd8d27"/><stop offset="0.71875" stop-color="#fd8d27"/><stop offset="0.75" stop-color="#fd8a26"/><stop offset="0.78125" stop-color="#fd8a26"/><stop offset="0.8125" stop-color="#fd8a26"/><stop offset="0.84375" stop-color="#fd8d27"/><stop offset="0.875" stop-color="#fe932a"/><stop offset="0.90625" stop-color="#fe992c"/><stop offset="0.9375" stop-color="#fe9e2f"/><stop offset="0.96875" stop-color="#fea732"/><stop offset="1" stop-color="#fdae35"/></linearGradient>
<linearGradient id="g87"><stop offset="0" stop-color="#4669e0"/><stop offset="0.03125" stop-color="#4773eb"/><stop offset="0.0625" stop-color="#458afc"/><stop offset="0.09375" stop-color="#38a5fb"/><stop offset="0.125" stop-color="#27bee9"/><stop offset="0.15625" stop-color="#1fc9dd"/><stop offset="0.1875" stop-color="#18d9c8"/><stop offset="0.21875" stop-color="#2aefa1"/><stop offset="0.25" stop-color="#61fc6c"/><stop offset="0.28125" stop-color="#88ff4e"/><stop offset="0.3125" stop-color="#9ffd3f"/><stop offset="0.34375" stop-color="#b9f635"/><stop offset="0.375" stop-color="#d7e535"/><stop offset="0.40625" stop-color="#e9d539"/><stop offset="0.4375" stop-color="#f5c53a"/><stop offset="0.46875" stop-color="#faba39"/><stop offset="0.5" stop-color="#fcb136"/><stop offset="0.53125" stop-color="#fea933"/><stop offset="0.5625" stop-color="#fea431"/><stop offset="0.59375" stop-color="#fe9e2f"/><stop offset="0.625" stop-color="#fe992c"/><stop offset="0.65625" stop-color="#fe932a"/><stop offset="0.6875" stop-color="#fd8d27"/><stop offset="0.71875" stop-color="#fd8d27"/><stop offset="0.75" stop-color="#fd8a26"/><stop offset="0.78125" stop-color="#fd8a26"/><stop offset="0.8125" stop-color="#fd8a26"/><stop offset="0.84375" stop-color="#fd8d27"/><stop offset="0.875" stop-color="#fe932a"/><stop offset="0.90625" stop-color="#fe992c"/><stop offset="0.9375" stop-color="#fea130"/><stop offset="0.96875" stop-color="#fea732"/><stop offset="1" stop-color="#fdae35"/></linearGradient>
<linearGradient id="g88"><stop offset="0" stop-color="#4669e0"/><stop offset="0.03125" stop-color="#4773eb"/><stop offset="0.0625" stop-color="#458afc"/><stop offset="0.09375" stop-color="#38a5fb"/><stop offset="0.125" stop-color="#27bee9"/><stop offset="0.15625" stop-color="#1fc9dd"/><stop offset="0.1875" stop-color="#18d9c8"/><stop offset="0.21875" stop-color="#2cf09e"/><stop offset="0.25" stop-color="#61fc6c"/><stop offset="0.28125" stop-color="#84ff51"/><stop offset="0.3125" stop-color="#9ffd3f"/><stop offset="0.34375" stop-color="#b9f635"/><stop offset="0.375" stop-color="#d7e535"/><stop offset="0.40625" stop-color="#ebd339"/><stop offset="0.4375" stop-color="#f5c53a"/><stop offset="0.46875" stop-color="#faba39"/><stop offset="0.5" stop-color="#fcb136"/><stop offset="0.53125" stop-color="#fea933"/><stop offset="0.5625" stop-color="#fea431"/><stop offset="0.59375" stop-color="#fe9e2f"/><stop offset="0.625" stop-color="#fe992c"/><stop offset="0.65625" stop-color="#fe932a"/><stop offset="0.6875" stop-color="#fd8d27"/><stop offset="0.71875" stop-color="#fd8d27"/><stop offset="0.75" stop-color="#fd8a26"/><stop offset="0.78125" stop-color="#fd8a26"/><stop offset="0.8125" stop-color="#fd8a26"/><stop offset="0.84375" stop-color="#fd8d27"/><stop offset="0.875" stop-color="#fe932a"/><stop offset="0.90625" stop-color="#fe992c"/><stop offset="0.9375" stop-color="#fea130"/><stop offset="0.96875" stop-color="#fea933"/><stop offset="1" stop-color="#fdae35"/></linearGradient>
<linearGradient id="g89"><stop offset="0" stop-color="#466be3"/><stop offset="0.03125" stop-color="#4773eb"/><stop offset="0.0625" stop-color="#458afc"/><stop offset="0.09375" stop-color="#38a5fb"/><stop offset="0.125" stop-color="#27bee9"/><stop offset="0.15625" stop-color="#1ecbda"/><stop offset="0.1875" stop-color="#18dbc5"/><stop offset="0.21875" stop-color="#2cf09e"/><stop offset="0.25" stop-color="#61fc6c"/><stop offset="0.28125" stop-color="#84ff51"/><stop offset="0.3125" stop-color="#9cfe40"/><stop offset="0.34375" stop-color="#b9f635"/><stop offset="0.375" stop-color="#d7e535"/><stop offset="0.40625" stop-color="#ebd339"/><stop offset="0.4375" stop-color="#f6c33a"/><stop offset="0.46875" stop-color="#fbb838"/><stop offset="0.5" stop-color="#fcb136"/><stop offset="0.53125" stop-color="#fea933"/><stop offset="0.5625" stop-color="#fea431"/><stop offset="0.59375" stop-color="#fe9e2f"/><stop offset="0.625" stop-color="#fe992c"/><stop offset="0.65625" stop-color="#fe932a"/><stop offset="0.6875" stop-color="#fd8d27"/><stop offset="0.71875" stop-color="#fd8d27"/><stop offset="0.75" stop-color="#fd8a26"/><stop offset="0.78125" stop-color="#fd8a26"/><stop offset="0.8125" stop-color="#fd8a26"/><stop offset="0.84375" stop-color="#fd8d27"/><stop offset="0.875" stop-color="#fe932a"/><stop offset="0.90625" stop-color="#fe9b2d"/><stop offset="0.9375" stop-color="#fea130"/><stop offset="0.96875" stop-color="#fea933"/><stop offset="1" stop-color="#fcb136"/></linearGradient>
<linearGradient id="g90"><stop offset="0" stop-color="#466be3"/><stop offset="0.03125" stop-color="#4773eb"/><stop offset="0.0625" stop-color="#458afc"/><stop offset="0.09375" stop-color="#38a5fb"/><stop offset="0.125" stop-color="#27bee9"/><stop offset="0.15625" stop-color="#1ecbda"/><stop offset="0.1875" stop-color="#18dbc5"/><stop offset="0.21875" stop-color="#2cf09e"/><stop offset="0.25" stop-color="#61fc6c"/><stop offset="0.28125" stop-color="#84ff51"/><stop offset="0.3125" stop-color="#9cfe40"/><stop offset="0.34375" stop-color="#b9f635"/><stop offset="0.375" stop-color="#d9e436"/><stop offset="0.40625" stop-color="#ecd13a"/><stop offset="0.4375" stop-color="#f6c33a"/><stop offset="0.46875" stop-color="#fbb838"/><stop offset="0.5" stop-color="#fdae35"/><stop offset="0.53125" stop-color="#fea933"/><stop offset="0.5625" stop-color="#fea431"/><stop offset="0.59375" stop-color="#fe9e2f"/><stop offset="0.625" stop-color="#fe992c"/><stop offset="0.65625" stop-color="#fe932a"/><stop offset="0.6875" stop-color="#fd8d27"/><stop offset="0.71875" stop-color="#fd8d27"/><stop offset="0.75" stop-color="#fd8a26"/><stop offset="0.78125" stop-color="#fd8a26"/><stop offset="0.8125" stop-color="#fd8a26"/><stop offset="0.84375" stop-color="#fe9029"/><stop offset="0.875" stop-color="#fe932a"/><stop offset="0.90625" stop-color="#fe9b2d"/><stop offset="0.9375" stop-color="#fea130"/><stop offset="0.96875" stop-color="#fea933"/><stop offset="1" stop-color="#fcb136"/></linearGradient>
<linearGradient id="g91"><stop offset="0" stop-color="#466be3"/><stop offset="0.03125" stop-color="#4773eb"/><stop offset="0.0625" stop-color="#458afc"/><stop offset="0.09375" stop-color="#38a5fb"/><stop offset="0.125" stop-color="#27bee9"/><stop offset="0.15625" stop-color="#1ecbda"/><stop offset="0.1875" stop-color="#18dbc5"/><stop offset="0.21875" stop-color="#2cf09e"/><stop offset="0.25" stop-color="#61fc6c"/><stop offset="0.28125" stop-color="#84ff51"/><stop offset="0.3125" stop-color="#9cfe40"/><stop offset="0.34375" stop-color="#b9f635"/><stop offset="0.375" stop-color="#d9e436"/><stop offset="0.40625" stop-color="#ecd13a"/><stop offset="0.4375" stop-color="#f6c33a"/><stop offset="0.46875" stop-color="#fbb838"/><stop offset="0.5" stop-color="#fdae35"/><stop offset="0.53125" stop-color="#fea933"/><stop offset="0.5625" stop-color="#fea431"/><stop offset="0.59375" stop-color="#fe9e2f"/><stop offset="0.625" stop-color="#fe992c"/><stop offset="0.65625" stop-color="#fe932a"/><stop offset="0.6875" stop-color="#fd8d27"/><stop offset="0.71875" stop-color="#fd8d27"/><stop offset="0.75" stop-color="#fd8a26"/><stop offset="0.78125" stop-color="#fd8a26"/><stop offset="0.8125" stop-color="#fd8a26"/><stop offset="0.84375" stop-color="#fe9029"/><stop offset="0.875" stop-color="#fe962b"/><stop offset="0.90625" stop-color="#fe9b2d"/><stop offset="0.9375" stop-color="#fea130"/><stop offset="0.96875" stop-color="#fea933"/><stop offset="1" stop-color="#fcb136"/></linearGradient>
<linearGradient id="g92"><stop offset="0" stop-color="#466be3"/><stop offset="0.03125" stop-color="#4776ee"/><stop offset="0.0625" stop-color="#458afc"/><stop offset="0.09375" stop-color="#38a5fb"/><stop offset="0.125" stop-color="#28bceb"/><stop offset="0.15625" stop-color="#1ecbda"/><stop offset="0.1875" stop-color="#18dbc5"/><stop offset="0.21875" stop-color="#2cf09e"/><stop offset="0.25" stop-color="#61fc6c"/><stop offset="0.28125" stop-color="#80ff53"/><stop offset="0.3125" stop-color="#9cfe40"/><stop offset="0.34375" stop-color="#b9f635"/><stop offset="0.375" stop-color="#d9e436"/><stop offset="0.40625" stop-color="#ecd13a"/><stop offset="0.4375" stop-color="#f6c33a"/><stop offset="0.46875" stop-color="#fbb838"/><stop offset="0.5" stop-color="#fdae35"/><stop offset="0.53125" stop-color="#fea933"/><stop offset="0.5625" stop-color="#fea431"/><stop offset="0.59375" stop-color="#fe9e2f"/><stop offset="0.625" stop-color="#fe992c"/><stop offset="0.65625" stop-color="#fe932a"/><stop offset="0.6875" stop-color="#fd8d27"/><stop offset="0.71875" stop-color="#fd8d27"/><stop offset="0.75" stop-color="#fd8a26"/><stop offset="0.78125" stop-color="#fd8a26"/><stop offset="0.8125" stop-color="#fd8d27"/><stop offset="0.84375" stop-color="#fe9029"/><stop offset="0.875" stop-color="#fe962b"/><stop offset="0.90625" stop-color="#fe9b2d"/><stop offset="0.9375" stop-color="#fea431"/><stop offset="0.96875" stop-color="#fea933"/><stop offset="1" stop-color="#fcb136"/></linearGradient>
<linearGradient id="g93"><stop offset="0" stop-color="#466be3"/><stop offset="0.03125" stop-color="#4776ee"/><stop offset="0.0625" stop-color="#458cfd"/><stop offset="0.09375" stop-color="#38a5fb"/><stop offset="0.125" stop-color="#28bceb"/><stop offset="0.15625" stop-color="#1fc9dd"/><stop offset="0.1875" stop-color="#18dbc5"/><stop offset="0.21875" stop-color="#2cf09e"/><stop offset="0.25" stop-color="#5dfc6f"/><stop offset="0.28125" stop-color="#80ff53"/><stop offset="0.3125" stop-color="#9cfe40"/><stop offset="0.34375" stop-color="#b9f635"/><stop offset="0.375" stop-color="#d9e436"/><stop offset="0.40625" stop-color="#ecd13a"/><stop offset="0.4375" stop-color="#f7c13a"/><stop offset="0.46875" stop-color="#fbb637"/><stop offset="0.5" stop-color="#fdae35"/><stop offset="0.53125" stop-color="#fea933"/><stop offset="0.5625" stop-color="#fea431"/><stop offset="0.59375" stop-color="#fe9e2f"/><stop offset="0.625" stop-color="#fe992c"/><stop offset="0.65625" stop-color="#fe932a"/><stop offset="0.6875" stop-color="#fd8d27"/><stop offset="0.71875" stop-color="#fd8d27"/><stop offset="0.75" stop-color="#fd8a26"/><stop offset="0.78125" stop-color="#fd8a26"/><stop offset="0.8125" stop-color="#fd8d27"/><stop offset="0.84375" stop-color="#fe9029"/><stop offset="0.875" stop-color="#fe962b"/><stop offset="0.90625" stop-color="#fe9b2d"/><stop offset="0.9375" stop-color="#fea431"/><stop offset="0.96875" stop-color="#fea933"/><stop offset="1" stop-color="#fcb136"/></linearGradient>
<linearGradient id="g94"><stop offset="0" stop-color="#476ee6"/><stop offset="0.03125" stop-color="#4776ee"/><stop offset="0.0625" stop-color="#458cfd"/><stop offset="0.09375" stop-color="#38a5fb"/><stop offset="0.125" stop-color="#28bceb"/><stop offset="0.15625" stop-color="#1fc9dd"/><stop offset="0.1875" stop-color="#18dbc5"/><stop offset="0.21875" stop-color="#2cf09e"/><stop offset="0.25" stop-color="#5dfc6f"/><stop offset="0.28125" stop-color="#80ff53"/><stop offset="0.3125" stop-color="#9cfe40"/><stop offset="0.34375" stop-color="#b9f635"/><stop offset="0.375" stop-color="#d9e436"/><stop offset="0.40625" stop-color="#eecf3a"/><stop offset="0.4375" stop-color="#f7c13a"/><stop offset="0.46875" stop-color="#fbb637"/><stop offset="0.5" stop-color="#fdae35"/><stop offset="0.53125" stop-color="#fea933"/><stop offset="0.5625" stop-color="#fea431"/><stop offset="0.59375" stop-color="#fe9e2f"/><stop offset="0.625" stop-color="#fe992c"/><stop offset="0.65625" stop-color="#fe932a"/><stop offset="0.6875" stop-color="#fe9029"/><stop offset="0.71875" stop-color="#fd8d27"/><stop offset="0.75" stop-color="#fd8a26"/><stop offset="0.78125" stop-color="#fd8a26"/><stop offset="0.8125" stop-color="#fd8d27"/><stop offset="0.84375" stop-color="#fe9029"/><stop offset="0.875" stop-color="#fe962b"/><stop offset="0.90625" stop-color="#fe9e2f"/><stop offset="0.9375" stop-color="#fea431"/><stop offset="0.96875" stop-color="#fea933"/><stop offset="1" stop-color="#fcb136"/></linearGradient>
<linearGradient id="g95"><stop offset="0" stop-color="#476ee6"/><stop offset="0.03125" stop-color="#4778f0"/><stop offset="0.0625" stop-color="#458cfd"/><stop offset="0.09375" stop-color="#38a5fb"/><stop offset="0.125" stop-color="#2ab9ee"/><stop offset="0.15625" stop-color="#1fc9dd"/><stop offset="0.1875" stop-color="#18dbc5"/><stop offset="0.21875" stop-color="#2cf09e"/><stop offset="0.25" stop-color="#5dfc6f"/><stop offset="0.28125" stop-color="#80ff53"/><stop offset="0.3125" stop-color="#99fe42"/><stop offset="0.34375" stop-color="#b9f635"/><stop offset="0.375" stop-color="#d9e436"/><stop offset="0.40625" stop-color="#eecf3a"/><stop offset="0.4375" stop-color="#f7c13a"/><stop offset="0.46875" stop-color="#fbb838"/><stop offset="0.5" stop-color="#fdae35"/><stop offset="0.53125" stop-color="#fea933"/><stop offset="0.5625" stop-color="#fea431"/><stop offset="0.59375" stop-color="#fe9e2f"/><stop offset="0.625" stop-color="#fe992c"/><stop offset="0.65625" stop-color="#fe932a"/><stop offset="0.6875" stop-color="#fe9029"/><stop offset="0.71875" stop-color="#fd8d27"/><stop offset="0.75" stop-color="#fd8a26"/><stop offset="0.78125" stop-color="#fd8a26"/><stop offset="0.8125" stop-color="#fd8d27"/><stop offset="0.84375" stop-color="#fe9029"/><stop offset="0.875" stop-color="#fe962b"/><stop offset="0.90625" stop-color="#fe9e2f"/><stop offset="0.9375" stop-color="#fea431"/><stop offset="0.96875" stop-color="#fea933"/><stop offset="1" stop-color="#fcb136"/></linearGradient>
<linearGradient id="g96"><stop offset="0" stop-color="#476ee6"/><stop offset="0.03125" stop-color="#4778f0"/><stop offset="0.0625" stop-color="#458cfd"/><stop offset="0.09375" stop-color="#3aa3fc"/><stop offset="0.125" stop-color="#2ab9ee"/><stop offset="0.15625" stop-color="#20c7df"/><stop offset="0.1875" stop-color="#18dbc5"/><stop offset="0.21875" stop-color="#2aefa1"/><stop offset="0.25" stop-color="#5dfc6f"/><stop offset="0.28125" stop-color="#80ff53"/><stop offset="0.3125" stop-color="#99fe42"/><stop offset="0.34375" stop-color="#b9f635"/><stop offset="0.375" stop-color="#dbe236"/><stop offset="0.40625" stop-color="#eecf3a"/><stop offset="0.4375" stop-color="#f7c13a"/><stop offset="0.46875" stop-color="#fbb838"/><stop offset="0.5" stop-color="#fdae35"/><stop offset="0.53125" stop-color="#fea933"/><stop offset="0.5625" stop-color="#fea431"/><stop offset="0.59375" stop-color="#fe9e2f"/><stop offset="0.625" stop-color="#fe992c"/><stop offset="0.65625" stop-color="#fe932a"/><stop offset="0.6875" stop-color="#fe9029"/><stop offset="0.71875" stop-color="#fd8d27"/><stop offset="0.75" stop-color="#fd8a26"/><stop offset="0.78125" stop-color="#fd8a26"/><stop offset="0.8125" stop-color="#fd8d27"/><stop offset="0.84375" stop-color="#fe932a"/><stop offset="0.875" stop-color="#fe992c"/><stop offset="0.90625" stop-color="#fe9e2f"/><stop offset="0.9375" stop-color="#fea431"/><stop offset="0.96875" stop-color="#fdac34"/><stop offset="1" stop-color="#fcb136"/></linearGradient>
<linearGradient id="g97"><stop offset="0" stop-color="#476ee6"/><stop offset="0.03125" stop-color="#477bf2"/><stop offset="0.0625" stop-color="#448ffe"/><stop offset="0.09375" stop-color="#3aa3fc"/><stop offset="0.125" stop-color="#2cb7f0"/><stop offset="0.15625" stop-color="#20c7df"/><stop offset="0.1875" stop-color="#18d9c8"/><stop offset="0.21875" stop-color="#2aefa1"/><stop offset="0.25" stop-color="#5dfc6f"/><stop offset="0.28125" stop-color="#80ff53"/><stop offset="0.3125" stop-color="#99fe42"/><stop offset="0.34375" stop-color="#b9f635"/><stop offset="0.375" stop-color="#dbe236"/><stop offset="0.40625" stop-color="#eecf3a"/><stop offset="0.4375" stop-color="#f6c33a"/><stop offset="0.46875" stop-color="#fbb838"/><stop offset="0.5" stop-color="#fcb136"/><stop offset="0.53125" stop-color="#fea933"/><stop offset="0.5625" stop-color="#fea431"/><stop offset="0.59375" stop-color="#fe9e2f"/><stop offset="0.625" stop-color="#fe992c"/><stop offset="0.65625" stop-color="#fe932a"/><stop offset="0.6875" stop-color="#fe9029"/><stop offset="0.71875" stop-color="#fd8d27"/><stop offset="0.75" stop-color="#fd8a26"/><stop offset="0.78125" stop-color="#fd8a26"/><stop offset="0.8125" stop-color="#fd8d27"/><stop offset="0.84375" stop-color="#fe932a"/><stop offset="0.875" stop-color="#fe992c"/><stop offset="0.90625" stop-color="#fe9e2f"/><stop offset="0.9375" stop-color="#fea431"/><stop offset="0.96875" stop-color="#fdac34"/><stop offset="1" stop-color="#fcb136"/></linearGradient>
<linearGradient id="g98"><stop offset="0" stop-color="#4771e9"/><stop offset="0.03125" stop-color="#467df4"/><stop offset="0.0625" stop-color="#448ffe"/><stop offset="0.09375" stop-color="#3aa3fc"/><stop offset="0.125" stop-color="#2cb7f0"/><stop offset="0.15625" stop-color="#20c7df"/><stop offset="0.1875" stop-color="#18d9c8"/><stop offset="0.21875" stop-color="#2aefa1"/><stop offset="0.25" stop-color="#5dfc6f"/><stop offset="0.28125" stop-color="#7dff56"/><stop offset="0.3125" stop-color="#99fe42"/><stop offset="0.34375" stop-color="#b9f635"/><stop offset="0.375" stop-color="#dbe236"/><stop offset="0.40625" stop-color="#ecd13a"/><stop offset="0.4375" stop-color="#f6c33a"/><stop offset="0.46875" stop-color="#fbb838"/><stop offset="0.5" stop-color="#fcb136"/><stop offset="0.53125" stop-color="#fea933"/><stop offset="0.5625" stop-color="#fea732"/><stop offset="0.59375" stop-color="#fea130"/><stop offset="0.625" stop-color="#fe992c"/><stop offset="0.65625" stop-color="#fe932a"/><stop offset="0.6875" stop-color="#fe9029"/><stop offset="0.71875" stop-color="#fd8d27"/><stop offset="0.75" stop-color="#fd8a26"/><stop offset="0.78125" stop-color="#fd8a26"/><stop offset="0.8125" stop-color="#fd8d27"/><stop offset="0.84375" stop-color="#fe932a"/><stop offset="0.875" stop-color="#fe992c"/><stop offset="0.90625" stop-color="#fe9e2f"/><stop offset="0.9375" stop-color="#fea431"/><stop offset="0.96875" stop-color="#fdac34"/><stop offset="1" stop-color="#fcb136"/></linearGradient>
<linearGradient id="g99"><stop offset="0" stop-color="#4771e9"/><stop offset="0.03125" stop-color="#467df4"/><stop offset="0.0625" stop-color="#448ffe"/><stop offset="0.09375" stop-color="#3aa3fc"/><stop offset="0.125" stop-color="#2eb4f2"/><stop offset="0.15625" stop-color="#22c5e2"/><stop offset="0.1875" stop-color="#18d9c8"/><stop offset="0.21875" stop-color="#2aefa1"/><stop offset="0.25" stop-color="#59fb73"/><stop offset="0.28125" stop-color="#7dff56"/><stop offset="0.3125" stop-color="#99fe42"/><stop offset="0.34375" stop-color="#b9f635"/><stop offset="0.375" stop-color="#d9e436"/><stop offset="0.40625" stop-color="#ecd13a"/><stop offset="0.4375" stop-color="#f6c33a"/><stop offset="0.46875" stop-color="#fbb838"/><stop offset="0.5" stop-color="#fcb136"/><stop offset="0.53125" stop-color="#fdac34"/><stop offset="0.5625" stop-color="#fea732"/><stop offset="0.59375" stop-color="#fea130"/><stop offset="0.625" stop-color="#fe9b2d"/><stop offset="0.65625" stop-color="#fe962b"/><stop offset="0.6875" stop-color="#fe9029"/><stop offset="0.71875" stop-color="#fd8d27"/><stop offset="0.75" stop-color="#fd8a26"/><stop offset="0.78125" stop-color="#fd8d27"/><stop offset="0.8125" stop-color="#fd8d27"/><stop offset="0.84375" stop-color="#fe932a"/><stop offset="0.875" stop-color="#fe992c"/><stop offset="0.90625" stop-color="#fe9e2f"/><stop offset="0.9375" stop-color="#fea732"/><stop offset="0.96875" stop-color="#fdac34"/><stop offset="1" stop-color="#fcb136"/></linearGradient>
<linearGradient id="g100"><stop offset="0" stop-color="#4771e9"/><stop offset="0.03125" stop-color="#4680f6"/><stop offset="0.0625" stop-color="#4391fe"/><stop offset="0.09375" stop-color="#3aa3fc"/><stop offset="0.125" stop-color="#2eb4f2"/><stop offset="0.15625" stop-color="#22c5e2"/><stop offset="0.1875" stop-color="#18d9c8"/><stop offset="0.21875" stop-color="#2aefa1"/><stop offset="0.25" stop-color="#59fb73"/><stop offset="0.28125" stop-color="#7dff56"/><stop offset="0.3125" stop-color="#99fe42"/><stop offset="0.34375" stop-color="#b9f635"/><stop offset="0.375" stop-color="#d9e436"/><stop offset="0.40625" stop-color="#ecd13a"/><stop offset="0.4375" stop-color="#f5c53a"/><stop offset="0.46875" stop-color="#faba39"/><stop offset="0.5" stop-color="#fcb136"/><stop offset="0.53125" stop-color="#fdac34"/><stop offset="0.5625" stop-color="#fea732"/><stop offset="0.59375" stop-color="#fea130"/><stop offset="0.625" stop-color="#fe9b2d"/><stop offset="0.65625" stop-color="#fe962b"/><stop offset="0.6875" stop-color="#fe9029"/><stop offset="0.71875" stop-color="#fd8d27"/><stop offset="0.75" stop-color="#fd8a26"/><stop offset="0.78125" stop-color="#fd8d27"/><stop offset="0.8125" stop-color="#fe9029"/><stop offset="0.84375" stop-color="#fe932a"/><stop offset="0.875" stop-color="#fe992c"/><stop offset="0.90625" stop-color="#fe9e2f"/><stop offset="0.9375" stop-color="#fea732"/><stop offset="0.96875" stop-color="#fdac34"/><stop offset="1" stop-color="#fdae35"/></linearGradient>
<linearGradient id="g101"><stop offset="0" stop-color="#4773eb"/><stop offset="0.03125" stop-color="#4682f8"/><stop offset="0.0625" stop-color="#4391fe"/><stop offset="0.09375" stop-color="#3aa3fc"/><stop offset="0.125" stop-color="#2eb4f2"/><stop offset="0.15625" stop-color="#22c5e2"/><stop offset="0.1875" stop-color="#18d9c8"/><stop offset="0.21875" stop-color="#2aefa1"/><stop offset="0.25" stop-color="#59fb73"/><stop offset="0.28125" stop-color="#79fe59"/><stop offset="0.3125" stop-color="#99fe42"/><stop offset="0.34375" stop-color="#b9f635"/><stop offset="0.375" stop-color="#d9e436"/><stop offset="0.40625" stop-color="#ecd13a"/><stop offset="0.4375" stop-color="#f5c53a"/><stop offset="0.46875" stop-color="#faba39"/><stop offset="0.5" stop-color="#fcb136"/><stop offset="0.53125" stop-color="#fdac34"/><stop offset="0.5625" stop-color="#fea732"/><stop offset="0.59375" stop-color="#fea130"/><stop offset="0.625" stop-color="#fe9b2d"/><stop offset="0.65625" stop-color="#fe962b"/><stop offset="0.6875" stop-color="#fe9029"/><stop offset="0.71875" stop-color="#fd8d27"/><stop offset="0.75" stop-color="#fd8a26"/><stop offset="0.78125" stop-color="#fd8d27"/><stop offset="0.8125" stop-color="#fe9029"/><stop offset="0.84375" stop-color="#fe932a"/><stop offset="0.875" stop-color="#fe992c"/><stop offset="0.90625" stop-color="#fe9e2f"/><stop offset="0.9375" stop-color="#fea732"/><stop offset="0.96875" stop-color="#fdac34"/><stop offset="1" stop-color="#fdae35"/></linearGradient>
<linearGradient id="g102"><stop offset="0" stop-color="#4773eb"/><stop offset="0.03125" stop-color="#4682f8"/><stop offset="0.0625" stop-color="#4294ff"/><stop offset="0.09375" stop-color="#3aa3fc"/><stop offset="0.125" stop-color="#2eb4f2"/><stop offset="0.15625" stop-color="#22c5e2"/><stop offset="0.1875" stop-color="#18d9c8"/><stop offset="0.21875" stop-color="#2aefa1"/><stop offset="0.25" stop-color="#55fa76"/><stop offset="0.28125" stop-color="#79fe59"/><stop offset="0.3125" stop-color="#96fe44"/><stop offset="0.34375" stop-color="#b9f635"/><stop offset="0.375" stop-color="#d9e436"/><stop offset="0.40625" stop-color="#ebd339"/><stop offset="0.4375" stop-color="#f4c73a"/><stop offset="0.46875" stop-color="#f9bc39"/><stop offset="0.5" stop-color="#fcb336"/><stop offset="0.53125" stop-color="#fdac34"/><stop offset="0.5625" stop-color="#fea732"/><stop offset="0.59375" stop-color="#fea130"/><stop offset="0.625" stop-color="#fe9b2d"/><stop offset="0.65625" stop-color="#fe962b"/><stop offset="0.6875" stop-color="#fe9029"/><stop offset="0.71875" stop-color="#fd8d27"/><stop offset="0.75" stop-color="#fd8a26"/><stop offset="0.78125" stop-color="#fd8d27"/><stop offset="0.8125" stop-color="#fe9029"/><stop offset="0.84375" stop-color="#fe932a"/><stop offset="0.875" stop-color="#fe992c"/><stop offset="0.90625" stop-color="#fe9e2f"/><stop offset="0.9375" stop-color="#fea732"/><stop offset="0.96875" stop-color="#fdac34"/><stop offset="1" stop-color="#fdae35"/></linearGradient>
<linearGradient id="g103"><stop offset="0" stop-color="#4773eb"/><stop offset="0.03125" stop-color="#4685fa"/><stop offset="0.0625" stop-color="#4294ff"/><stop offset="0.09375" stop-color="#38a5fb"/><stop offset="0.125" stop-color="#2eb4f2"/><stop offset="0.15625" stop-color="#22c5e2"/><stop offset="0.1875" stop-color="#18dbc5"/><stop offset="0.21875" stop-color="#2aefa1"/><stop offset="0.25" stop-color="#55fa76"/><stop offset="0.28125" stop-color="#79fe59"/><stop offset="0.3125" stop-color="#96fe44"/><stop offset="0.34375" stop-color="#b7f735"/><stop offset="0.375" stop-color="#d7e535"/><stop offset="0.40625" stop-color="#e9d539"/><stop offset="0.4375" stop-color="#f4c73a"/><stop offset="0.46875" stop-color="#f9bc39"/><stop offset="0.5" stop-color="#fcb336"/><stop offset="0.53125" stop-color="#fdac34"/><stop offset="0.5625" stop-color="#fea732"/><stop offset="0.59375" stop-color="#fea130"/><stop offset="0.625" stop-color="#fe9b2d"/><stop offset="0.65625" stop-color="#fe962b"/><stop offset="0.6875" stop-color="#fe9029"/><stop offset="0.71875" stop-color="#fd8d27"/><stop offset="0.75" stop-color="#fd8a26"/><stop offset="0.78125" stop-color="#fd8d27"/><stop offset="0.8125" stop-color="#fe9029"/><stop offset="0.84375" stop-color="#fe932a"/><stop offset="0.875" stop-color="#fe992c"/><stop offset="0.90625" stop-color="#fe9e2f"/><stop offset="0.9375" stop-color="#fea732"/><stop offset="0.96875" stop-color="#fdac34"/><stop offset="1" stop-color="#fdae35"/></linearGradient>
<linearGradient id="g104"><stop offset="0" stop-color="#4776ee"/><stop offset="0.03125" stop-color="#4687fb"/><stop offset="0.0625" stop-color="#4196ff"/><stop offset="0.09375" stop-color="#38a5fb"/><stop offset="0.125" stop-color="#2eb4f2"/><stop offset="0.15625" stop-color="#20c7df"/><stop offset="0.1875" stop-color="#18dbc5"/><stop offset="0.21875" stop-color="#27eea4"/><stop offset="0.25" stop-color="#52fa7a"/><stop offset="0.28125" stop-color="#75fe5c"/><stop offset="0.3125" stop-color="#92ff47"/><stop offset="0.34375" stop-color="#b7f735"/><stop offset="0.375" stop-color="#d7e535"/><stop offset="0.40625" stop-color="#e9d539"/><stop offset="0.4375" stop-color="#f2c93a"/><stop offset="0.46875" stop-color="#f8be39"/><stop offset="0.5" stop-color="#fcb336"/><stop offset="0.53125" stop-color="#fdac34"/><stop offset="0.5625" stop-color="#fea732"/><stop offset="0.59375" stop-color="#fea431"/><stop offset="0.625" stop-color="#fe9e2f"/><stop offset="0.65625" stop-color="#fe962b"/><stop offset="0.6875" stop-color="#fe9029"/><stop offset="0.71875" stop-color="#fd8d27"/><stop offset="0.75" stop-color="#fd8a26"/><stop offset="0.78125" stop-color="#fd8d27"/><stop offset="0.8125" stop-color="#fe9029"/><stop offset="0.84375" stop-color="#fe932a"/><stop offset="0.875" stop-color="#fe992c"/><stop offset="0.90625" stop-color="#fe9e2f"/><stop offset="0.9375" stop-color="#fea732"/><stop offset="0.96875" stop-color="#fea933"/><stop offset="1" stop-color="#fdae35"/></linearGradient>
<linearGradient id="g105"><stop offset="0" stop-color="#4776ee"/><stop offset="0.03125" stop-color="#4687fb"/><stop offset="0.0625" stop-color="#4099ff"/><stop offset="0.09375" stop-color="#38a5fb"/><stop offset="0.125" stop-color="#2cb7f0"/><stop offset="0.15625" stop-color="#20c7df"/><stop offset="0.1875" stop-color="#18dbc5"/><stop offset="0.21875" stop-color="#27eea4"/><stop offset="0.25" stop-color="#52fa7a"/><stop offset="0.28125" stop-color="#71fe5f"/><stop offset="0.3125" stop-color="#92ff47"/><stop offset="0.34375" stop-color="#b4f836"/><stop offset="0.375" stop-color="#d4e735"/><stop offset="0.40625" stop-color="#e7d739"/><stop offset="0.4375" stop-color="#f1cb3a"/><stop offset="0.46875" stop-color="#f8be39"/><stop offset="0.5" stop-color="#fbb637"/><stop offset="0.53125" stop-color="#fdae35"/><stop offset="0.5625" stop-color="#fea732"/><stop offset="0.59375" stop-color="#fea431"/><stop offset="0.625" stop-color="#fe9e2f"/><stop offset="0.65625" stop-color="#fe992c"/><stop offset="0.6875" stop-color="#fe9029"/><stop offset="0.71875" stop-color="#fd8d27"/><stop offset="0.75" stop-color="#fd8a26"/><stop offset="0.78125" stop-color="#fd8d27"/><stop offset="0.8125" stop-color="#fe9029"/><stop offset="0.84375" stop-color="#fe932a"/><stop offset="0.875" stop-color="#fe992c"/><stop offset="0.90625" stop-color="#fe9e2f"/><stop offset="0.9375" stop-color="#fea732"/><stop offset="0.96875" stop-color="#fea933"/><stop offset="1" stop-color="#fdae35"/></linearGradient>
<linearGradient id="g106"><stop offset="0" stop-color="#4776ee"/><stop offset="0.03125" stop-color="#458afc"/><stop offset="0.0625" stop-color="#4099ff"/><stop offset="0.09375" stop-color="#37a8fa"/><stop offset="0.125" stop-color="#2cb7f0"/><stop offset="0.15625" stop-color="#20c7df"/><stop offset="0.1875" stop-color="#18dbc5"/><stop offset="0.21875" stop-color="#27eea4"/><stop offset="0.25" stop-color="#4ef97d"/><stop offset="0.28125" stop-color="#71fe5f"/><stop offset="0.3125" stop-color="#8fff49"/><stop offset="0.34375" stop-color="#b1f936"/><stop offset="0.375" stop-color="#d2e935"/><stop offset="0.40625" stop-color="#e5d938"/><stop offset="0.4375" stop-color="#efcd3a"/><stop offset="0.46875" stop-color="#f7c13a"/><stop offset="0.5" stop-color="#fbb637"/><stop offset="0.53125" stop-color="#fdae35"/><stop offset="0.5625" stop-color="#fea933"/><stop offset="0.59375" stop-color="#fea431"/><stop offset="0.625" stop-color="#fe9e2f"/><stop offset="0.65625" stop-color="#fe992c"/><stop offset="0.6875" stop-color="#fe932a"/><stop offset="0.71875" stop-color="#fd8d27"/><stop offset="0.75" stop-color="#fd8a26"/><stop offset="0.78125" stop-color="#fd8d27"/><stop offset="0.8125" stop-color="#fe9029"/><stop offset="0.84375" stop-color="#fe932a"/><stop offset="0.875" stop-color="#fe992c"/><stop offset="0.90625" stop-color="#fe9e2f"/><stop offset="0.9375" stop-color="#fea431"/><stop offset="0.96875" stop-color="#fea933"/><stop offset="1" stop-color="#fdac34"/></linearGradient>
<linearGradient id="g107"><stop offset="0" stop-color="#4778f0"/><stop offset="0.03125" stop-color="#458cfd"/><stop offset="0.0625" stop-color="#3e9bfe"/><stop offset="0.09375" stop-color="#37a8fa"/><stop offset="0.125" stop-color="#2cb7f0"/><stop offset="0.15625" stop-color="#1fc9dd"/><stop offset="0.1875" stop-color="#18ddc2"/><stop offset="0.21875" stop-color="#27eea4"/><stop offset="0.25" stop-color="#4af880"/><stop offset="0.28125" stop-color="#6dfe62"/><stop offset="0.3125" stop-color="#8bff4b"/><stop offset="0.34375" stop-color="#affa37"/><stop offset="0.375" stop-color="#d0ea34"/><stop offset="0.40625" stop-color="#e3db38"/><stop offset="0.4375" stop-color="#eecf3a"/><stop offset="0.46875" stop-color="#f6c33a"/><stop offset="0.5" stop-color="#fbb838"/><stop offset="0.53125" stop-color="#fdae35"/><stop offset="0.5625" stop-color="#fea933"/><stop offset="0.59375" stop-color="#fea431"/><stop offset="0.625" stop-color="#fea130"/><stop offset="0.65625" stop-color="#fe992c"/><stop offset="0.6875" stop-color="#fe932a"/><stop offset="0.71875" stop-color="#fd8d27"/><stop offset="0.75" stop-color="#fd8a26"/><stop offset="0.78125" stop-color="#fd8d27"/><stop offset="0.8125" stop-color="#fd8d27"/><stop offset="0.84375" stop-color="#fe932a"/><stop offset="0.875" stop-color="#fe992c"/><stop offset="0.90625" stop-color="#fe9e2f"/><stop offset="0.9375" stop-color="#fea431"/><stop offset="0.96875" stop-color="#fea933"/><stop offset="1" stop-color="#fdac34"/></linearGradient>
<linearGradient id="g108"><stop offset="0" stop-color="#4778f0"/><stop offset="0.03125" stop-color="#458cfd"/><stop offset="0.0625" stop-color="#3e9bfe"/><stop offset="0.09375" stop-color="#35abf8"/><stop offset="0.125" stop-color="#2ab9ee"/><stop offset="0.15625" stop-color="#1fc9dd"/><stop offset="0.1875" stop-color="#18ddc2"/><stop offset="0.21875" stop-color="#27eea4"/><stop offset="0.25" stop-color="#4af880"/><stop offset="0.28125" stop-color="#69fd66"/><stop offset="0.3125" stop-color="#88ff4e"/><stop offset="0.34375" stop-color="#acfb38"/><stop offset="0.375" stop-color="#cbed34"/><stop offset="0.40625" stop-color="#dfdf37"/><stop offset="0.4375" stop-color="#ecd13a"/><stop offset="0.46875" stop-color="#f5c53a"/><stop offset="0.5" stop-color="#fbb838"/><stop offset="0.53125" stop-color="#fcb136"/><stop offset="0.5625" stop-color="#fea933"/><stop offset="0.59375" stop-color="#fea732"/><stop offset="0.625" stop-color="#fea130"/><stop offset="0.65625" stop-color="#fe992c"/><stop offset="0.6875" stop-color="#fe932a"/><stop offset="0.71875" stop-color="#fd8d27"/><stop offset="0.75" stop-color="#fd8a26"/><stop offset="0.78125" stop-color="#fd8d27"/><stop offset="0.8125" stop-color="#fd8d27"/><stop offset="0.84375" stop-color="#fe932a"/><stop offset="0.875" stop-color="#fe992c"/><stop offset="0.90625" stop-color="#fe9e2f"/><stop offset="0.9375" stop-color="#fea431"/><stop offset="0.96875" stop-color="#fea933"/><stop offset="1" stop-color="#fdac34"/></linearGradient>
<linearGradient id="g109"><stop offset="0" stop-color="#4778f0"/><stop offset="0.03125" stop-color="#458cfd"/><stop offset="0.0625" stop-color="#3d9efe"/><stop offset="0.09375" stop-color="#35abf8"/><stop offset="0.125" stop-color="#2ab9ee"/><stop offset="0.15625" stop-color="#1ecbda"/><stop offset="0.1875" stop-color="#18ddc2"/><stop offset="0.21875" stop-color="#25eca7"/><stop offset="0.25" stop-color="#46f884"/><stop offset="0.28125" stop-color="#65fd69"/><stop offset="0.3125" stop-color="#84ff51"/><stop offset="0.34375" stop-color="#a9fb39"/><stop offset="0.375" stop-color="#c8ef34"/><stop offset="0.40625" stop-color="#dde037"/><stop offset="0.4375" stop-color="#ebd339"/><stop offset="0.46875" stop-color="#f4c73a"/><stop offset="0.5" stop-color="#faba39"/><stop offset="0.53125" stop-color="#fcb136"/><stop offset="0.5625" stop-color="#fdac34"/><stop offset="0.59375" stop-color="#fea732"/><stop offset="0.625" stop-color="#fea130"/><stop offset="0.65625" stop-color="#fe9b2d"/><stop offset="0.6875" stop-color="#fe932a"/><stop offset="0.71875" stop-color="#fd8d27"/><stop offset="0.75" stop-color="#fd8d27"/><stop offset="0.78125" stop-color="#fd8d27"/><stop offset="0.8125" stop-color="#fd8d27"/><stop offset="0.84375" stop-color="#fe932a"/><stop offset="0.875" stop-color="#fe992c"/><stop offset="0.90625" stop-color="#fe9e2f"/><stop offset="0.9375" stop-color="#fea431"/><stop offset="0.96875" stop-color="#fea933"/><stop offset="1" stop-color="#fdac34"/></linearGradient>
<linearGradient id="g110"><stop offset="0" stop-color="#4778f0"/><stop offset="0.03125" stop-color="#448ffe"/><stop offset="0.0625" stop-color="#3d9efe"/><stop offset="0.09375" stop-color="#33adf7"/><stop offset="0.125" stop-color="#2ab9ee"/><stop offset="0.15625" stop-color="#1ecbda"/><stop offset="0.1875" stop-color="#18ddc2"/><stop offset="0.21875" stop-color="#25eca7"/><stop offset="0.25" stop-color="#43f787"/><stop offset="0.28125" stop-color="#61fc6c"/><stop offset="0.3125" stop-color="#80ff53"/><stop offset="0.34375" stop-color="#a4fc3c"/><stop offset="0.375" stop-color="#c3f134"/><stop offset="0.40625" stop-color="#d9e436"/><stop offset="0.4375" stop-color="#e7d739"/><stop offset="0.46875" stop-color="#f2c93a"/><stop offset="0.5" stop-color="#f9bc39"/><stop offset="0.53125" stop-color="#fcb136"/><stop offset="0.5625" stop-color="#fdac34"/><stop offset="0.59375" stop-color="#fea732"/><stop offset="0.625" stop-color="#fea130"/><stop offset="0.65625" stop-color="#fe9b2d"/><stop offset="0.6875" stop-color="#fe932a"/><stop offset="0.71875" stop-color="#fe9029"/><stop offset="0.75" stop-color="#fd8d27"/><stop offset="0.78125" stop-color="#fd8d27"/><stop offset="0.8125" stop-color="#fd8d27"/><stop offset="0.84375" stop-color="#fe932a"/><stop offset="0.875" stop-color="#fe992c"/><stop offset="0.90625" stop-color="#fe9e2f"/><stop offset="0.9375" stop-color="#fea431"/><stop offset="0.96875" stop-color="#fea732"/><stop offset="1" stop-color="#fdac34"/></linearGradient>
<linearGradient id="g111"><stop offset="0" stop-color="#477bf2"/><stop offset="0.03125" stop-color="#448ffe"/><stop offset="0.0625" stop-color="#3d9efe"/><stop offset="0.09375" stop-color="#33adf7"/><stop offset="0.125" stop-color="#28bceb"/><stop offset="0.15625" stop-color="#1ecbda"/><stop offset="0.1875" stop-color="#18ddc2"/><stop offset="0.21875" stop-color="#22ebaa"/><stop offset="0.25" stop-color="#3ff68a"/><stop offset="0.28125" stop-color="#5dfc6f"/><stop offset="0.3125" stop-color="#7dff56"/><stop offset="0.34375" stop-color="#a1fd3d"/><stop offset="0.375" stop-color="#bef434"/><stop offset="0.40625" stop-color="#d4e735"/><stop offset="0.4375" stop-color="#e5d938"/><stop offset="0.46875" stop-color="#f1cb3a"/><stop offset="0.5" stop-color="#f9bc39"/><stop offset="0.53125" stop-color="#fcb336"/><stop offset="0.5625" stop-color="#fdac34"/><stop offset="0.59375" stop-color="#fea933"/><stop offset="0.625" stop-color="#fea431"/><stop offset="0.65625" stop-color="#fe9b2d"/><stop offset="0.6875" stop-color="#fe962b"/><stop offset="0.71875" stop-color="#fe9029"/><stop offset="0.75" stop-color="#fd8d27"/><stop offset="0.78125" stop-color="#fd8d27"/><stop offset="0.8125" stop-color="#fd8d27"/><stop offset="0.84375" stop-color="#fe932a"/><stop offset="0.875" stop-color="#fe992c"/><stop offset="0.90625" stop-color="#fe9e2f"/><stop offset="0.9375" stop-color="#fea431"/><stop offset="0.96875" stop-color="#fea732"/><stop offset="1" stop-color="#fea933"/></linearGradient>
<linearGradient id="g112"><stop offset="0" stop-color="#477bf2"/><stop offset="0.03125" stop-color="#448ffe"/><stop offset="0.0625" stop-color="#3d9efe"/><stop offset="0.09375" stop-color="#33adf7"/><stop offset="0.125" stop-color="#28bceb"/><stop offset="0.15625" stop-color="#1ecbda"/><stop offset="0.1875" stop-color="#18ddc2"/><stop offset="0.21875" stop-color="#22ebaa"/><stop offset="0.25" stop-color="#3cf58e"/><stop offset="0.28125" stop-color="#55fa76"/><stop offset="0.3125" stop-color="#75fe5c"/><stop offset="0.34375" stop-color="#9cfe40"/><stop offset="0.375" stop-color="#b9f635"/><stop offset="0.40625" stop-color="#d0ea34"/><stop offset="0.4375" stop-color="#e1dd37"/><stop offset="0.46875" stop-color="#efcd3a"/><stop offset="0.5" stop-color="#f8be39"/><stop offset="0.53125" stop-color="#fbb637"/><stop offset="0.5625" stop-color="#fdae35"/><stop offset="0.59375" stop-color="#fea933"/><stop offset="0.625" stop-color="#fea431"/><stop offset="0.65625" stop-color="#fe9b2d"/><stop offset="0.6875" stop-color="#fe962b"/><stop offset="0.71875" stop-color="#fe9029"/><stop offset="0.75" stop-color="#fd8d27"/><stop offset="0.78125" stop-color="#fd8d27"/><stop offset="0.8125" stop-color="#fd8d27"/><stop offset="0.84375" stop-color="#fe932a"/><stop offset="0.875" stop-color="#fe992c"/><stop offset="0.90625" stop-color="#fe9e2f"/><stop offset="0.9375" stop-color="#fea130"/><stop offset="0.96875" stop-color="#fea732"/><stop offset="1" stop-color="#fea933"/></linearGradient>
<linearGradient id="g113"><stop offset="0" stop-color="#477bf2"/><stop offset="0.03125" stop-color="#448ffe"/><stop offset="0.0625" stop-color="#3d9efe"/><stop offset="0.09375" stop-color="#33adf7"/><stop offset="0.125" stop-color="#28bceb"/><stop offset="0.15625" stop-color="#1ecbda"/><stop offset="0.1875" stop-color="#18ddc2"/><stop offset="0.21875" stop-color="#20eaac"/><stop offset="0.25" stop-color="#38f491"/><stop offset="0.28125" stop-color="#52fa7a"/><stop offset="0.3125" stop-color="#71fe5f"/><stop offset="0.34375" stop-color="#96fe44"/><stop offset="0.375" stop-color="#b4f836"/><stop offset="0.40625" stop-color="#c8ef34"/><stop offset="0.4375" stop-color="#dde037"/><stop offset="0.46875" stop-color="#ecd13a"/><stop offset="0.5" stop-color="#f7c13a"/><stop offset="0.53125" stop-color="#fbb637"/><stop offset="0.5625" stop-color="#fdae35"/><stop offset="0.59375" stop-color="#fea933"/><stop offset="0.625" stop-color="#fea431"/><stop offset="0.65625" stop-color="#fe9e2f"/><stop offset="0.6875" stop-color="#fe962b"/><stop offset="0.71875" stop-color="#fe9029"/><stop offset="0.75" stop-color="#fd8d27"/><stop offset="0.78125" stop-color="#fd8d27"/><stop offset="0.8125" stop-color="#fd8d27"/><stop offset="0.84375" stop-color="#fe932a"/><stop offset="0.875" stop-color="#fe992c"/><stop offset="0.90625" stop-color="#fe9e2f"/><stop offset="0.9375" stop-color="#fea130"/><stop offset="0.96875" stop-color="#fea732"/><stop offset="1" stop-color="#fea933"/></linearGradient>
<linearGradient id="g114"><stop offset="0" stop-color="#477bf2"/><stop offset="0.03125" stop-color="#448ffe"/><stop offset="0.0625" stop-color="#3d9efe"/><stop offset="0.09375" stop-color="#33adf7"/><stop offset="0.125" stop-color="#27bee9"/><stop offset="0.15625" stop-color="#1ecbda"/><stop offset="0.1875" stop-color="#18dbc5"/><stop offset="0.21875" stop-color="#1fe9af"/><stop offset="0.25" stop-color="#35f394"/><stop offset="0.28125" stop-color="#4ef97d"/><stop offset="0.3125" stop-color="#69fd66"/><stop offset="0.34375" stop-color="#8fff49"/><stop offset="0.375" stop-color="#acfb38"/><stop offset="0.40625" stop-color="#c3f134"/><stop offset="0.4375" stop-color="#d7e535"/><stop offset="0.46875" stop-color="#e9d539"/><stop offset="0.5" stop-color="#f6c33a"/><stop offset="0.53125" stop-color="#fbb838"/><stop offset="0.5625" stop-color="#fcb136"/><stop offset="0.59375" stop-color="#fea933"/><stop offset="0.625" stop-color="#fea431"/><stop offset="0.65625" stop-color="#fe9e2f"/><stop offset="0.6875" stop-color="#fe992c"/><stop offset="0.71875" stop-color="#fe932a"/><stop offset="0.75" stop-color="#fd8d27"/><stop offset="0.78125" stop-color="#fd8d27"/><stop offset="0.8125" stop-color="#fe9029"/><stop offset="0.84375" stop-color="#fe932a"/><stop offset="0.875" stop-color="#fe992c"/><stop offset="0.90625" stop-color="#fe9b2d"/><stop offset="0.9375" stop-color="#fea130"/><stop offset="0.96875" stop-color="#fea431"/><stop offset="1" stop-color="#fea933"/></linearGradient>
<linearGradient id="g115"><stop offset="0" stop-color="#477bf2"/><stop offset="0.03125" stop-color="#448ffe"/><stop offset="0.0625" stop-color="#3d9efe"/><stop offset="0.09375" stop-color="#31aff5"/><stop offset="0.125" stop-color="#27bee9"/><stop offset="0.15625" stop-color="#1ecbda"/><stop offset="0.1875" stop-color="#18dbc5"/><stop offset="0.21875" stop-color="#1fe9af"/><stop offset="0.25" stop-color="#32f298"/><stop offset="0.28125" stop-color="#46f884"/><stop offset="0.3125" stop-color="#61fc6c"/><stop offset="0.34375" stop-color="#84ff51"/><stop offset="0.375" stop-color="#a7fc3a"/><stop offset="0.40625" stop-color="#bcf534"/><stop offset="0.4375" stop-color="#d2e935"/><stop offset="0.46875" stop-color="#e7d739"/><stop offset="0.5" stop-color="#f4c73a"/><stop offset="0.53125" stop-color="#faba39"/><stop offset="0.5625" stop-color="#fcb136"/><stop offset="0.59375" stop-color="#fdac34"/><stop offset="0.625" stop-color="#fea431"/><stop offset="0.65625" stop-color="#fe9e2f"/><stop offset="0.6875" stop-color="#fe992c"/><stop offset="0.71875" stop-color="#fe932a"/><stop offset="0.75" stop-color="#fe9029"/><stop offset="0.78125" stop-color="#fd8d27"/><stop offset="0.8125" stop-color="#fe9029"/><stop offset="0.84375" stop-color="#fe932a"/><stop offset="0.875" stop-color="#fe992c"/><stop offset="0.90625" stop-color="#fe9b2d"/><stop offset="0.9375" stop-color="#fea130"/><stop offset="0.96875" stop-color="#fea431"/><stop offset="1" stop-color="#fea933"/></linearGradient>
<linearGradient id="g116"><stop offset="0" stop-color="#477bf2"/><stop offset="0.03125" stop-color="#448ffe"/><stop offset="0.0625" stop-color="#3d9efe"/><stop offset="0.09375" stop-color="#31aff5"/><stop offset="0.125" stop-color="#27bee9"/><stop offset="0.15625" stop-color="#1ecbda"/><stop offset="0.1875" stop-color="#18d9c8"/><stop offset="0.21875" stop-color="#1de7b2"/><stop offset="0.25" stop-color="#2ff19b"/><stop offset="0.28125" stop-color="#43f787"/><stop offset="0.3125" stop-color="#59fb73"/><stop offset="0.34375" stop-color="#7dff56"/><stop offset="0.375" stop-color="#9ffd3f"/><stop offset="0.40625" stop-color="#b7f735"/><stop offset="0.4375" stop-color="#cdec34"/><stop offset="0.46875" stop-color="#e3db38"/><stop offset="0.5" stop-color="#f2c93a"/><stop offset="0.53125" stop-color="#f9bc39"/><stop offset="0.5625" stop-color="#fcb336"/><stop offset="0.59375" stop-color="#fdac34"/><stop offset="0.625" stop-color="#fea431"/><stop offset="0.65625" stop-color="#fe9e2f"/><stop offset="0.6875" stop-color="#fe992c"/><stop offset="0.71875" stop-color="#fe932a"/><stop offset="0.75" stop-color="#fe9029"/><stop offset="0.78125" stop-color="#fd8d27"/><stop offset="0.8125" stop-color="#fe9029"/><stop offset="0.84375" stop-color="#fe932a"/><stop offset="0.875" stop-color="#fe962b"/><stop offset="0.90625" stop-color="#fe9b2d"/><stop offset="0.9375" stop-color="#fe9e2f"/><stop offset="0.96875" stop-color="#fea431"/><stop offset="1" stop-color="#fea933"/></linearGradient>
<linearGradient id="g117"><stop offset="0" stop-color="#477bf2"/><stop offset="0.03125" stop-color="#458cfd"/><stop offset="0.0625" stop-color="#3d9efe"/><stop offset="0.09375" stop-color="#31aff5"/><stop offset="0.125" stop-color="#27bee9"/><stop offset="0.15625" stop-color="#1ecbda"/><stop offset="0.1875" stop-color="#18d9c8"/><stop offset="0.21875" stop-color="#1ce6b4"/><stop offset="0.25" stop-color="#2cf09e"/><stop offset="0.28125" stop-color="#3cf58e"/><stop offset="0.3125" stop-color="#52fa7a"/><stop offset="0.34375" stop-color="#75fe5c"/><stop offset="0.375" stop-color="#96fe44"/><stop offset="0.40625" stop-color="#affa37"/><stop offset="0.4375" stop-color="#c6f034"/><stop offset="0.46875" stop-color="#dfdf37"/><stop offset="0.5" stop-color="#f1cb3a"/><stop offset="0.53125" stop-color="#f8be39"/><stop offset="0.5625" stop-color="#fbb637"/><stop offset="0.59375" stop-color="#fdac34"/><stop offset="0.625" stop-color="#fea732"/><stop offset="0.65625" stop-color="#fea130"/><stop offset="0.6875" stop-color="#fe9b2d"/><stop offset="0.71875" stop-color="#fe962b"/><stop offset="0.75" stop-color="#fe9029"/><stop offset="0.78125" stop-color="#fe9029"/><stop offset="0.8125" stop-color="#fe9029"/><stop offset="0.84375" stop-color="#fe932a"/><stop offset="0.875" stop-color="#fe962b"/><stop offset="0.90625" stop-color="#fe9b2d"/><stop offset="0.9375" stop-color="#fe9e2f"/><stop offset="0.96875" stop-color="#fea431"/><stop offset="1" stop-color="#fea732"/></linearGradient>
<linearGradient id="g118"><stop offset="0" stop-color="#477bf2"/><stop offset="0.03125" stop-color="#458cfd"/><stop offset="0.0625" stop-color="#3d9efe"/><stop offset="0.09375" stop-color="#33adf7"/><stop offset="0.125" stop-color="#27bee9"/><stop offset="0.15625" stop-color="#1ecbda"/><stop offset="0.1875" stop-color="#18d7ca"/><stop offset="0.21875" stop-color="#1ae4b6"/><stop offset="0.25" stop-color="#2aefa1"/><stop offset="0.28125" stop-color="#38f491"/><stop offset="0.3125" stop-color="#4af880"/><stop offset="0.34375" stop-color="#69fd66"/><stop offset="0.375" stop-color="#8fff49"/><stop offset="0.40625" stop-color="#a7fc3a"/><stop offset="0.4375" stop-color="#c1f334"/><stop offset="0.46875" stop-color="#dbe236"/><stop offset="0.5" stop-color="#eecf3a"/><stop offset="0.53125" stop-color="#f7c13a"/><stop offset="0.5625" stop-color="#fbb637"/><stop offset="0.59375" stop-color="#fdae35"/><stop offset="0.625" stop-color="#fea732"/><stop offset="0.65625" stop-color="#fea130"/><stop offset="0.6875" stop-color="#fe9b2d"/><stop offset="0.71875" stop-color="#fe962b"/><stop offset="0.75" stop-color="#fe932a"/><stop offset="0.78125" stop-color="#fe9029"/><stop offset="0.8125" stop-color="#fe9029"/><stop offset="0.84375" stop-color="#fe932a"/><stop offset="0.875" stop-color="#fe962b"/><stop offset="0.90625" stop-color="#fe9b2d"/><stop offset="0.9375" stop-color="#fe9e2f"/><stop offset="0.96875" stop-color="#fea130"/><stop offset="1" stop-color="#fea732"/></linearGradient>
<linearGradient id="g119"><stop offset="0" stop-color="#477bf2"/><stop offset="0.03125" stop-color="#458cfd"/><stop offset="0.0625" stop-color="#3d9efe"/><stop offset="0.09375" stop-color="#33adf7"/><stop offset="0.125" stop-color="#28bceb"/><stop offset="0.15625" stop-color="#1fc9dd"/><stop offset="0.1875" stop-color="#19d5cd"/><stop offset="0.21875" stop-color="#19e3b9"/><stop offset="0.25" stop-color="#25eca7"/><stop offset="0.28125" stop-color="#32f298"/><stop offset="0.3125" stop-color="#43f787"/><stop offset="0.34375" stop-color="#61fc6c"/><stop offset="0.375" stop-color="#84ff51"/><stop offset="0.40625" stop-color="#a1fd3d"/><stop offset="0.4375" stop-color="#b9f635"/><stop offset="0.46875" stop-color="#d7e535"/><stop offset="0.5" stop-color="#ebd339"/><stop offset="0.53125" stop-color="#f6c33a"/><stop offset="0.5625" stop-color="#fbb838"/><stop offset="0.59375" stop-color="#fdae35"/><stop offset="0.625" stop-color="#fea732"/><stop offset="0.65625" stop-color="#fea130"/><stop offset="0.6875" stop-color="#fe9e2f"/><stop offset="0.71875" stop-color="#fe992c"/><stop offset="0.75" stop-color="#fe932a"/><stop offset="0.78125" stop-color="#fe9029"/><stop offset="0.8125" stop-color="#fe9029"/><stop offset="0.84375" stop-color="#fe932a"/><stop offset="0.875" stop-color="#fe962b"/><stop offset="0.90625" stop-color="#fe992c"/><stop offset="0.9375" stop-color="#fe9e2f"/><stop offset="0.96875" stop-color="#fea130"/><stop offset="1" stop-color="#fea732"/></linearGradient>
<linearGradient id="g120"><stop offset="0" stop-color="#467df4"/><stop offset="0.03125" stop-color="#458cfd"/><stop offset="0.0625" stop-color="#3d9efe"/><stop offset="0.09375" stop-color="#33adf7"/><stop offset="0.125" stop-color="#28bceb"/><stop offset="0.15625" stop-color="#1fc9dd"/><stop offset="0.1875" stop-color="#19d5cd"/><stop offset="0.21875" stop-color="#19e2bb"/><stop offset="0.25" stop-color="#22ebaa"/><stop offset="0.28125" stop-color="#2ff19b"/><stop offset="0.3125" stop-color="#3cf58e"/><stop offset="0.34375" stop-color="#59fb73"/><stop offset="0.375" stop-color="#79fe59"/><stop offset="0.40625" stop-color="#99fe42"/><stop offset="0.4375" stop-color="#b4f836"/><stop offset="0.46875" stop-color="#d0ea34"/><stop offset="0.5" stop-color="#e7d739"/><stop offset="0.53125" stop-color="#f4c73a"/><stop offset="0.5625" stop-color="#faba39"/><stop offset="0.59375" stop-color="#fdae35"/><stop offset="0.625" stop-color="#fea732"/><stop offset="0.65625" stop-color="#fea431"/><stop offset="0.6875" stop-color="#fe9e2f"/><stop offset="0.71875" stop-color="#fe992c"/><stop offset="0.75" stop-color="#fe932a"/><stop offset="0.78125" stop-color="#fe9029"/><stop offset="0.8125" stop-color="#fe9029"/><stop offset="0.84375" stop-color="#fe932a"/><stop offset="0.875" stop-color="#fe962b"/><stop offset="0.90625" stop-color="#fe992c"/><stop offset="0.9375" stop-color="#fe9b2d"/><stop offset="0.96875" stop-color="#fea130"/><stop offset="1" stop-color="#fea431"/></linearGradient>
<linearGradient id="g121"><stop offset="0" stop-color="#467df4"/><stop offset="0.03125" stop-color="#458cfd"/><stop offset="0.0625" stop-color="#3d9efe"/><stop offset="0.09375" stop-color="#33adf7"/><stop offset="0.125" stop-color="#28bceb"/><stop offset="0.15625" stop-color="#20c7df"/><stop offset="0.1875" stop-color="#1ad4d0"/><stop offset="0.21875" stop-color="#18e0bd"/><stop offset="0.25" stop-color="#20eaac"/><stop offset="0.28125" stop-color="#2aefa1"/><stop offset="0.3125" stop-color="#38f491"/><stop offset="0.34375" stop-color="#4ef97d"/><stop offset="0.375" stop-color="#71fe5f"/><stop offset="0.40625" stop-color="#92ff47"/><stop offset="0.4375" stop-color="#affa37"/><stop offset="0.46875" stop-color="#cbed34"/><stop offset="0.5" stop-color="#e3db38"/><stop offset="0.53125" stop-color="#f2c93a"/><stop offset="0.5625" stop-color="#f9bc39"/><stop offset="0.59375" stop-color="#fcb136"/><stop offset="0.625" stop-color="#fea933"/><stop offset="0.65625" stop-color="#fea431"/><stop offset="0.6875" stop-color="#fea130"/><stop offset="0.71875" stop-color="#fe9b2d"/><stop offset="0.75" stop-color="#fe962b"/><stop offset="0.78125" stop-color="#fe932a"/><stop offset="0.8125" stop-color="#fe9029"/><stop offset="0.84375" stop-color="#fe932a"/><stop offset="0.875" stop-color="#fe962b"/><stop offset="0.90625" stop-color="#fe992c"/><stop offset="0.9375" stop-color="#fe9b2d"/><stop offset="0.96875" stop-color="#fea130"/><stop offset="1" stop-color="#fea431"/></linearGradient>
<linearGradient id="g122"><stop offset="0" stop-color="#467df4"/><stop offset="0.03125" stop-color="#458cfd"/><stop offset="0.0625" stop-color="#3e9bfe"/><stop offset="0.09375" stop-color="#33adf7"/><stop offset="0.125" stop-color="#2ab9ee"/><stop offset="0.15625" stop-color="#22c5e2"/><stop offset="0.1875" stop-color="#1ad2d2"/><stop offset="0.21875" stop-color="#18dec0"/><stop offset="0.25" stop-color="#1fe9af"/><stop offset="0.28125" stop-color="#27eea4"/><stop offset="0.3125" stop-color="#32f298"/><stop offset="0.34375" stop-color="#46f884"/><stop offset="0.375" stop-color="#69fd66"/><stop offset="0.40625" stop-color="#8bff4b"/><stop offset="0.4375" stop-color="#a7fc3a"/><stop offset="0.46875" stop-color="#c6f034"/><stop offset="0.5" stop-color="#dfdf37"/><stop offset="0.53125" stop-color="#efcd3a"/><stop offset="0.5625" stop-color="#f8be39"/><stop offset="0.59375" stop-color="#fcb336"/><stop offset="0.625" stop-color="#fea933"/><stop offset="0.65625" stop-color="#fea431"/><stop offset="0.6875" stop-color="#fea130"/><stop offset="0.71875" stop-color="#fe9b2d"/><stop offset="0.75" stop-color="#fe962b"/><stop offset="0.78125" stop-color="#fe932a"/><stop offset="0.8125" stop-color="#fe932a"/><stop offset="0.84375" stop-color="#fe932a"/><stop offset="0.875" stop-color="#fe962b"/><stop offset="0.90625" stop-color="#fe992c"/><stop offset="0.9375" stop-color="#fe9b2d"/><stop offset="0.96875" stop-color="#fe9e2f"/><stop offset="1" stop-color="#fea130"/></linearGradient>
<linearGradient id="g123"><stop offset="0" stop-color="#467df4"/><stop offset="0.03125" stop-color="#458cfd"/><stop offset="0.0625" stop-color="#3e9bfe"/><stop offset="0.09375" stop-color="#33adf7"/><stop offset="0.125" stop-color="#2ab9ee"/><stop offset="0.15625" stop-color="#23c3e4"/><stop offset="0.1875" stop-color="#1bd0d5"/><stop offset="0.21875" stop-color="#18ddc2"/><stop offset="0.25" stop-color="#1de7b2"/><stop offset="0.28125" stop-color="#22ebaa"/><stop offset="0.3125" stop-color="#2cf09e"/><stop offset="0.34375" stop-color="#3ff68a"/><stop offset="0.375" stop-color="#61fc6c"/><stop offset="0.40625" stop-color="#84ff51"/><stop offset="0.4375" stop-color="#a1fd3d"/><stop offset="0.46875" stop-color="#bef434"/><stop offset="0.5" stop-color="#dbe236"/><stop offset="0.53125" stop-color="#ecd13a"/><stop offset="0.5625" stop-color="#f7c13a"/><stop offset="0.59375" stop-color="#fcb336"/><stop offset="0.625" stop-color="#fdac34"/><stop offset="0.65625" stop-color="#fea732"/><stop offset="0.6875" stop-color="#fea431"/><stop offset="0.71875" stop-color="#fe9e2f"/><stop offset="0.75" stop-color="#fe992c"/><stop offset="0.78125" stop-color="#fe932a"/><stop offset="0.8125" stop-color="#fe932a"/><stop offset="0.84375" stop-color="#fe932a"/><stop offset="0.875" stop-color="#fe932a"/><stop offset="0.90625" stop-color="#fe962b"/><stop offset="0.9375" stop-color="#fe9b2d"/><stop offset="0.96875" stop-color="#fe9e2f"/><stop offset="1" stop-color="#fea130"/></linearGradient>
<linearGradient id="g124"><stop offset="0" stop-color="#467df4"/><stop offset="0.03125" stop-color="#458cfd"/><stop offset="0.0625" stop-color="#3e9bfe"/><stop offset="0.09375" stop-color="#35abf8"/><stop offset="0.125" stop-color="#2cb7f0"/><stop offset="0.15625" stop-color="#23c3e4"/><stop offset="0.1875" stop-color="#1ccdd8"/><stop offset="0.21875" stop-color="#18dbc5"/><stop offset="0.25" stop-color="#1ce6b4"/><stop offset="0.28125" stop-color="#20eaac"/><stop offset="0.3125" stop-color="#27eea4"/><stop offset="0.34375" stop-color="#38f491"/><stop offset="0.375" stop-color="#59fb73"/><stop offset="0.40625" stop-color="#7dff56"/><stop offset="0.4375" stop-color="#9cfe40"/><stop offset="0.46875" stop-color="#b9f635"/><stop offset="0.5" stop-color="#d4e735"/><stop offset="0.53125" stop-color="#ebd339"/><stop offset="0.5625" stop-color="#f6c33a"/><stop offset="0.59375" stop-color="#fbb637"/><stop offset="0.625" stop-color="#fdac34"/><stop offset="0.65625" stop-color="#fea732"/><stop offset="0.6875" stop-color="#fea431"/><stop offset="0.71875" stop-color="#fe9e2f"/><stop offset="0.75" stop-color="#fe992c"/><stop offset="0.78125" stop-color="#fe962b"/><stop offset="0.8125" stop-color="#fe932a"/><stop offset="0.84375" stop-color="#fe932a"/><stop offset="0.875" stop-color="#fe932a"/><stop offset="0.90625" stop-color="#fe962b"/><stop offset="0.9375" stop-color="#fe9b2d"/><stop offset="0.96875" stop-color="#fe9e2f"/><stop offset="1" stop-color="#fe9e2f"/></linearGradient>
<linearGradient id="g125"><stop offset="0" stop-color="#467df4"/><stop offset="0.03125" stop-color="#458cfd"/><stop offset="0.0625" stop-color="#3e9bfe"/><stop offset="0.09375" stop-color="#35abf8"/><stop offset="0.125" stop-color="#2cb7f0"/><stop offset="0.15625" stop-color="#25c0e7"/><stop offset="0.1875" stop-color="#1ecbda"/><stop offset="0.21875" stop-color="#18d9c8"/><stop offset="0.25" stop-color="#19e3b9"/><stop offset="0.28125" stop-color="#1de7b2"/><stop offset="0.3125" stop-color="#22ebaa"/><stop offset="0.34375" stop-color="#35f394"/><stop offset="0.375" stop-color="#52fa7a"/><stop offset="0.40625" stop-color="#75fe5c"/><stop offset="0.4375" stop-color="#96fe44"/><stop offset="0.46875" stop-color="#b1f936"/><stop offset="0.5" stop-color="#d0ea34"/><stop offset="0.53125" stop-color="#e7d739"/><stop offset="0.5625" stop-color="#f5c53a"/><stop offset="0.59375" stop-color="#fbb637"/><stop offset="0.625" stop-color="#fdae35"/><stop offset="0.65625" stop-color="#fea933"/><stop offset="0.6875" stop-color="#fea732"/><stop offset="0.71875" stop-color="#fea130"/><stop offset="0.75" stop-color="#fe9b2d"/><stop offset="0.78125" stop-color="#fe962b"/><stop offset="0.8125" stop-color="#fe932a"/><stop offset="0.84375" stop-color="#fe932a"/><stop offset="0.875" stop-color="#fe932a"/><stop offset="0.90625" stop-color="#fe962b"/><stop offset="0.9375" stop-color="#fe9b2d"/><stop offset="0.96875" stop-color="#fe9e2f"/><stop offset="1" stop-color="#fe9e2f"/></linearGradient>
<linearGradient id="g126"><stop offset="0" stop-color="#467df4"/><stop offset="0.03125" stop-color="#458cfd"/><stop offset="0.0625" stop-color="#3e9bfe"/><stop offset="0.09375" stop-color="#37a8fa"/><stop offset="0.125" stop-color="#2eb4f2"/><stop offset="0.15625" stop-color="#27bee9"/><stop offset="0.1875" stop-color="#1fc9dd"/><stop offset="0.21875" stop-color="#18d7ca"/><stop offset="0.25" stop-color="#19e2bb"/><stop offset="0.28125" stop-color="#1ce6b4"/><stop offset="0.3125" stop-color="#1fe9af"/><stop offset="0.34375" stop-color="#2ff19b"/><stop offset="0.375" stop-color="#4ef97d"/><stop offset="0.40625" stop-color="#6dfe62"/><stop offset="0.4375" stop-color="#8fff49"/><stop offset="0.46875" stop-color="#acfb38"/><stop offset="0.5" stop-color="#c8ef34"/><stop offset="0.53125" stop-color="#e3db38"/><stop offset="0.5625" stop-color="#f4c73a"/><stop offset="0.59375" stop-color="#fbb838"/><stop offset="0.625" stop-color="#fdae35"/><stop offset="0.65625" stop-color="#fdac34"/><stop offset="0.6875" stop-color="#fea732"/><stop offset="0.71875" stop-color="#fea130"/><stop offset="0.75" stop-color="#fe9b2d"/><stop offset="0.78125" stop-color="#fe992c"/><stop offset="0.8125" stop-color="#fe962b"/><stop offset="0.84375" stop-color="#fe932a"/><stop offset="0.875" stop-color="#fe932a"/><stop offset="0.90625" stop-color="#fe962b"/><stop offset="0.9375" stop-color="#fe992c"/><stop offset="0.96875" stop-color="#fe9b2d"/><stop offset="1" stop-color="#fe9b2d"/></linearGradient>
<linearGradient id="g127"><stop offset="0" stop-color="#467df4"/><stop offset="0.03125" stop-color="#458cfd"/><stop offset="0.0625" stop-color="#3e9bfe"/><stop offset="0.09375" stop-color="#37a8fa"/><stop offset="0.125" stop-color="#2fb2f4"/><stop offset="0.15625" stop-color="#28bceb"/><stop offset="0.1875" stop-color="#20c7df"/><stop offset="0.21875" stop-color="#19d5cd"/><stop offset="0.25" stop-color="#18e0bd"/><stop offset="0.28125" stop-color="#19e3b9"/><stop offset="0.3125" stop-color="#1de7b2"/><stop offset="0.34375" stop-color="#2cf09e"/><stop offset="0.375" stop-color="#46f884"/><stop offset="0.40625" stop-color="#69fd66"/><stop offset="0.4375" stop-color="#88ff4e"/><stop offset="0.46875" stop-color="#a7fc3a"/><stop offset="0.5" stop-color="#c3f134"/><stop offset="0.53125" stop-color="#dfdf37"/><stop offset="0.5625" stop-color="#f2c93a"/><stop offset="0.59375" stop-color="#faba39"/><stop offset="0.625" stop-color="#fcb136"/><stop offset="0.65625" stop-color="#fdac34"/><stop offset="0.6875" stop-color="#fea933"/><stop offset="0.71875" stop-color="#fea431"/><stop offset="0.75" stop-color="#fe9e2f"/><stop offset="0.78125" stop-color="#fe992c"/><stop offset="0.8125" stop-color="#fe962b"/><stop offset="0.84375" stop-color="#fe932a"/><stop offset="0.875" stop-color="#fe932a"/><stop offset="0.90625" stop-color="#fe962b"/><stop offset="0.9375" stop-color="#fe992c"/><stop offset="0.96875" stop-color="#fe9b2d"/><stop offset="1" stop-color="#fe9b2d"/></linearGradient>
<linearGradient id="g128"><stop offset="0" stop-color="#467df4"/><stop offset="0.03125" stop-color="#458cfd"/><stop offset="0.0625" stop-color="#3e9bfe"/><stop offset="0.09375" stop-color="#37a8fa"/><stop offset="0.125" stop-color="#31aff5"/><stop offset="0.15625" stop-color="#2ab9ee"/><stop offset="0.1875" stop-color="#22c5e2"/><stop offset="0.21875" stop-color="#1ad4d0"/><stop offset="0.25" stop-color="#18dec0"/><stop offset="0.28125" stop-color="#19e2bb"/><stop offset="0.3125" stop-color="#1ae4b6"/><stop offset="0.34375" stop-color="#27eea4"/><stop offset="0.375" stop-color="#43f787"/><stop offset="0.40625" stop-color="#61fc6c"/><stop offset="0.4375" stop-color="#80ff53"/><stop offset="0.46875" stop-color="#9ffd3f"/><stop offset="0.5" stop-color="#bcf534"/><stop offset="0.53125" stop-color="#dbe236"/><stop offset="0.5625" stop-color="#f1cb3a"/><stop offset="0.59375" stop-color="#f9bc39"/><stop offset="0.625" stop-color="#fcb336"/><stop offset="0.65625" stop-color="#fdae35"/><stop offset="0.6875" stop-color="#fea933"/><stop offset="0.71875" stop-color="#fea431"/><stop offset="0.75" stop-color="#fe9e2f"/><stop offset="0.78125" stop-color="#fe9b2d"/><stop offset="0.8125" stop-color="#fe962b"/><stop offset="0.84375" stop-color="#fe932a"/><stop offset="0.875" stop-color="#fe932a"/><stop offset="0.90625" stop-color="#fe962b"/><stop offset="0.9375" stop-color="#fe992c"/><stop offset="0.96875" stop-color="#fe9b2d"/><stop offset="1" stop-color="#fe992c"/></linearGradient>
<linearGradient id="g129"><stop offset="0" stop-color="#467df4"/><stop offset="0.03125" stop-color="#458cfd"/><stop offset="0.0625" stop-color="#3e9bfe"/><stop offset="0.09375" stop-color="#38a5fb"/><stop offset="0.125" stop-color="#31aff5"/><stop offset="0.15625" stop-color="#2cb7f0"/><stop offset="0.1875" stop-color="#25c0e7"/><stop offset="0.21875" stop-color="#1ad2d2"/><stop offset="0.25" stop-color="#18ddc2"/><stop offset="0.28125" stop-color="#18e0bd"/><stop offset="0.3125" stop-color="#19e3b9"/><stop offset="0.34375" stop-color="#25eca7"/><stop offset="0.375" stop-color="#3ff68a"/><stop offset="0.40625" stop-color="#5dfc6f"/><stop offset="0.4375" stop-color="#7dff56"/><stop offset="0.46875" stop-color="#99fe42"/><stop offset="0.5" stop-color="#b7f735"/><stop offset="0.53125" stop-color="#d7e535"/><stop offset="0.5625" stop-color="#eecf3a"/><stop offset="0.59375" stop-color="#f8be39"/><stop offset="0.625" stop-color="#fbb637"/><stop offset="0.65625" stop-color="#fdae35"/><stop offset="0.6875" stop-color="#fdac34"/><stop offset="0.71875" stop-color="#fea732"/><stop offset="0.75" stop-color="#fea130"/><stop offset="0.78125" stop-color="#fe9b2d"/><stop offset="0.8125" stop-color="#fe992c"/><stop offset="0.84375" stop-color="#fe932a"/><stop offset="0.875" stop-color="#fe932a"/><stop offset="0.90625" stop-color="#fe932a"/><stop offset="0.9375" stop-color="#fe992c"/><stop offset="0.96875" stop-color="#fe992c"/><stop offset="1" stop-color="#fe992c"/></linearGradient>
<linearGradient id="g130"><stop offset="0" stop-color="#467df4"/><stop offset="0.03125" stop-color="#458cfd"/><stop offset="0.0625" stop-color="#4099ff"/><stop offset="0.09375" stop-color="#38a5fb"/><stop offset="0.125" stop-color="#33adf7"/><stop offset="0.15625" stop-color="#2eb4f2"/><stop offset="0.1875" stop-color="#27bee9"/><stop offset="0.21875" stop-color="#1ccdd8"/><stop offset="0.25" stop-color="#18d9c8"/><stop offset="0.28125" stop-color="#18ddc2"/><stop offset="0.3125" stop-color="#19e2bb"/><stop offset="0.34375" stop-color="#22ebaa"/><stop offset="0.375" stop-color="#3cf58e"/><stop offset="0.40625" stop-color="#59fb73"/><stop offset="0.4375" stop-color="#75fe5c"/><stop offset="0.46875" stop-color="#92ff47"/><stop offset="0.5" stop-color="#affa37"/><stop offset="0.53125" stop-color="#d2e935"/><stop offset="0.5625" stop-color="#ecd13a"/><stop offset="0.59375" stop-color="#f7c13a"/><stop offset="0.625" stop-color="#fbb637"/><stop offset="0.65625" stop-color="#fcb136"/><stop offset="0.6875" stop-color="#fdae35"/><stop offset="0.71875" stop-color="#fea933"/><stop offset="0.75" stop-color="#fea431"/><stop offset="0.78125" stop-color="#fe9e2f"/><stop offset="0.8125" stop-color="#fe992c"/><stop offset="0.84375" stop-color="#fe962b"/><stop offset="0.875" stop-color="#fe932a"/><stop offset="0.90625" stop-color="#fe932a"/><stop offset="0.9375" stop-color="#fe962b"/><stop offset="0.96875" stop-color="#fe992c"/><stop offset="1" stop-color="#fe962b"/></linearGradient>
<linearGradient id="g131"><stop offset="0" stop-color="#477bf2"/><stop offset="0.03125" stop-color="#458cfd"/><stop offset="0.0625" stop-color="#4099ff"/><stop offset="0.09375" stop-color="#3aa3fc"/><stop offset="0.125" stop-color="#35abf8"/><stop offset="0.15625" stop-color="#2fb2f4"/><stop offset="0.1875" stop-color="#28bceb"/><stop offset="0.21875" stop-color="#1ecbda"/><stop offset="0.25" stop-color="#18d7ca"/><stop offset="0.28125" stop-color="#18dbc5"/><stop offset="0.3125" stop-color="#18e0bd"/><stop offset="0.34375" stop-color="#20eaac"/><stop offset="0.375" stop-color="#38f491"/><stop offset="0.40625" stop-color="#55fa76"/><stop offset="0.4375" stop-color="#71fe5f"/><stop offset="0.46875" stop-color="#8bff4b"/><stop offset="0.5" stop-color="#a9fb39"/><stop offset="0.53125" stop-color="#cdec34"/><stop offset="0.5625" stop-color="#e9d539"/><stop offset="0.59375" stop-color="#f6c33a"/><stop offset="0.625" stop-color="#fbb838"/><stop offset="0.65625" stop-color="#fcb336"/><stop offset="0.6875" stop-color="#fdae35"/><stop offset="0.71875" stop-color="#fdac34"/><stop offset="0.75" stop-color="#fea431"/><stop offset="0.78125" stop-color="#fe9e2f"/><stop offset="0.8125" stop-color="#fe9b2d"/><stop offset="0.84375" stop-color="#fe962b"/><stop offset="0.875" stop-color="#fe932a"/><stop offset="0.90625" stop-color="#fe932a"/><stop offset="0.9375" stop-color="#fe962b"/><stop offset="0.96875" stop-color="#fe962b"/><stop offset="1" stop-color="#fe962b"/></linearGradient>
<linearGradient id="g132"><stop offset="0" stop-color="#477bf2"/><stop offset="0.03125" stop-color="#458cfd"/><stop offset="0.0625" stop-color="#4099ff"/><stop offset="0.09375" stop-color="#3aa3fc"/><stop offset="0.125" stop-color="#35abf8"/><stop offset="0.15625" stop-color="#31aff5"/><stop offset="0.1875" stop-color="#2ab9ee"/><stop offset="0.21875" stop-color="#1fc9dd"/><stop offset="0.25" stop-color="#19d5cd"/><stop offset="0.28125" stop-color="#18d9c8"/><stop offset="0.3125" stop-color="#18dec0"/><stop offset="0.34375" stop-color="#1fe9af"/><stop offset="0.375" stop-color="#35f394"/><stop offset="0.40625" stop-color="#52fa7a"/><stop offset="0.4375" stop-color="#69fd66"/><stop offset="0.46875" stop-color="#84ff51"/><stop offset="0.5" stop-color="#a4fc3c"/><stop offset="0.53125" stop-color="#c8ef34"/><stop offset="0.5625" stop-color="#e7d739"/><stop offset="0.59375" stop-color="#f5c53a"/><stop offset="0.625" stop-color="#faba39"/><stop offset="0.65625" stop-color="#fcb336"/><stop offset="0.6875" stop-color="#fcb136"/><stop offset="0.71875" stop-color="#fdac34"/><stop offset="0.75" stop-color="#fea732"/><stop offset="0.78125" stop-color="#fea130"/><stop offset="0.8125" stop-color="#fe9b2d"/><stop offset="0.84375" stop-color="#fe962b"/><stop offset="0.875" stop-color="#fe932a"/><stop offset="0.90625" stop-color="#fe932a"/><stop offset="0.9375" stop-color="#fe932a"/><stop offset="0.96875" stop-color="#fe962b"/><stop offset="1" stop-color="#fe962b"/></linearGradient>
<linearGradient id="g133"><stop offset="0" stop-color="#477bf2"/><stop offset="0.03125" stop-color="#458cfd"/><stop offset="0.0625" stop-color="#4196ff"/><stop offset="0.09375" stop-color="#3ba0fd"/><stop offset="0.125" stop-color="#37a8fa"/><stop offset="0.15625" stop-color="#33adf7"/><stop offset="0.1875" stop-color="#2cb7f0"/><stop offset="0.21875" stop-color="#20c7df"/><stop offset="0.25" stop-color="#1ad2d2"/><stop offset="0.28125" stop-color="#18d7ca"/><stop offset="0.3125" stop-color="#18ddc2"/><stop offset="0.34375" stop-color="#1de7b2"/><stop offset="0.375" stop-color="#32f298"/><stop offset="0.40625" stop-color="#4ef97d"/><stop offset="0.4375" stop-color="#65fd69"/><stop offset="0.46875" stop-color="#80ff53"/><stop offset="0.5" stop-color="#9ffd3f"/><stop offset="0.53125" stop-color="#c3f134"/><stop offset="0.5625" stop-color="#e3db38"/><stop offset="0.59375" stop-color="#f4c73a"/><stop offset="0.625" stop-color="#f9bc39"/><stop offset="0.65625" stop-color="#fbb637"/><stop offset="0.6875" stop-color="#fcb336"/><stop offset="0.71875" stop-color="#fdae35"/><stop offset="0.75" stop-color="#fea933"/><stop offset="0.78125" stop-color="#fea431"/><stop offset="0.8125" stop-color="#fe9b2d"/><stop offset="0.84375" stop-color="#fe992c"/><stop offset="0.875" stop-color="#fe962b"/><stop offset="0.90625" stop-color="#fe932a"/><stop offset="0.9375" stop-color="#fe932a"/><stop offset="0.96875" stop-color="#fe932a"/><stop offset="1" stop-color="#fe962b"/></linearGradient>
<linearGradient id="g134"><stop offset="0" stop-color="#477bf2"/><stop offset="0.03125" stop-color="#458afc"/><stop offset="0.0625" stop-color="#4196ff"/><stop offset="0.09375" stop-color="#3ba0fd"/><stop offset="0.125" stop-color="#38a5fb"/><stop offset="0.15625" stop-color="#33adf7"/><stop offset="0.1875" stop-color="#2eb4f2"/><stop offset="0.21875" stop-color="#22c5e2"/><stop offset="0.25" stop-color="#1bd0d5"/><stop offset="0.28125" stop-color="#19d5cd"/><stop offset="0.3125" stop-color="#18dbc5"/><stop offset="0.34375" stop-color="#1ce6b4"/><stop offset="0.375" stop-color="#2ff19b"/><stop offset="0.40625" stop-color="#4af880"/><stop offset="0.4375" stop-color="#61fc6c"/><stop offset="0.46875" stop-color="#79fe59"/><stop offset="0.5" stop-color="#99fe42"/><stop offset="0.53125" stop-color="#bef434"/><stop offset="0.5625" stop-color="#e1dd37"/><stop offset="0.59375" stop-color="#f2c93a"/><stop offset="0.625" stop-color="#f9bc39"/><stop offset="0.65625" stop-color="#fbb838"/><stop offset="0.6875" stop-color="#fbb637"/><stop offset="0.71875" stop-color="#fcb136"/><stop offset="0.75" stop-color="#fdac34"/><stop offset="0.78125" stop-color="#fea431"/><stop offset="0.8125" stop-color="#fe9e2f"/><stop offset="0.84375" stop-color="#fe992c"/><stop offset="0.875" stop-color="#fe962b"/><stop offset="0.90625" stop-color="#fe932a"/><stop offset="0.9375" stop-color="#fe932a"/><stop offset="0.96875" stop-color="#fe932a"/><stop offset="1" stop-color="#fe962b"/></linearGradient>
<linearGradient id="g135"><stop offset="0" stop-color="#477bf2"/><stop offset="0.03125" stop-color="#458afc"/><stop offset="0.0625" stop-color="#4196ff"/><stop offset="0.09375" stop-color="#3d9efe"/><stop offset="0.125" stop-color="#38a5fb"/><stop offset="0.15625" stop-color="#35abf8"/><stop offset="0.1875" stop-color="#2fb2f4"/><stop offset="0.21875" stop-color="#25c0e7"/><stop offset="0.25" stop-color="#1ccdd8"/><stop offset="0.28125" stop-color="#1ad4d0"/><stop offset="0.3125" stop-color="#18d9c8"/><stop offset="0.34375" stop-color="#1ce6b4"/><stop offset="0.375" stop-color="#2ff19b"/><stop offset="0.40625" stop-color="#46f884"/><stop offset="0.4375" stop-color="#5dfc6f"/><stop offset="0.46875" stop-color="#75fe5c"/><stop offset="0.5" stop-color="#96fe44"/><stop offset="0.53125" stop-color="#bcf534"/><stop offset="0.5625" stop-color="#dde037"/><stop offset="0.59375" stop-color="#efcd3a"/><stop offset="0.625" stop-color="#f8be39"/><stop offset="0.65625" stop-color="#faba39"/><stop offset="0.6875" stop-color="#fbb838"/><stop offset="0.71875" stop-color="#fcb336"/><stop offset="0.75" stop-color="#fdae35"/><stop offset="0.78125" stop-color="#fea732"/><stop offset="0.8125" stop-color="#fe9e2f"/><stop offset="0.84375" stop-color="#fe9b2d"/><stop offset="0.875" stop-color="#fe962b"/><stop offset="0.90625" stop-color="#fe932a"/><stop offset="0.9375" stop-color="#fe9029"/><stop offset="0.96875" stop-color="#fe9029"/><stop offset="1" stop-color="#fe962b"/></linearGradient>
<linearGradient id="g136"><stop offset="0" stop-color="#477bf2"/><stop offset="0.03125" stop-color="#458afc"/><stop offset="0.0625" stop-color="#4294ff"/><stop offset="0.09375" stop-color="#3d9efe"/><stop offset="0.125" stop-color="#3aa3fc"/><stop offset="0.15625" stop-color="#37a8fa"/><stop offset="0.1875" stop-color="#2fb2f4"/><stop offset="0.21875" stop-color="#27bee9"/><stop offset="0.25" stop-color="#1fc9dd"/><stop offset="0.28125" stop-color="#1ad2d2"/><stop offset="0.3125" stop-color="#18d7ca"/><stop offset="0.34375" stop-color="#1ae4b6"/><stop offset="0.375" stop-color="#2cf09e"/><stop offset="0.40625" stop-color="#43f787"/><stop offset="0.4375" stop-color="#59fb73"/><stop offset="0.46875" stop-color="#6dfe62"/><stop offset="0.5" stop-color="#8fff49"/><stop offset="0.53125" stop-color="#b7f735"/><stop offset="0.5625" stop-color="#d9e436"/><stop offset="0.59375" stop-color="#eecf3a"/><stop offset="0.625" stop-color="#f7c13a"/><stop offset="0.65625" stop-color="#f9bc39"/><stop offset="0.6875" stop-color="#faba39"/><stop offset="0.71875" stop-color="#fbb637"/><stop offset="0.75" stop-color="#fcb136"/><stop offset="0.78125" stop-color="#fea933"/><stop offset="0.8125" stop-color="#fea130"/><stop offset="0.84375" stop-color="#fe9b2d"/><stop offset="0.875" stop-color="#fe992c"/><stop offset="0.90625" stop-color="#fe932a"/><stop offset="0.9375" stop-color="#fe9029"/><stop offset="0.96875" stop-color="#fe9029"/><stop offset="1" stop-color="#fe962b"/></linearGradient>
<linearGradient id="g137"><stop offset="0" stop-color="#477bf2"/><stop offset="0.03125" stop-color="#4687fb"/><stop offset="0.0625" stop-color="#4294ff"/><stop offset="0.09375" stop-color="#3e9bfe"/><stop offset="0.125" stop-color="#3aa3fc"/><stop offset="0.15625" stop-color="#37a8fa"/><stop offset="0.1875" stop-color="#31aff5"/><stop offset="0.21875" stop-color="#28bceb"/><stop offset="0.25" stop-color="#20c7df"/><stop offset="0.28125" stop-color="#1ccdd8"/><stop offset="0.3125" stop-color="#18d7ca"/><stop offset="0.34375" stop-color="#19e3b9"/><stop offset="0.375" stop-color="#2aefa1"/><stop offset="0.40625" stop-color="#3ff68a"/><stop offset="0.4375" stop-color="#55fa76"/><stop offset="0.46875" stop-color="#69fd66"/><stop offset="0.5" stop-color="#88ff4e"/><stop offset="0.53125" stop-color="#b1f936"/><stop offset="0.5625" stop-color="#d4e735"/><stop offset="0.59375" stop-color="#ebd339"/><stop offset="0.625" stop-color="#f5c53a"/><stop offset="0.65625" stop-color="#f8be39"/><stop offset="0.6875" stop-color="#f9bc39"/><stop offset="0.71875" stop-color="#fbb838"/><stop offset="0.75" stop-color="#fcb136"/><stop offset="0.78125" stop-color="#fea933"/><stop offset="0.8125" stop-color="#fea431"/><stop offset="0.84375" stop-color="#fe9e2f"/><stop offset="0.875" stop-color="#fe992c"/><stop offset="0.90625" stop-color="#fe932a"/><stop offset="0.9375" stop-color="#fd8d27"/><stop offset="0.96875" stop-color="#fd8d27"/><stop offset="1" stop-color="#fe962b"/></linearGradient>
<linearGradient id="g138"><stop offset="0" stop-color="#477bf2"/><stop offset="0.03125" stop-color="#4687fb"/><stop offset="0.0625" stop-color="#4391fe"/><stop offset="0.09375" stop-color="#3e9bfe"/><stop offset="0.125" stop-color="#3ba0fd"/><stop offset="0.15625" stop-color="#38a5fb"/><stop offset="0.1875" stop-color="#33adf7"/><stop offset="0.21875" stop-color="#2ab9ee"/><stop offset="0.25" stop-color="#22c5e2"/><stop offset="0.28125" stop-color="#1ecbda"/><stop offset="0.3125" stop-color="#19d5cd"/><stop offset="0.34375" stop-color="#19e3b9"/><stop offset="0.375" stop-color="#27eea4"/><stop offset="0.40625" stop-color="#3cf58e"/><stop offset="0.4375" stop-color="#4ef97d"/><stop offset="0.46875" stop-color="#65fd69"/><stop offset="0.5" stop-color="#84ff51"/><stop offset="0.53125" stop-color="#acfb38"/><stop offset="0.5625" stop-color="#d0ea34"/><stop offset="0.59375" stop-color="#e7d739"/><stop offset="0.625" stop-color="#f4c73a"/><stop offset="0.65625" stop-color="#f7c13a"/><stop offset="0.6875" stop-color="#f8be39"/><stop offset="0.71875" stop-color="#faba39"/><stop offset="0.75" stop-color="#fcb336"/><stop offset="0.78125" stop-color="#fdac34"/><stop offset="0.8125" stop-color="#fea431"/><stop offset="0.84375" stop-color="#fe9e2f"/><stop offset="0.875" stop-color="#fe9b2d"/><stop offset="0.90625" stop-color="#fe932a"/><stop offset="0.9375" stop-color="#fd8d27"/><stop offset="0.96875" stop-color="#fd8d27"/><stop offset="1" stop-color="#fe962b"/></linearGradient>
<linearGradient id="g139"><stop offset="0" stop-color="#477bf2"/><stop offset="0.03125" stop-color="#4687fb"/><stop offset="0.0625" stop-color="#4391fe"/><stop offset="0.09375" stop-color="#4099ff"/><stop offset="0.125" stop-color="#3d9efe"/><stop offset="0.15625" stop-color="#3aa3fc"/><stop offset="0.1875" stop-color="#35abf8"/><stop offset="0.21875" stop-color="#2cb7f0"/><stop offset="0.25" stop-color="#25c0e7"/><stop offset="0.28125" stop-color="#1fc9dd"/><stop offset="0.3125" stop-color="#1ad4d0"/><stop offset="0.34375" stop-color="#19e2bb"/><stop offset="0.375" stop-color="#25eca7"/><stop offset="0.40625" stop-color="#38f491"/><stop offset="0.4375" stop-color="#4af880"/><stop offset="0.46875" stop-color="#5dfc6f"/><stop offset="0.5" stop-color="#7dff56"/><stop offset="0.53125" stop-color="#a4fc3c"/><stop offset="0.5625" stop-color="#c8ef34"/><stop offset="0.59375" stop-color="#e3db38"/><stop offset="0.625" stop-color="#f1cb3a"/><stop offset="0.65625" stop-color="#f6c33a"/><stop offset="0.6875" stop-color="#f7c13a"/><stop offset="0.71875" stop-color="#f9bc39"/><stop offset="0.75" stop-color="#fbb637"/><stop offset="0.78125" stop-color="#fdae35"/><stop offset="0.8125" stop-color="#fea732"/><stop offset="0.84375" stop-color="#fea130"/><stop offset="0.875" stop-color="#fe9b2d"/><stop offset="0.90625" stop-color="#fe932a"/><stop offset="0.9375" stop-color="#fd8d27"/><stop offset="0.96875" stop-color="#fd8a26"/><stop offset="1" stop-color="#fe962b"/></linearGradient>
<linearGradient id="g140"><stop offset="0" stop-color="#477bf2"/><stop offset="0.03125" stop-color="#4687fb"/><stop offset="0.0625" stop-color="#4391fe"/><stop offset="0.09375" stop-color="#4099ff"/><stop offset="0.125" stop-color="#3d9efe"/><stop offset="0.15625" stop-color="#3aa3fc"/><stop offset="0.1875" stop-color="#37a8fa"/><stop offset="0.21875" stop-color="#2eb4f2"/><stop offset="0.25" stop-color="#27bee9"/><stop offset="0.28125" stop-color="#20c7df"/><stop offset="0.3125" stop-color="#1ad2d2"/><stop offset="0.34375" stop-color="#18e0bd"/><stop offset="0.375" stop-color="#22ebaa"/><stop offset="0.40625" stop-color="#35f394"/><stop offset="0.4375" stop-color="#46f884"/><stop offset="0.46875" stop-color="#59fb73"/><stop offset="0.5" stop-color="#75fe5c"/><stop offset="0.53125" stop-color="#9ffd3f"/><stop offset="0.5625" stop-color="#c3f134"/><stop offset="0.59375" stop-color="#dfdf37"/><stop offset="0.625" stop-color="#efcd3a"/><stop offset="0.65625" stop-color="#f4c73a"/><stop offset="0.6875" stop-color="#f6c33a"/><stop offset="0.71875" stop-color="#f8be39"/><stop offset="0.75" stop-color="#fbb838"/><stop offset="0.78125" stop-color="#fcb136"/><stop offset="0.8125" stop-color="#fea732"/><stop offset="0.84375" stop-color="#fea130"/><stop offset="0.875" stop-color="#fe9e2f"/><stop offset="0.90625" stop-color="#fe962b"/><stop offset="0.9375" stop-color="#fd8d27"/><stop offset="0.96875" stop-color="#fd8a26"/><stop offset="1" stop-color="#fe962b"/></linearGradient>
<linearGradient id="g141"><stop offset="0" stop-color="#477bf2"/><stop offset="0.03125" stop-color="#4687fb"/><stop offset="0.0625" stop-color="#4391fe"/><stop offset="0.09375" stop-color="#4099ff"/><stop offset="0.125" stop-color="#3d9efe"/><stop offset="0.15625" stop-color="#3ba0fd"/><stop offset="0.1875" stop-color="#37a8fa"/><stop offset="0.21875" stop-color="#2fb2f4"/><stop offset="0.25" stop-color="#28bceb"/><stop offset="0.28125" stop-color="#22c5e2"/><stop offset="0.3125" stop-color="#1bd0d5"/><stop offset="0.34375" stop-color="#18ddc2"/><stop offset="0.375" stop-color="#20eaac"/><stop offset="0.40625" stop-color="#32f298"/><stop offset="0.4375" stop-color="#43f787"/><stop offset="0.46875" stop-color="#55fa76"/><stop offset="0.5" stop-color="#6dfe62"/><stop offset="0.53125" stop-color="#99fe42"/><stop offset="0.5625" stop-color="#bcf534"/><stop offset="0.59375" stop-color="#d9e436"/><stop offset="0.625" stop-color="#ebd339"/><stop offset="0.65625" stop-color="#f2c93a"/><stop offset="0.6875" stop-color="#f5c53a"/><stop offset="0.71875" stop-color="#f7c13a"/><stop offset="0.75" stop-color="#faba39"/><stop offset="0.78125" stop-color="#fcb336"/><stop offset="0.8125" stop-color="#fea933"/><stop offset="0.84375" stop-color="#fea431"/><stop offset="0.875" stop-color="#fe9e2f"/><stop offset="0.90625" stop-color="#fe962b"/><stop offset="0.9375" stop-color="#fd8d27"/><stop offset="0.96875" stop-color="#fd8a26"/><stop offset="1" stop-color="#fe962b"/></linearGradient>
<linearGradient id="g142"><stop offset="0" stop-color="#477bf2"/><stop offset="0.03125" stop-color="#4687fb"/><stop offset="0.0625" stop-color="#4391fe"/><stop offset="0.09375" stop-color="#4196ff"/><stop offset="0.125" stop-color="#3e9bfe"/><stop offset="0.15625" stop-color="#3ba0fd"/><stop offset="0.1875" stop-color="#38a5fb"/><stop offset="0.21875" stop-color="#31aff5"/><stop offset="0.25" stop-color="#2ab9ee"/><stop offset="0.28125" stop-color="#23c3e4"/><stop offset="0.3125" stop-color="#1ccdd8"/><stop offset="0.34375" stop-color="#18dbc5"/><stop offset="0.375" stop-color="#1de7b2"/><stop offset="0.40625" stop-color="#2cf09e"/><stop offset="0.4375" stop-color="#3ff68a"/><stop offset="0.46875" stop-color="#4ef97d"/><stop offset="0.5" stop-color="#65fd69"/><stop offset="0.53125" stop-color="#8fff49"/><stop offset="0.5625" stop-color="#b4f836"/><stop offset="0.59375" stop-color="#d4e735"/><stop offset="0.625" stop-color="#e7d739"/><stop offset="0.65625" stop-color="#efcd3a"/><stop offset="0.6875" stop-color="#f4c73a"/><stop offset="0.71875" stop-color="#f6c33a"/><stop offset="0.75" stop-color="#f8be39"/><stop offset="0.78125" stop-color="#fcb336"/><stop offset="0.8125" stop-color="#fdac34"/><stop offset="0.84375" stop-color="#fea732"/><stop offset="0.875" stop-color="#fe9e2f"/><stop offset="0.90625" stop-color="#fe962b"/><stop offset="0.9375" stop-color="#fd8d27"/><stop offset="0.96875" stop-color="#fd8a26"/><stop offset="1" stop-color="#fe962b"/></linearGradient>
<linearGradient id="g143"><stop offset="0" stop-color="#477bf2"/><stop offset="0.03125" stop-color="#4687fb"/><stop offset="0.0625" stop-color="#4391fe"/><stop offset="0.09375" stop-color="#4196ff"/><stop offset="0.125" stop-color="#3e9bfe"/><stop offset="0.15625" stop-color="#3d9efe"/><stop offset="0.1875" stop-color="#3aa3fc"/><stop offset="0.21875" stop-color="#33adf7"/><stop offset="0.25" stop-color="#2cb7f0"/><stop offset="0.28125" stop-color="#27bee9"/><stop offset="0.3125" stop-color="#1fc9dd"/><stop offset="0.34375" stop-color="#18d7ca"/><stop offset="0.375" stop-color="#1ce6b4"/><stop offset="0.40625" stop-color="#2aefa1"/><stop offset="0.4375" stop-color="#38f491"/><stop offset="0.46875" stop-color="#4af880"/><stop offset="0.5" stop-color="#5dfc6f"/><stop offset="0.53125" stop-color="#84ff51"/><stop offset="0.5625" stop-color="#acfb38"/><stop offset="0.59375" stop-color="#cdec34"/><stop offset="0.625" stop-color="#e3db38"/><stop offset="0.65625" stop-color="#ecd13a"/><stop offset="0.6875" stop-color="#f1cb3a"/><stop offset="0.71875" stop-color="#f4c73a"/><stop offset="0.75" stop-color="#f7c13a"/><stop offset="0.78125" stop-color="#fbb637"/><stop offset="0.8125" stop-color="#fdac34"/><stop offset="0.84375" stop-color="#fea732"/><stop offset="0.875" stop-color="#fea130"/><stop offset="0.90625" stop-color="#fe992c"/><stop offset="0.9375" stop-color="#fe9029"/><stop offset="0.96875" stop-color="#fd8d27"/><stop offset="1" stop-color="#fe962b"/></linearGradient>
<linearGradient id="g144"><stop offset="0" stop-color="#477bf2"/><stop offset="0.03125" stop-color="#458afc"/><stop offset="0.0625" stop-color="#4391fe"/><stop offset="0.09375" stop-color="#4196ff"/><stop offset="0.125" stop-color="#4099ff"/><stop offset="0.15625" stop-color="#3d9efe"/><stop offset="0.1875" stop-color="#3aa3fc"/><stop offset="0.21875" stop-color="#35abf8"/><stop offset="0.25" stop-color="#2eb4f2"/><stop offset="0.28125" stop-color="#28bceb"/><stop offset="0.3125" stop-color="#20c7df"/><stop offset="0.34375" stop-color="#19d5cd"/><stop offset="0.375" stop-color="#19e3b9"/><stop offset="0.40625" stop-color="#25eca7"/><stop offset="0.4375" stop-color="#35f394"/><stop offset="0.46875" stop-color="#43f787"/><stop offset="0.5" stop-color="#55fa76"/><stop offset="0.53125" stop-color="#7dff56"/><stop offset="0.5625" stop-color="#a4fc3c"/><stop offset="0.59375" stop-color="#c3f134"/><stop offset="0.625" stop-color="#dde037"/><stop offset="0.65625" stop-color="#ebd339"/><stop offset="0.6875" stop-color="#efcd3a"/><stop offset="0.71875" stop-color="#f2c93a"/><stop offset="0.75" stop-color="#f6c33a"/><stop offset="0.78125" stop-color="#fbb838"/><stop offset="0.8125" stop-color="#fdae35"/><stop offset="0.84375" stop-color="#fea933"/><stop offset="0.875" stop-color="#fea130"/><stop offset="0.90625" stop-color="#fe992c"/><stop offset="0.9375" stop-color="#fe9029"/><stop offset="0.96875" stop-color="#fd8d27"/><stop offset="1" stop-color="#fe962b"/></linearGradient>
<linearGradient id="g145"><stop offset="0" stop-color="#467df4"/><stop offset="0.03125" stop-color="#458afc"/><stop offset="0.0625" stop-color="#4391fe"/><stop offset="0.09375" stop-color="#4196ff"/><stop offset="0.125" stop-color="#4099ff"/><stop offset="0.15625" stop-color="#3e9bfe"/><stop offset="0.1875" stop-color="#3ba0fd"/><stop offset="0.21875" stop-color="#37a8fa"/><stop offset="0.25" stop-color="#2fb2f4"/><stop offset="0.28125" stop-color="#2ab9ee"/><stop offset="0.3125" stop-color="#23c3e4"/><stop offset="0.34375" stop-color="#1ad2d2"/><stop offset="0.375" stop-color="#18e0bd"/><stop offset="0.40625" stop-color="#22ebaa"/><stop offset="0.4375" stop-color="#32f298"/><stop offset="0.46875" stop-color="#3ff68a"/><stop offset="0.5" stop-color="#4ef97d"/><stop offset="0.53125" stop-color="#71fe5f"/><stop offset="0.5625" stop-color="#99fe42"/><stop offset="0.59375" stop-color="#bcf534"/><stop offset="0.625" stop-color="#d7e535"/><stop offset="0.65625" stop-color="#e7d739"/><stop offset="0.6875" stop-color="#eecf3a"/><stop offset="0.71875" stop-color="#f1cb3a"/><stop offset="0.75" stop-color="#f5c53a"/><stop offset="0.78125" stop-color="#faba39"/><stop offset="0.8125" stop-color="#fcb136"/><stop offset="0.84375" stop-color="#fea933"/><stop offset="0.875" stop-color="#fea431"/><stop offset="0.90625" stop-color="#fe9b2d"/><stop offset="0.9375" stop-color="#fe932a"/><stop offset="0.96875" stop-color="#fe9029"/><stop offset="1" stop-color="#fe992c"/></linearGradient>
<linearGradient id="g146"><stop offset="0" stop-color="#467df4"/><stop offset="0.03125" stop-color="#458cfd"/><stop offset="0.0625" stop-color="#4294ff"/><stop offset="0.09375" stop-color="#4196ff"/><stop offset="0.125" stop-color="#4099ff"/><stop offset="0.15625" stop-color="#3e9bfe"/><stop offset="0.1875" stop-color="#3ba0fd"/><stop offset="0.21875" stop-color="#37a8fa"/><stop offset="0.25" stop-color="#31aff5"/><stop offset="0.28125" stop-color="#2cb7f0"/><stop offset="0.3125" stop-color="#25c0e7"/><stop offset="0.34375" stop-color="#1ccdd8"/><stop offset="0.375" stop-color="#18ddc2"/><stop offset="0.40625" stop-color="#1fe9af"/><stop offset="0.4375" stop-color="#2cf09e"/><stop offset="0.46875" stop-color="#38f491"/><stop offset="0.5" stop-color="#46f884"/><stop offset="0.53125" stop-color="#65fd69"/><stop offset="0.5625" stop-color="#8fff49"/><stop offset="0.59375" stop-color="#b4f836"/><stop offset="0.625" stop-color="#d0ea34"/><stop offset="0.65625" stop-color="#e3db38"/><stop offset="0.6875" stop-color="#ebd339"/><stop offset="0.71875" stop-color="#efcd3a"/><stop offset="0.75" stop-color="#f4c73a"/><stop offset="0.78125" stop-color="#f9bc39"/><stop offset="0.8125" stop-color="#fcb336"/><stop offset="0.84375" stop-color="#fdac34"/><stop offset="0.875" stop-color="#fea431"/><stop offset="0.90625" stop-color="#fe9b2d"/><stop offset="0.9375" stop-color="#fe932a"/><stop offset="0.96875" stop-color="#fe9029"/><stop offset="1" stop-color="#fe992c"/></linearGradient>
<linearGradient id="g147"><stop offset="0" stop-color="#467df4"/><stop offset="0.03125" stop-color="#458cfd"/><stop offset="0.0625" stop-color="#4294ff"/><stop offset="0.09375" stop-color="#4196ff"/><stop offset="0.125" stop-color="#4099ff"/><stop offset="0.15625" stop-color="#3e9bfe"/><stop offset="0.1875" stop-color="#3d9efe"/><stop offset="0.21875" stop-color="#38a5fb"/><stop offset="0.25" stop-color="#33adf7"/><stop offset="0.28125" stop-color="#2eb4f2"/><stop offset="0.3125" stop-color="#28bceb"/><stop offset="0.34375" stop-color="#1fc9dd"/><stop offset="0.375" stop-color="#18d9c8"/><stop offset="0.40625" stop-color="#1ce6b4"/><stop offset="0.4375" stop-color="#2aefa1"/><stop offset="0.46875" stop-color="#32f298"/><stop offset="0.5" stop-color="#3ff68a"/><stop offset="0.53125" stop-color="#59fb73"/><stop offset="0.5625" stop-color="#84ff51"/><stop offset="0.59375" stop-color="#a9fb39"/><stop offset="0.625" stop-color="#cbed34"/><stop offset="0.65625" stop-color="#dfdf37"/><stop offset="0.6875" stop-color="#e9d539"/><stop offset="0.71875" stop-color="#eecf3a"/><stop offset="0.75" stop-color="#f2c93a"/><stop offset="0.78125" stop-color="#f8be39"/><stop offset="0.8125" stop-color="#fcb336"/><stop offset="0.84375" stop-color="#fdac34"/><stop offset="0.875" stop-color="#fea732"/><stop offset="0.90625" stop-color="#fe9e2f"/><stop offset="0.9375" stop-color="#fe962b"/><stop offset="0.96875" stop-color="#fe932a"/><stop offset="1" stop-color="#fe992c"/></linearGradient>
<linearGradient id="g148"><stop offset="0" stop-color="#4680f6"/><stop offset="0.03125" stop-color="#448ffe"/><stop offset="0.0625" stop-color="#4294ff"/><stop offset="0.09375" stop-color="#4196ff"/><stop offset="0.125" stop-color="#4196ff"/><stop offset="0.15625" stop-color="#4099ff"/><stop offset="0.1875" stop-color="#3d9efe"/><stop offset="0.21875" stop-color="#3aa3fc"/><stop offset="0.25" stop-color="#35abf8"/><stop offset="0.28125" stop-color="#31aff5"/><stop offset="0.3125" stop-color="#2ab9ee"/><stop offset="0.34375" stop-color="#20c7df"/><stop offset="0.375" stop-color="#19d5cd"/><stop offset="0.40625" stop-color="#19e3b9"/><stop offset="0.4375" stop-color="#25eca7"/><stop offset="0.46875" stop-color="#2ff19b"/><stop offset="0.5" stop-color="#38f491"/><stop offset="0.53125" stop-color="#4ef97d"/><stop offset="0.5625" stop-color="#75fe5c"/><stop offset="0.59375" stop-color="#a1fd3d"/><stop offset="0.625" stop-color="#c3f134"/><stop offset="0.65625" stop-color="#dbe236"/><stop offset="0.6875" stop-color="#e7d739"/><stop offset="0.71875" stop-color="#ecd13a"/><stop offset="0.75" stop-color="#f1cb3a"/><stop offset="0.78125" stop-color="#f7c13a"/><stop offset="0.8125" stop-color="#fbb637"/><stop offset="0.84375" stop-color="#fdae35"/><stop offset="0.875" stop-color="#fea732"/><stop offset="0.90625" stop-color="#fe9e2f"/><stop offset="0.9375" stop-color="#fe992c"/><stop offset="0.96875" stop-color="#fe962b"/><stop offset="1" stop-color="#fe992c"/></linearGradient>
<linearGradient id="g149"><stop offset="0" stop-color="#4682f8"/><stop offset="0.03125" stop-color="#448ffe"/><stop offset="0.0625" stop-color="#4196ff"/><stop offset="0.09375" stop-color="#4196ff"/><stop offset="0.125" stop-color="#4196ff"/><stop offset="0.15625" stop-color="#4099ff"/><stop offset="0.1875" stop-color="#3e9bfe"/><stop offset="0.21875" stop-color="#3aa3fc"/><stop offset="0.25" stop-color="#37a8fa"/><stop offset="0.28125" stop-color="#33adf7"/><stop offset="0.3125" stop-color="#2eb4f2"/><stop offset="0.34375" stop-color="#23c3e4"/><stop offset="0.375" stop-color="#1ad2d2"/><stop offset="0.40625" stop-color="#19e2bb"/><stop offset="0.4375" stop-color="#22ebaa"/><stop offset="0.46875" stop-color="#2aefa1"/><stop offset="0.5" stop-color="#32f298"/><stop offset="0.53125" stop-color="#46f884"/><stop offset="0.5625" stop-color="#69fd66"/><stop offset="0.59375" stop-color="#99fe42"/><stop offset="0.625" stop-color="#bcf534"/><stop offset="0.65625" stop-color="#d7e535"/><stop offset="0.6875" stop-color="#e5d938"/><stop offset="0.71875" stop-color="#ebd339"/><stop offset="0.75" stop-color="#efcd3a"/><stop offset="0.78125" stop-color="#f6c33a"/><stop offset="0.8125" stop-color="#fbb838"/><stop offset="0.84375" stop-color="#fdae35"/><stop offset="0.875" stop-color="#fea732"/><stop offset="0.90625" stop-color="#fea130"/><stop offset="0.9375" stop-color="#fe992c"/><stop offset="0.96875" stop-color="#fe962b"/><stop offset="1" stop-color="#fe992c"/></linearGradient>
<linearGradient id="g150"><stop offset="0" stop-color="#4682f8"/><stop offset="0.03125" stop-color="#4391fe"/><stop offset="0.0625" stop-color="#4196ff"/><stop offset="0.09375" stop-color="#4196ff"/><stop offset="0.125" stop-color="#4196ff"/><stop offset="0.15625" stop-color="#4099ff"/><stop offset="0.1875" stop-color="#3e9bfe"/><stop offset="0.21875" stop-color="#3ba0fd"/><stop offset="0.25" stop-color="#38a5fb"/><stop offset="0.28125" stop-color="#35abf8"/><stop offset="0.3125" stop-color="#2fb2f4"/><stop offset="0.34375" stop-color="#27bee9"/><stop offset="0.375" stop-color="#1ccdd8"/><stop offset="0.40625" stop-color="#18dec0"/><stop offset="0.4375" stop-color="#1fe9af"/><stop offset="0.46875" stop-color="#27eea4"/><stop offset="0.5" stop-color="#2cf09e"/><stop offset="0.53125" stop-color="#3cf58e"/><stop offset="0.5625" stop-color="#5dfc6f"/><stop offset="0.59375" stop-color="#8fff49"/><stop offset="0.625" stop-color="#b4f836"/><stop offset="0.65625" stop-color="#d2e935"/><stop offset="0.6875" stop-color="#e1dd37"/><stop offset="0.71875" stop-color="#e9d539"/><stop offset="0.75" stop-color="#eecf3a"/><stop offset="0.78125" stop-color="#f5c53a"/><stop offset="0.8125" stop-color="#faba39"/><stop offset="0.84375" stop-color="#fcb136"/><stop offset="0.875" stop-color="#fea933"/><stop offset="0.90625" stop-color="#fea130"/><stop offset="0.9375" stop-color="#fe9b2d"/><stop offset="0.96875" stop-color="#fe992c"/><stop offset="1" stop-color="#fe992c"/></linearGradient>
<linearGradient id="g151"><stop offset="0" stop-color="#4685fa"/><stop offset="0.03125" stop-color="#4294ff"/><stop offset="0.0625" stop-color="#4196ff"/><stop offset="0.09375" stop-color="#4196ff"/><stop offset="0.125" stop-color="#4196ff"/><stop offset="0.15625" stop-color="#4196ff"/><stop offset="0.1875" stop-color="#3e9bfe"/><stop offset="0.21875" stop-color="#3ba0fd"/><stop offset="0.25" stop-color="#3aa3fc"/><stop offset="0.28125" stop-color="#37a8fa"/><stop offset="0.3125" stop-color="#31aff5"/><stop offset="0.34375" stop-color="#2ab9ee"/><stop offset="0.375" stop-color="#1fc9dd"/><stop offset="0.40625" stop-color="#18dbc5"/><stop offset="0.4375" stop-color="#1de7b2"/><stop offset="0.46875" stop-color="#22ebaa"/><stop offset="0.5" stop-color="#27eea4"/><stop offset="0.53125" stop-color="#35f394"/><stop offset="0.5625" stop-color="#52fa7a"/><stop offset="0.59375" stop-color="#84ff51"/><stop offset="0.625" stop-color="#affa37"/><stop offset="0.65625" stop-color="#cdec34"/><stop offset="0.6875" stop-color="#dfdf37"/><stop offset="0.71875" stop-color="#e7d739"/><stop offset="0.75" stop-color="#ecd13a"/><stop offset="0.78125" stop-color="#f4c73a"/><stop offset="0.8125" stop-color="#f9bc39"/><stop offset="0.84375" stop-color="#fcb136"/><stop offset="0.875" stop-color="#fea933"/><stop offset="0.90625" stop-color="#fea431"/><stop offset="0.9375" stop-color="#fe9e2f"/><stop offset="0.96875" stop-color="#fe9b2d"/><stop offset="1" stop-color="#fe9b2d"/></linearGradient>
<linearGradient id="g152"><stop offset="0" stop-color="#4687fb"/><stop offset="0.03125" stop-color="#4294ff"/><stop offset="0.0625" stop-color="#4099ff"/><stop offset="0.09375" stop-color="#4196ff"/><stop offset="0.125" stop-color="#4196ff"/><stop offset="0.15625" stop-color="#4196ff"/><stop offset="0.1875" stop-color="#4099ff"/><stop offset="0.21875" stop-color="#3d9efe"/><stop offset="0.25" stop-color="#3aa3fc"/><stop offset="0.28125" stop-color="#38a5fb"/><stop offset="0.3125" stop-color="#35abf8"/><stop offset="0.34375" stop-color="#2eb4f2"/><stop offset="0.375" stop-color="#22c5e2"/><stop offset="0.40625" stop-color="#18d7ca"/><stop offset="0.4375" stop-color="#1ae4b6"/><stop offset="0.46875" stop-color="#20eaac"/><stop offset="0.5" stop-color="#22ebaa"/><stop offset="0.53125" stop-color="#2cf09e"/><stop offset="0.5625" stop-color="#46f884"/><stop offset="0.59375" stop-color="#79fe59"/><stop offset="0.625" stop-color="#a7fc3a"/><stop offset="0.65625" stop-color="#c8ef34"/><stop offset="0.6875" stop-color="#dde037"/><stop offset="0.71875" stop-color="#e5d938"/><stop offset="0.75" stop-color="#ebd339"/><stop offset="0.78125" stop-color="#f2c93a"/><stop offset="0.8125" stop-color="#f9bc39"/><stop offset="0.84375" stop-color="#fcb336"/><stop offset="0.875" stop-color="#fea933"/><stop offset="0.90625" stop-color="#fea431"/><stop offset="0.9375" stop-color="#fea130"/><stop offset="0.96875" stop-color="#fe9e2f"/><stop offset="1" stop-color="#fe9b2d"/></linearGradient>
<linearGradient id="g153"><stop offset="0" stop-color="#458afc"/><stop offset="0.03125" stop-color="#4196ff"/><stop offset="0.0625" stop-color="#4099ff"/><stop offset="0.09375" stop-color="#4099ff"/><stop offset="0.125" stop-color="#4196ff"/><stop offset="0.15625" stop-color="#4196ff"/><stop offset="0.1875" stop-color="#4099ff"/><stop offset="0.21875" stop-color="#3d9efe"/><stop offset="0.25" stop-color="#3ba0fd"/><stop offset="0.28125" stop-color="#3aa3fc"/><stop offset="0.3125" stop-color="#37a8fa"/><stop offset="0.34375" stop-color="#2fb2f4"/><stop offset="0.375" stop-color="#23c3e4"/><stop offset="0.40625" stop-color="#19d5cd"/><stop offset="0.4375" stop-color="#19e3b9"/><stop offset="0.46875" stop-color="#1de7b2"/><stop offset="0.5" stop-color="#20eaac"/><stop offset="0.53125" stop-color="#27eea4"/><stop offset="0.5625" stop-color="#3ff68a"/><stop offset="0.59375" stop-color="#71fe5f"/><stop offset="0.625" stop-color="#a1fd3d"/><stop offset="0.65625" stop-color="#c3f134"/><stop offset="0.6875" stop-color="#dbe236"/><stop offset="0.71875" stop-color="#e3db38"/><stop offset="0.75" stop-color="#e9d539"/><stop offset="0.78125" stop-color="#f1cb3a"/><stop offset="0.8125" stop-color="#f8be39"/><stop offset="0.84375" stop-color="#fcb336"/><stop offset="0.875" stop-color="#fdac34"/><stop offset="0.90625" stop-color="#fea732"/><stop offset="0.9375" stop-color="#fea130"/><stop offset="0.96875" stop-color="#fe9e2f"/><stop offset="1" stop-color="#fe9b2d"/></linearGradient>
<linearGradient id="g154"><stop offset="0" stop-color="#458cfd"/><stop offset="0.03125" stop-color="#4196ff"/><stop offset="0.0625" stop-color="#4099ff"/><stop offset="0.09375" stop-color="#4099ff"/><stop offset="0.125" stop-color="#4196ff"/><stop offset="0.15625" stop-color="#4196ff"/><stop offset="0.1875" stop-color="#4099ff"/><stop offset="0.21875" stop-color="#3e9bfe"/><stop offset="0.25" stop-color="#3d9efe"/><stop offset="0.28125" stop-color="#3aa3fc"/><stop offset="0.3125" stop-color="#38a5fb"/><stop offset="0.34375" stop-color="#31aff5"/><stop offset="0.375" stop-color="#27bee9"/><stop offset="0.40625" stop-color="#1ad2d2"/><stop offset="0.4375" stop-color="#18e0bd"/><stop offset="0.46875" stop-color="#1ce6b4"/><stop offset="0.5" stop-color="#1de7b2"/><stop offset="0.53125" stop-color="#22ebaa"/><stop offset="0.5625" stop-color="#38f491"/><stop offset="0.59375" stop-color="#65fd69"/><stop offset="0.625" stop-color="#9cfe40"/><stop offset="0.65625" stop-color="#c1f334"/><stop offset="0.6875" stop-color="#d9e436"/><stop offset="0.71875" stop-color="#e3db38"/><stop offset="0.75" stop-color="#e9d539"/><stop offset="0.78125" stop-color="#efcd3a"/><stop offset="0.8125" stop-color="#f7c13a"/><stop offset="0.84375" stop-color="#fbb637"/><stop offset="0.875" stop-color="#fdac34"/><stop offset="0.90625" stop-color="#fea732"/><stop offset="0.9375" stop-color="#fea431"/><stop offset="0.96875" stop-color="#fea130"/><stop offset="1" stop-color="#fe9b2d"/></linearGradient>
<linearGradient id="g155"><stop offset="0" stop-color="#448ffe"/><stop offset="0.03125" stop-color="#4099ff"/><stop offset="0.0625" stop-color="#3e9bfe"/><stop offset="0.09375" stop-color="#4099ff"/><stop offset="0.125" stop-color="#4196ff"/><stop offset="0.15625" stop-color="#4196ff"/><stop offset="0.1875" stop-color="#4196ff"/><stop offset="0.21875" stop-color="#3e9bfe"/><stop offset="0.25" stop-color="#3d9efe"/><stop offset="0.28125" stop-color="#3ba0fd"/><stop offset="0.3125" stop-color="#3aa3fc"/><stop offset="0.34375" stop-color="#35abf8"/><stop offset="0.375" stop-color="#2ab9ee"/><stop offset="0.40625" stop-color="#1bd0d5"/><stop offset="0.4375" stop-color="#18dec0"/><stop offset="0.46875" stop-color="#1ae4b6"/><stop offset="0.5" stop-color="#1ce6b4"/><stop offset="0.53125" stop-color="#20eaac"/><stop offset="0.5625" stop-color="#32f298"/><stop offset="0.59375" stop-color="#61fc6c"/><stop offset="0.625" stop-color="#99fe42"/><stop offset="0.65625" stop-color="#bef434"/><stop offset="0.6875" stop-color="#d7e535"/><stop offset="0.71875" stop-color="#e1dd37"/><stop offset="0.75" stop-color="#e7d739"/><stop offset="0.78125" stop-color="#efcd3a"/><stop offset="0.8125" stop-color="#f6c33a"/><stop offset="0.84375" stop-color="#fbb838"/><stop offset="0.875" stop-color="#fdae35"/><stop offset="0.90625" stop-color="#fea732"/><stop offset="0.9375" stop-color="#fea431"/><stop offset="0.96875" stop-color="#fea130"/><stop offset="1" stop-color="#fe9e2f"/></linearGradient>
<linearGradient id="g156"><stop offset="0" stop-color="#4391fe"/><stop offset="0.03125" stop-color="#4099ff"/><stop offset="0.0625" stop-color="#3e9bfe"/><stop offset="0.09375" stop-color="#4099ff"/><stop offset="0.125" stop-color="#4196ff"/><stop offset="0.15625" stop-color="#4294ff"/><stop offset="0.1875" stop-color="#4196ff"/><stop offset="0.21875" stop-color="#4099ff"/><stop offset="0.25" stop-color="#3e9bfe"/><stop offset="0.28125" stop-color="#3d9efe"/><stop offset="0.3125" stop-color="#3aa3fc"/><stop offset="0.34375" stop-color="#37a8fa"/><stop offset="0.375" stop-color="#2cb7f0"/><stop offset="0.40625" stop-color="#1ecbda"/><stop offset="0.4375" stop-color="#18ddc2"/><stop offset="0.46875" stop-color="#19e2bb"/><stop offset="0.5" stop-color="#1ae4b6"/><stop offset="0.53125" stop-color="#1de7b2"/><stop offset="0.5625" stop-color="#2cf09e"/><stop offset="0.59375" stop-color="#59fb73"/><stop offset="0.625" stop-color="#96fe44"/><stop offset="0.65625" stop-color="#bcf534"/><stop offset="0.6875" stop-color="#d4e735"/><stop offset="0.71875" stop-color="#dfdf37"/><stop offset="0.75" stop-color="#e5d938"/><stop offset="0.78125" stop-color="#eecf3a"/><stop offset="0.8125" stop-color="#f5c53a"/><stop offset="0.84375" stop-color="#fbb838"/><stop offset="0.875" stop-color="#fdae35"/><stop offset="0.90625" stop-color="#fea933"/><stop offset="0.9375" stop-color="#fea431"/><stop offset="0.96875" stop-color="#fea130"/><stop offset="1" stop-color="#fe9e2f"/></linearGradient>
<linearGradient id="g157"><stop offset="0" stop-color="#4294ff"/><stop offset="0.03125" stop-color="#3e9bfe"/><stop offset="0.0625" stop-color="#3e9bfe"/><stop offset="0.09375" stop-color="#4099ff"/><stop offset="0.125" stop-color="#4196ff"/><stop offset="0.15625" stop-color="#4294ff"/><stop offset="0.1875" stop-color="#4196ff"/><stop offset="0.21875" stop-color="#4099ff"/><stop offset="0.25" stop-color="#3e9bfe"/><stop offset="0.28125" stop-color="#3d9efe"/><stop offset="0.3125" stop-color="#3ba0fd"/><stop offset="0.34375" stop-color="#37a8fa"/><stop offset="0.375" stop-color="#2eb4f2"/><stop offset="0.40625" stop-color="#1fc9dd"/><stop offset="0.4375" stop-color="#18d9c8"/><stop offset="0.46875" stop-color="#18e0bd"/><stop offset="0.5" stop-color="#19e3b9"/><stop offset="0.53125" stop-color="#1ce6b4"/><stop offset="0.5625" stop-color="#2aefa1"/><stop offset="0.59375" stop-color="#55fa76"/><stop offset="0.625" stop-color="#92ff47"/><stop offset="0.65625" stop-color="#b9f635"/><stop offset="0.6875" stop-color="#d2e935"/><stop offset="0.71875" stop-color="#dfdf37"/><stop offset="0.75" stop-color="#e5d938"/><stop offset="0.78125" stop-color="#ecd13a"/><stop offset="0.8125" stop-color="#f5c53a"/><stop offset="0.84375" stop-color="#faba39"/><stop offset="0.875" stop-color="#fdae35"/><stop offset="0.90625" stop-color="#fea933"/><stop offset="0.9375" stop-color="#fea732"/><stop offset="0.96875" stop-color="#fea431"/><stop offset="1" stop-color="#fe9e2f"/></linearGradient>
<linearGradient id="g158"><stop offset="0" stop-color="#4196ff"/><stop offset="0.03125" stop-color="#3e9bfe"/><stop offset="0.0625" stop-color="#3e9bfe"/><stop offset="0.09375" stop-color="#4099ff"/><stop offset="0.125" stop-color="#4196ff"/><stop offset="0.15625" stop-color="#4294ff"/><stop offset="0.1875" stop-color="#4196ff"/><stop offset="0.21875" stop-color="#4196ff"/><stop offset="0.25" stop-color="#4099ff"/><stop offset="0.28125" stop-color="#3e9bfe"/><stop offset="0.3125" stop-color="#3ba0fd"/><stop offset="0.34375" stop-color="#38a5fb"/><stop offset="0.375" stop-color="#2fb2f4"/><stop offset="0.40625" stop-color="#20c7df"/><stop offset="0.4375" stop-color="#18d7ca"/><stop offset="0.46875" stop-color="#18dec0"/><stop offset="0.5" stop-color="#19e2bb"/><stop offset="0.53125" stop-color="#1ce6b4"/><stop offset="0.5625" stop-color="#2aefa1"/><stop offset="0.59375" stop-color="#55fa76"/><stop offset="0.625" stop-color="#8fff49"/><stop offset="0.65625" stop-color="#b7f735"/><stop offset="0.6875" stop-color="#d0ea34"/><stop offset="0.71875" stop-color="#dde037"/><stop offset="0.75" stop-color="#e5d938"/><stop offset="0.78125" stop-color="#ecd13a"/><stop offset="0.8125" stop-color="#f4c73a"/><stop offset="0.84375" stop-color="#f9bc39"/><stop offset="0.875" stop-color="#fcb136"/><stop offset="0.90625" stop-color="#fea933"/><stop offset="0.9375" stop-color="#fea732"/><stop offset="0.96875" stop-color="#fea431"/><stop offset="1" stop-color="#fe9e2f"/></linearGradient>
<linearGradient id="g159"><stop offset="0" stop-color="#3e9bfe"/><stop offset="0.03125" stop-color="#3d9efe"/><stop offset="0.0625" stop-color="#3e9bfe"/><stop offset="0.09375" stop-color="#4099ff"/><stop offset="0.125" stop-color="#4196ff"/><stop offset="0.15625" stop-color="#4294ff"/><stop offset="0.1875" stop-color="#4294ff"/><stop offset="0.21875" stop-color="#4196ff"/><stop offset="0.25" stop-color="#4099ff"/><stop offset="0.28125" stop-color="#3e9bfe"/><stop offset="0.3125" stop-color="#3ba0fd"/><stop offset="0.34375" stop-color="#38a5fb"/><stop offset="0.375" stop-color="#2fb2f4"/><stop offset="0.40625" stop-color="#22c5e2"/><stop offset="0.4375" stop-color="#19d5cd"/><stop offset="0.46875" stop-color="#18ddc2"/><stop offset="0.5" stop-color="#18e0bd"/><stop offset="0.53125" stop-color="#1ae4b6"/><stop offset="0.5625" stop-color="#2aefa1"/><stop offset="0.59375" stop-color="#55fa76"/><stop offset="0.625" stop-color="#8fff49"/><stop offset="0.65625" stop-color="#b7f735"/><stop offset="0.6875" stop-color="#d0ea34"/><stop offset="0.71875" stop-color="#dde037"/><stop offset="0.75" stop-color="#e3db38"/><stop offset="0.78125" stop-color="#ecd13a"/><stop offset="0.8125" stop-color="#f2c93a"/><stop offset="0.84375" stop-color="#f9bc39"/><stop offset="0.875" stop-color="#fcb136"/><stop offset="0.90625" stop-color="#fea933"/><stop offset="0.9375" stop-color="#fea732"/><stop offset="0.96875" stop-color="#fea431"/><stop offset="1" stop-color="#fea130"/></linearGradient>
<linearGradient id="g160"><stop offset="0" stop-color="#3d9efe"/><stop offset="0.03125" stop-color="#3d9efe"/><stop offset="0.0625" stop-color="#3e9bfe"/><stop offset="0.09375" stop-color="#4099ff"/><stop offset="0.125" stop-color="#4196ff"/><stop offset="0.15625" stop-color="#4294ff"/><stop offset="0.1875" stop-color="#4294ff"/><stop offset="0.21875" stop-color="#4294ff"/><stop offset="0.25" stop-color="#4196ff"/><stop offset="0.28125" stop-color="#3e9bfe"/><stop offset="0.3125" stop-color="#3ba0fd"/><stop offset="0.34375" stop-color="#38a5fb"/><stop offset="0.375" stop-color="#2fb2f4"/><stop offset="0.40625" stop-color="#23c3e4"/><stop offset="0.4375" stop-color="#1ad4d0"/><stop offset="0.46875" stop-color="#18dbc5"/><stop offset="0.5" stop-color="#18e0bd"/><stop offset="0.53125" stop-color="#1ce6b4"/><stop offset="0.5625" stop-color="#2aefa1"/><stop offset="0.59375" stop-color="#59fb73"/><stop offset="0.625" stop-color="#92ff47"/><stop offset="0.65625" stop-color="#b7f735"/><stop offset="0.6875" stop-color="#cdec34"/><stop offset="0.71875" stop-color="#dbe236"/><stop offset="0.75" stop-color="#e3db38"/><stop offset="0.78125" stop-color="#ebd339"/><stop offset="0.8125" stop-color="#f2c93a"/><stop offset="0.84375" stop-color="#f8be39"/><stop offset="0.875" stop-color="#fcb336"/><stop offset="0.90625" stop-color="#fea933"/><stop offset="0.9375" stop-color="#fea431"/><stop offset="0.96875" stop-color="#fea130"/><stop offset="1" stop-color="#fea130"/></linearGradient>
<linearGradient id="g161"><stop offset="0" stop-color="#3ba0fd"/><stop offset="0.03125" stop-color="#3d9efe"/><stop offset="0.0625" stop-color="#3e9bfe"/><stop offset="0.09375" stop-color="#4099ff"/><stop offset="0.125" stop-color="#4196ff"/><stop offset="0.15625" stop-color="#4294ff"/><stop offset="0.1875" stop-color="#4294ff"/><stop offset="0.21875" stop-color="#4294ff"/><stop offset="0.25" stop-color="#4196ff"/><stop offset="0.28125" stop-color="#3e9bfe"/><stop offset="0.3125" stop-color="#3ba0fd"/><stop offset="0.34375" stop-color="#38a5fb"/><stop offset="0.375" stop-color="#2fb2f4"/><stop offset="0.40625" stop-color="#23c3e4"/><stop offset="0.4375" stop-color="#1ad4d0"/><stop offset="0.46875" stop-color="#18dbc5"/><stop offset="0.5" stop-color="#18e0bd"/><stop offset="0.53125" stop-color="#1ce6b4"/><stop offset="0.5625" stop-color="#2cf09e"/><stop offset="0.59375" stop-color="#59fb73"/><stop offset="0.625" stop-color="#96fe44"/><stop offset="0.65625" stop-color="#b7f735"/><stop offset="0.6875" stop-color="#cdec34"/><stop offset="0.71875" stop-color="#dbe236"/><stop offset="0.75" stop-color="#e3db38"/><stop offset="0.78125" stop-color="#ebd339"/><stop offset="0.8125" stop-color="#f1cb3a"/><stop offset="0.84375" stop-color="#f8be39"/><stop offset="0.875" stop-color="#fcb336"/><stop offset="0.90625" stop-color="#fea933"/><stop offset="0.9375" stop-color="#fea431"/><stop offset="0.96875" stop-color="#fea130"/><stop offset="1" stop-color="#fea130"/></linearGradient>
</defs>
<rect x="0" y="0" width="1100" height="1050" fill="#fff"/>

<!-- titles -->
<text class="sans" x="499.6" y="30.3" text-anchor="middle" font-size="19.4" font-weight="bold" fill="#000">Mississippi Sound, Gulfport</text>
<text class="sans" x="499.6" y="1045" text-anchor="middle" font-size="19.4" font-weight="bold" fill="#000">Mississippi Sound, Gulfport</text>

<!-- instrument legend -->
<circle cx="120.1" cy="45.1" r="6" fill="#fff" stroke="#000" stroke-width="2"/>
<text class="sans" x="129.6" y="49.7" font-size="13.9" font-weight="bold" fill="#000">USM Instrumentation</text>

<!-- vector legend -->
<rect x="582" y="40" width="313" height="40" fill="#fff" stroke="#000" stroke-width="2"/>
<g class="sans" font-size="12.4" font-weight="bold" fill="#000">
<text x="585.6" y="54.9">0.25 kts</text>
<text x="585.6" y="65">0.50 kts</text>
<text x="585.6" y="74.9">0.75 kts</text>
</g>
<g stroke="#111" stroke-width="0.9">
<line x1="803.6" y1="50.4" x2="880" y2="50.4"/>
<line x1="722.6" y1="60.4" x2="880" y2="60.4"/>
<line x1="641.2" y1="70.4" x2="880" y2="70.4"/>
</g>
<polygon points="878.1,45 892.6,50.1 878.1,55.2" fill="#000"/>
<polygon points="878.1,55 892.6,60.1 878.1,65.2" fill="#000"/>
<polygon points="878.1,65 892.6,70.1 878.1,75.2" fill="#000"/>
<text class="sans" x="581.6" y="93.9" font-size="11.2" font-weight="bold" fill="#000">CURRENTS Vectors</text>

<text class="serif" x="500.4" y="114.7" text-anchor="middle" font-size="18.15" font-weight="bold" fill="#000">Salinity at surface FORECAST valid Jul 14 2024 12:00Z</text>
<text class="serif" x="900" y="110" text-anchor="end" font-size="14" font-weight="bold" fill="#000">Gulf of Mexico</text>

<!-- salinity field -->
<g clip-path="url(#mapclip)">
<rect x="100" y="145" width="800" height="5.5" fill="url(#g0)"/>
<rect x="100" y="150" width="800" height="5.5" fill="url(#g1)"/>
<rect x="100" y="155" width="800" height="5.5" fill="url(#g2)"/>
<rect x="100" y="160" width="800" height="5.5" fill="url(#g3)"/>
<rect x="100" y="165" width="800" height="5.5" fill="url(#g4)"/>
<rect x="100" y="170" width="800" height="5.5" fill="url(#g5)"/>
<rect x="100" y="175" width="800" height="5.5" fill="url(#g6)"/>
<rect x="100" y="180" width="800" height="5.5" fill="url(#g7)"/>
<rect x="100" y="185" width="800" height="5.5" fill="url(#g8)"/>
<rect x="100" y="190" width="800" height="5.5" fill="url(#g9)"/>
<rect x="100" y="195" width="800" height="5.5" fill="url(#g10)"/>
<rect x="100" y="200" width="800" height="5.5" fill="url(#g11)"/>
<rect x="100" y="205" width="800" height="5.5" fill="url(#g12)"/>
<rect x="100" y="210" width="800" height="5.5" fill="url(#g13)"/>
<rect x="100" y="215" width="800" height="5.5" fill="url(#g14)"/>
<rect x="100" y="220" width="800" height="5.5" fill="url(#g15)"/>
<rect x="100" y="225" width="800" height="5.5" fill="url(#g16)"/>
<rect x="100" y="230" width="800" height="5.5" fill="url(#g17)"/>
<rect x="100" y="235" width="800" height="5.5" fill="url(#g18)"/>
<rect x="100" y="240" width="800" height="5.5" fill="url(#g19)"/>
<rect x="100" y="245" width="800" height="5.5" fill="url(#g20)"/>
<rect x="100" y="250" width="800" height="5.5" fill="url(#g21)"/>
<rect x="100" y="255" width="800" height="5.5" fill="url(#g22)"/>
<rect x="100" y="260" width="800" height="5.5" fill="url(#g23)"/>
<rect x="100" y="265" width="800" height="5.5" fill="url(#g24)"/>
<rect x="100" y="270" width="800" height="5.5" fill="url(#g25)"/>
<rect x="100" y="275" width="800" height="5.5" fill="url(#g26)"/>
<rect x="100" y="280" width="800" height="5.5" fill="url(#g27)"/>
<rect x="100" y="285" width="800" height="5.5" fill="url(#g28)"/>
<rect x="100" y="290" width="800" height="5.5" fill="url(#g29)"/>
<rect x="100" y="295" width="800" height="5.5" fill="url(#g30)"/>
<rect x="100" y="300" width="800" height="5.5" fill="url(#g31)"/>
<rect x="100" y="305" width="800" height="5.5" fill="url(#g32)"/>
<rect x="100" y="310" width="800" height="5.5" fill="url(#g33)"/>
<rect x="100" y="315" width="800" height="5.5" fill="url(#g34)"/>
<rect x="100" y="320" width="800" height="5.5" fill="url(#g35)"/>
<rect x="100" y="325" width="800" height="5.5" fill="url(#g36)"/>
<rect x="100" y="330" width="800" height="5.5" fill="url(#g37)"/>
<rect x="100" y="335" width="800" height="5.5" fill="url(#g38)"/>
<rect x="100" y="340" width="800" height="5.5" fill="url(#g39)"/>
<rect x="100" y="345" width="800" height="5.5" fill="url(#g40)"/>
<rect x="100" y="350" width="800" height="5.5" fill="url(#g41)"/>
<rect x="100" y="355" width="800" height="5.5" fill="url(#g42)"/>
<rect x="100" y="360" width="800" height="5.5" fill="url(#g43)"/>
<rect x="100" y="365" width="800" height="5.5" fill="url(#g44)"/>
<rect x="100" y="370" width="800" height="5.5" fill="url(#g45)"/>
<rect x="100" y="375" width="800" height="5.5" fill="url(#g46)"/>
<rect x="100" y="380" width="800" height="5.5" fill="url(#g47)"/>
<rect x="100" y="385" width="800" height="5.5" fill="url(#g48)"/>
<rect x="100" y="390" width="800" height="5.5" fill="url(#g49)"/>
<rect x="100" y="395" width="800" height="5.5" fill="url(#g50)"/>
<rect x="100" y="400" width="800" height="5.5" fill="url(#g51)"/>
<rect x="100" y="405" width="800" height="5.5" fill="url(#g52)"/>
<rect x="100" y="410" width="800" height="5.5" fill="url(#g53)"/>
<rect x="100" y="415" width="800" height="5.5" fill="url(#g54)"/>
<rect x="100" y="420" width="800" height="5.5" fill="url(#g55)"/>
<rect x="100" y="425" width="800" height="5.5" fill="url(#g56)"/>
<rect x="100" y="430" width="800" height="5.5" fill="url(#g57)"/>
<rect x="100" y="435" width="800" height="5.5" fill="url(#g58)"/>
<rect x="100" y="440" width="800" height="5.5" fill="url(#g59)"/>
<rect x="100" y="445" width="800" height="5.5" fill="url(#g60)"/>
<rect x="100" y="450" width="800" height="5.5" fill="url(#g61)"/>
<rect x="100" y="455" width="800" height="5.5" fill="url(#g62)"/>
<rect x="100" y="460" width="800" height="5.5" fill="url(#g63)"/>
<rect x="100" y="465" width="800" height="5.5" fill="url(#g64)"/>
<rect x="100" y="470" width="800" height="5.5" fill="url(#g65)"/>
<rect x="100" y="475" width="800" height="5.5" fill="url(#g66)"/>
<rect x="100" y="480" width="800" height="5.5" fill="url(#g67)"/>
<rect x="100" y="485" width="800" height="5.5" fill="url(#g68)"/>
<rect x="100" y="490" width="800" height="5.5" fill="url(#g69)"/>
<rect x="100" y="495" width="800" height="5.5" fill="url(#g70)"/>
<rect x="100" y="500" width="800" height="5.5" fill="url(#g71)"/>
<rect x="100" y="505" width="800" height="5.5" fill="url(#g72)"/>
<rect x="100" y="510" width="800" height="5.5" fill="url(#g73)"/>
<rect x="100" y="515" width="800" height="5.5" fill="url(#g74)"/>
<rect x="100" y="520" width="800" height="5.5" fill="url(#g75)"/>
<rect x="100" y="525" width="800" height="5.5" fill="url(#g76)"/>
<rect x="100" y="530" width="800" height="5.5" fill="url(#g77)"/>
<rect x="100" y="535" width="800" height="5.5" fill="url(#g78)"/>
<rect x="100" y="540" width="800" height="5.5" fill="url(#g79)"/>
<rect x="100" y="545" width="800" height="5.5" fill="url(#g80)"/>
<rect x="100" y="550" width="800" height="5.5" fill="url(#g81)"/>
<rect x="100" y="555" width="800" height="5.5" fill="url(#g82)"/>
<rect x="100" y="560" width="800" height="5.5" fill="url(#g83)"/>
<rect x="100" y="565" width="800" height="5.5" fill="url(#g84)"/>
<rect x="100" y="570" width="800" height="5.5" fill="url(#g85)"/>
<rect x="100" y="575" width="800" height="5.5" fill="url(#g86)"/>
<rect x="100" y="580" width="800" height="5.5" fill="url(#g87)"/>
<rect x="100" y="585" width="800" height="5.5" fill="url(#g88)"/>
<rect x="100" y="590" width="800" height="5.5" fill="url(#g89)"/>
<rect x="100" y="595" width="800" height="5.5" fill="url(#g90)"/>
<rect x="100" y="600" width="800" height="5.5" fill="url(#g91)"/>
<rect x="100" y="605" width="800" height="5.5" fill="url(#g92)"/>
<rect x="100" y="610" width="800" height="5.5" fill="url(#g93)"/>
<rect x="100" y="615" width="800" height="5.5" fill="url(#g94)"/>
<rect x="100" y="620" width="800" height="5.5" fill="url(#g95)"/>
<rect x="100" y="625" width="800" height="5.5" fill="url(#g96)"/>
<rect x="100" y="630" width="800" height="5.5" fill="url(#g97)"/>
<rect x="100" y="635" width="800" height="5.5" fill="url(#g98)"/>
<rect x="100" y="640" width="800" height="5.5" fill="url(#g99)"/>
<rect x="100" y="645" width="800" height="5.5" fill="url(#g100)"/>
<rect x="100" y="650" width="800" height="5.5" fill="url(#g101)"/>
<rect x="100" y="655" width="800" height="5.5" fill="url(#g102)"/>
<rect x="100" y="660" width="800" height="5.5" fill="url(#g103)"/>
<rect x="100" y="665" width="800" height="5.5" fill="url(#g104)"/>
<rect x="100" y="670" width="800" height="5.5" fill="url(#g105)"/>
<rect x="100" y="675" width="800" height="5.5" fill="url(#g106)"/>
<rect x="100" y="680" width="800" height="5.5" fill="url(#g107)"/>
<rect x="100" y="685" width="800" height="5.5" fill="url(#g108)"/>
<rect x="100" y="690" width="800" height="5.5" fill="url(#g109)"/>
<rect x="100" y="695" width="800" height="5.5" fill="url(#g110)"/>
<rect x="100" y="700" width="800" height="5.5" fill="url(#g111)"/>
<rect x="100" y="705" width="800" height="5.5" fill="url(#g112)"/>
<rect x="100" y="710" width="800" height="5.5" fill="url(#g113)"/>
<rect x="100" y="715" width="800" height="5.5" fill="url(#g114)"/>
<rect x="100" y="720" width="800" height="5.5" fill="url(#g115)"/>
<rect x="100" y="725" width="800" height="5.5" fill="url(#g116)"/>
<rect x="100" y="730" width="800" height="5.5" fill="url(#g117)"/>
<rect x="100" y="735" width="800" height="5.5" fill="url(#g118)"/>
<rect x="100" y="740" width="800" height="5.5" fill="url(#g119)"/>
<rect x="100" y="745" width="800" height="5.5" fill="url(#g120)"/>
<rect x="100" y="750" width="800" height="5.5" fill="url(#g121)"/>
<rect x="100" y="755" width="800" height="5.5" fill="url(#g122)"/>
<rect x="100" y="760" width="800" height="5.5" fill="url(#g123)"/>
<rect x="100" y="765" width="800" height="5.5" fill="url(#g124)"/>
<rect x="100" y="770" width="800" height="5.5" fill="url(#g125)"/>
<rect x="100" y="775" width="800" height="5.5" fill="url(#g126)"/>
<rect x="100" y="780" width="800" height="5.5" fill="url(#g127)"/>
<rect x="100" y="785" width="800" height="5.5" fill="url(#g128)"/>
<rect x="100" y="790" width="800" height="5.5" fill="url(#g129)"/>
<rect x="100" y="795" width="800" height="5.5" fill="url(#g130)"/>
<rect x="100" y="800" width="800" height="5.5" fill="url(#g131)"/>
<rect x="100" y="805" width="800" height="5.5" fill="url(#g132)"/>
<rect x="100" y="810" width="800" height="5.5" fill="url(#g133)"/>
<rect x="100" y="815" width="800" height="5.5" fill="url(#g134)"/>
<rect x="100" y="820" width="800" height="5.5" fill="url(#g135)"/>
<rect x="100" y="825" width="800" height="5.5" fill="url(#g136)"/>
<rect x="100" y="830" width="800" height="5.5" fill="url(#g137)"/>
<rect x="100" y="835" width="800" height="5.5" fill="url(#g138)"/>
<rect x="100" y="840" width="800" height="5.5" fill="url(#g139)"/>
<rect x="100" y="845" width="800" height="5.5" fill="url(#g140)"/>
<rect x="100" y="850" width="800" height="5.5" fill="url(#g141)"/>
<rect x="100" y="855" width="800" height="5.5" fill="url(#g142)"/>
<rect x="100" y="860" width="800" height="5.5" fill="url(#g143)"/>
<rect x="100" y="865" width="800" height="5.5" fill="url(#g144)"/>
<rect x="100" y="870" width="800" height="5.5" fill="url(#g145)"/>
<rect x="100" y="875" width="800" height="5.5" fill="url(#g146)"/>
<rect x="100" y="880" width="800" height="5.5" fill="url(#g147)"/>
<rect x="100" y="885" width="800" height="5.5" fill="url(#g148)"/>
<rect x="100" y="890" width="800" height="5.5" fill="url(#g149)"/>
<rect x="100" y="895" width="800" height="5.5" fill="url(#g150)"/>
<rect x="100" y="900" width="800" height="5.5" fill="url(#g151)"/>
<rect x="100" y="905" width="800" height="5.5" fill="url(#g152)"/>
<rect x="100" y="910" width="800" height="5.5" fill="url(#g153)"/>
<rect x="100" y="915" width="800" height="5.5" fill="url(#g154)"/>
<rect x="100" y="920" width="800" height="5.5" fill="url(#g155)"/>
<rect x="100" y="925" width="800" height="5.5" fill="url(#g156)"/>
<rect x="100" y="930" width="800" height="5.5" fill="url(#g157)"/>
<rect x="100" y="935" width="800" height="5.5" fill="url(#g158)"/>
<rect x="100" y="940" width="800" height="5.5" fill="url(#g159)"/>
<rect x="100" y="945" width="800" height="5.5" fill="url(#g160)"/>
<rect x="100" y="950" width="800" height="5.5" fill="url(#g161)"/>
<!-- graticule -->
<g stroke="#bababa" stroke-width="1.9">
<line x1="140" y1="150" x2="140" y2="950"/>
<line x1="640" y1="150" x2="640" y2="950"/>
<line x1="100" y1="650" x2="900" y2="650"/>
</g>
</g>

<!-- current vectors -->
<line x1="100.90" y1="151.60" x2="109.34" y2="176.99" stroke="#000" stroke-width="1.9"/><polygon points="104.19,177.65 113.60,189.80 113.87,174.43" fill="#000"/>
<line x1="300.90" y1="151.60" x2="307.83" y2="176.88" stroke="#000" stroke-width="1.9"/><polygon points="302.65,177.26 311.40,189.90 312.48,174.57" fill="#000"/>
<line x1="500.90" y1="151.60" x2="506.48" y2="176.72" stroke="#000" stroke-width="1.9"/><polygon points="501.28,176.85 509.40,189.90 511.24,174.64" fill="#000"/>
<line x1="700.90" y1="151.60" x2="706.53" y2="177.51" stroke="#000" stroke-width="1.9"/><polygon points="701.34,177.61 709.40,190.70 711.30,175.45" fill="#000"/>
<line x1="100.90" y1="351.60" x2="109.87" y2="372.95" stroke="#000" stroke-width="1.9"/><polygon points="104.78,374.01 115.10,385.40 114.19,370.06" fill="#000"/>
<line x1="300.90" y1="351.60" x2="308.76" y2="372.10" stroke="#000" stroke-width="1.9"/><polygon points="303.64,372.99 313.60,384.70 313.17,369.34" fill="#000"/>
<line x1="500.90" y1="351.60" x2="508.05" y2="371.59" stroke="#000" stroke-width="1.9"/><polygon points="502.91,372.37 512.60,384.30 512.52,368.93" fill="#000"/>
<line x1="700.90" y1="351.60" x2="708.76" y2="372.10" stroke="#000" stroke-width="1.9"/><polygon points="703.64,372.99 713.60,384.70 713.17,369.34" fill="#000"/>
<line x1="100.90" y1="551.60" x2="110.62" y2="568.67" stroke="#000" stroke-width="1.9"/><polygon points="105.69,570.32 117.30,580.40 114.56,565.28" fill="#000"/>
<line x1="300.90" y1="551.60" x2="310.98" y2="568.17" stroke="#000" stroke-width="1.9"/><polygon points="306.11,569.96 318.00,579.70 314.82,564.66" fill="#000"/>
<line x1="500.90" y1="551.60" x2="511.26" y2="568.24" stroke="#000" stroke-width="1.9"/><polygon points="506.41,570.09 518.40,579.70 515.06,564.70" fill="#000"/>
<line x1="700.90" y1="551.60" x2="712.05" y2="568.44" stroke="#000" stroke-width="1.9"/><polygon points="707.24,570.42 719.50,579.70 715.75,564.79" fill="#000"/>
<line x1="100.90" y1="751.60" x2="109.06" y2="763.70" stroke="#000" stroke-width="1.9"/><polygon points="104.27,765.72 116.60,774.90 112.73,760.03" fill="#000"/>
<line x1="300.90" y1="751.60" x2="310.36" y2="764.13" stroke="#000" stroke-width="1.9"/><polygon points="305.69,766.40 318.50,774.90 313.83,760.26" fill="#000"/>
<line x1="500.90" y1="751.60" x2="512.55" y2="764.49" stroke="#000" stroke-width="1.9"/><polygon points="508.09,767.16 521.60,774.50 515.66,760.32" fill="#000"/>
<line x1="700.90" y1="751.60" x2="715.56" y2="764.78" stroke="#000" stroke-width="1.9"/><polygon points="711.41,767.90 725.60,773.80 718.22,760.31" fill="#000"/>

<!-- station marker -->
<circle cx="437.3" cy="710.4" r="6.4" fill="#fff" stroke="#000" stroke-width="2"/>

<!-- frame -->
<g stroke="#000" stroke-width="1.8">
<line x1="140" y1="142" x2="140" y2="149.5"/>
<line x1="140" y1="950.5" x2="140" y2="958"/>
<line x1="190" y1="145.8" x2="190" y2="149.5"/>
<line x1="190" y1="950.5" x2="190" y2="954.2"/>
<line x1="240" y1="145.8" x2="240" y2="149.5"/>
<line x1="240" y1="950.5" x2="240" y2="954.2"/>
<line x1="290" y1="145.8" x2="290" y2="149.5"/>
<line x1="290" y1="950.5" x2="290" y2="954.2"/>
<line x1="340" y1="145.8" x2="340" y2="149.5"/>
<line x1="340" y1="950.5" x2="340" y2="954.2"/>
<line x1="390" y1="145.8" x2="390" y2="149.5"/>
<line x1="390" y1="950.5" x2="390" y2="954.2"/>
<line x1="440" y1="145.8" x2="440" y2="149.5"/>
<line x1="440" y1="950.5" x2="440" y2="954.2"/>
<line x1="490" y1="145.8" x2="490" y2="149.5"/>
<line x1="490" y1="950.5" x2="490" y2="954.2"/>
<line x1="540" y1="145.8" x2="540" y2="149.5"/>
<line x1="540" y1="950.5" x2="540" y2="954.2"/>
<line x1="590" y1="145.8" x2="590" y2="149.5"/>
<line x1="590" y1="950.5" x2="590" y2="954.2"/>
<line x1="640" y1="142" x2="640" y2="149.5"/>
<line x1="640" y1="950.5" x2="640" y2="958"/>
<line x1="690" y1="145.8" x2="690" y2="149.5"/>
<line x1="690" y1="950.5" x2="690" y2="954.2"/>
<line x1="740" y1="145.8" x2="740" y2="149.5"/>
<line x1="740" y1="950.5" x2="740" y2="954.2"/>
<line x1="790" y1="145.8" x2="790" y2="149.5"/>
<line x1="790" y1="950.5" x2="790" y2="954.2"/>
<line x1="840" y1="145.8" x2="840" y2="149.5"/>
<line x1="840" y1="950.5" x2="840" y2="954.2"/>
<line x1="890" y1="145.8" x2="890" y2="149.5"/>
<line x1="890" y1="950.5" x2="890" y2="954.2"/>
<line x1="92" y1="150" x2="99.5" y2="150"/>
<line x1="901" y1="150" x2="907.5" y2="150"/>
<line x1="96" y1="200" x2="99.5" y2="200"/>
<line x1="901" y1="200" x2="904" y2="200"/>
<line x1="96" y1="250" x2="99.5" y2="250"/>
<line x1="901" y1="250" x2="904" y2="250"/>
<line x1="96" y1="300" x2="99.5" y2="300"/>
<line x1="901" y1="300" x2="904" y2="300"/>
<line x1="96" y1="350" x2="99.5" y2="350"/>
<line x1="901" y1="350" x2="904" y2="350"/>
<line x1="96" y1="400" x2="99.5" y2="400"/>
<line x1="901" y1="400" x2="904" y2="400"/>
<line x1="96" y1="450" x2="99.5" y2="450"/>
<line x1="901" y1="450" x2="904" y2="450"/>
<line x1="96" y1="500" x2="99.5" y2="500"/>
<line x1="901" y1="500" x2="904" y2="500"/>
<line x1="96" y1="550" x2="99.5" y2="550"/>
<line x1="901" y1="550" x2="904" y2="550"/>
<line x1="96" y1="600" x2="99.5" y2="600"/>
<line x1="901" y1="600" x2="904" y2="600"/>
<line x1="92" y1="650" x2="99.5" y2="650"/>
<line x1="901" y1="650" x2="907.5" y2="650"/>
<line x1="96" y1="700" x2="99.5" y2="700"/>
<line x1="901" y1="700" x2="904" y2="700"/>
<line x1="96" y1="750" x2="99.5" y2="750"/>
<line x1="901" y1="750" x2="904" y2="750"/>
<line x1="96" y1="800" x2="99.5" y2="800"/>
<line x1="901" y1="800" x2="904" y2="800"/>
<line x1="96" y1="850" x2="99.5" y2="850"/>
<line x1="901" y1="850" x2="904" y2="850"/>
<line x1="96" y1="900" x2="99.5" y2="900"/>
<line x1="901" y1="900" x2="904" y2="900"/>
<line x1="96" y1="950" x2="99.5" y2="950"/>
<line x1="901" y1="950" x2="904" y2="950"/>
</g>
<rect x="100.45" y="150.3" width="800" height="800" fill="none" stroke="#000" stroke-width="2.8"/>

<!-- axis labels -->
<g class="sans" font-size="11.15" fill="#111">
<text x="139.9" y="135" text-anchor="middle">&#8722;89&#176;05'15"</text>
<text x="639.9" y="135" text-anchor="middle">&#8722;89&#176;04'30"</text>
<text x="139.9" y="973.3" text-anchor="middle">&#8722;89&#176;05'15"</text>
<text x="639.9" y="973.3" text-anchor="middle">&#8722;89&#176;04'30"</text>
<text x="84.3" y="154" text-anchor="end">30&#176;16'30"</text>
<text x="84.3" y="654" text-anchor="end">30&#176;15'45"</text>
<text x="915" y="154">30&#176;16'30"</text>
<text x="915" y="654">30&#176;15'45"</text>
</g>

<!-- colorbar -->
<rect x="980.3" y="400" width="20.1" height="300" fill="url(#cb)"/>
<line x1="981" y1="400" x2="1000" y2="400" stroke="#b4b4b4" stroke-width="1.8"/>
<line x1="1001" y1="400" x2="1008.3" y2="400" stroke="#222" stroke-width="1.6"/>
<line x1="981" y1="430" x2="1000" y2="430" stroke="#b4b4b4" stroke-width="1.8"/>
<line x1="1001" y1="430" x2="1008.3" y2="430" stroke="#222" stroke-width="1.6"/>
<line x1="981" y1="460" x2="1000" y2="460" stroke="#b4b4b4" stroke-width="1.8"/>
<line x1="1001" y1="460" x2="1008.3" y2="460" stroke="#222" stroke-width="1.6"/>
<line x1="981" y1="490" x2="1000" y2="490" stroke="#b4b4b4" stroke-width="1.8"/>
<line x1="1001" y1="490" x2="1008.3" y2="490" stroke="#222" stroke-width="1.6"/>
<line x1="981" y1="520" x2="1000" y2="520" stroke="#b4b4b4" stroke-width="1.8"/>
<line x1="1001" y1="520" x2="1008.3" y2="520" stroke="#222" stroke-width="1.6"/>
<line x1="981" y1="550" x2="1000" y2="550" stroke="#b4b4b4" stroke-width="1.8"/>
<line x1="1001" y1="550" x2="1008.3" y2="550" stroke="#222" stroke-width="1.6"/>
<line x1="981" y1="580" x2="1000" y2="580" stroke="#b4b4b4" stroke-width="1.8"/>
<line x1="1001" y1="580" x2="1008.3" y2="580" stroke="#222" stroke-width="1.6"/>
<line x1="981" y1="610" x2="1000" y2="610" stroke="#b4b4b4" stroke-width="1.8"/>
<line x1="1001" y1="610" x2="1008.3" y2="610" stroke="#222" stroke-width="1.6"/>
<line x1="981" y1="640" x2="1000" y2="640" stroke="#b4b4b4" stroke-width="1.8"/>
<line x1="1001" y1="640" x2="1008.3" y2="640" stroke="#222" stroke-width="1.6"/>
<line x1="981" y1="670" x2="1000" y2="670" stroke="#b4b4b4" stroke-width="1.8"/>
<line x1="1001" y1="670" x2="1008.3" y2="670" stroke="#222" stroke-width="1.6"/>
<line x1="981" y1="700" x2="1000" y2="700" stroke="#b4b4b4" stroke-width="1.8"/>
<line x1="1001" y1="700" x2="1008.3" y2="700" stroke="#222" stroke-width="1.6"/>
<rect x="980.3" y="400" width="20.1" height="300" fill="none" stroke="#000" stroke-width="2.6"/>
<line x1="980" y1="400" x2="1001" y2="400" stroke="#b4b4b4" stroke-width="1.4"/>
<line x1="980" y1="700" x2="1001" y2="700" stroke="#b4b4b4" stroke-width="1.4"/>
<g class="sans" font-size="11.2" fill="#111">
<text x="1036.3" y="403.9" text-anchor="end">30.0</text>
<text x="1036.3" y="433.9" text-anchor="end">27.4</text>
<text x="1036.3" y="463.9" text-anchor="end">24.8</text>
<text x="1036.3" y="493.9" text-anchor="end">22.2</text>
<text x="1036.3" y="523.9" text-anchor="end">19.6</text>
<text x="1036.3" y="553.9" text-anchor="end">17.0</text>
<text x="1036.3" y="583.9" text-anchor="end">14.4</text>
<text x="1036.3" y="613.9" text-anchor="end">11.8</text>
<text x="1036.3" y="643.9" text-anchor="end">9.2</text>
<text x="1036.3" y="673.9" text-anchor="end">6.6</text>
<text x="1036.3" y="703.9" text-anchor="end">4.0</text>
</g>
<text class="sans" font-size="14.1" font-weight="bold" fill="#000" text-anchor="middle" transform="translate(1055.3,550) rotate(-90)">Salinity (psu)</text>
</svg>
</body></html>
